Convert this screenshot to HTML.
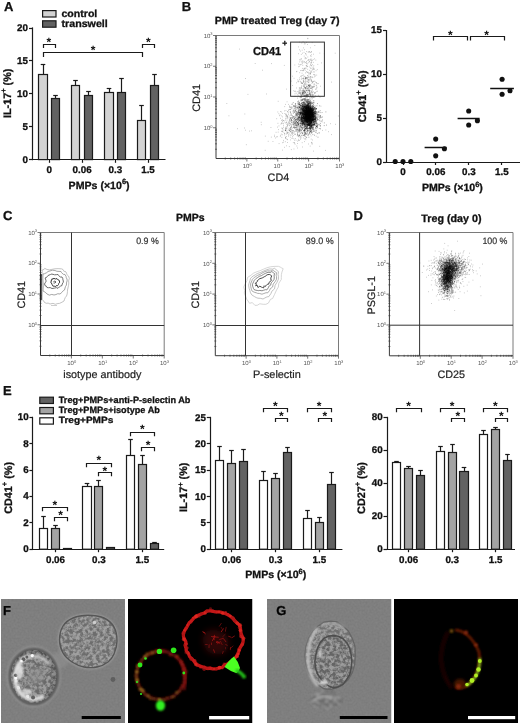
<!DOCTYPE html>
<html><head><meta charset="utf-8"><style>
html,body{margin:0;padding:0;background:#fff;}
body{width:520px;height:724px;overflow:hidden;}
svg{display:block;will-change:transform;}
text{font-family:"Liberation Sans",sans-serif;text-rendering:geometricPrecision;}
text[font-weight="bold"]{stroke:#111;stroke-width:0.3px;}
text[fill="#222"]{stroke:#222;stroke-width:0.2px;}
text[fill="#333"]{stroke:#333;stroke-width:0.2px;}
</style></head><body>
<svg width="520" height="724" viewBox="0 0 520 724">
<defs>
<filter id="nz" x="0" y="0" width="100%" height="100%" color-interpolation-filters="sRGB">
<feTurbulence type="fractalNoise" baseFrequency="0.3" numOctaves="3" seed="7"/>
<feColorMatrix type="matrix" values="3.2 0 0 0 -1.1  3.2 0 0 0 -1.1  3.2 0 0 0 -1.1  0 0 0 0 1"/>
<feGaussianBlur stdDeviation="0.65"/>
</filter>
<filter id="nz2" x="0" y="0" width="100%" height="100%" color-interpolation-filters="sRGB">
<feTurbulence type="fractalNoise" baseFrequency="0.5" numOctaves="1" seed="21"/>
<feColorMatrix type="matrix" values="1 0 0 0 0  1 0 0 0 0  1 0 0 0 0  0 0 0 0 1"/>
</filter>
<filter id="nzr" x="0" y="0" width="100%" height="100%" color-interpolation-filters="sRGB">
<feTurbulence type="fractalNoise" baseFrequency="0.35" numOctaves="2" seed="4"/>
<feColorMatrix type="matrix" values="0 0 0 0 0.85  0 0 0 0 0.05  0 0 0 0 0.05  3 0 0 0 -1.3"/>
</filter>
<filter id="bl1" x="-20%" y="-20%" width="140%" height="140%"><feGaussianBlur stdDeviation="0.9"/></filter>
<filter id="bl2" x="-30%" y="-30%" width="160%" height="160%"><feGaussianBlur stdDeviation="1.6"/></filter>
<filter id="bl3" x="-50%" y="-50%" width="200%" height="200%"><feGaussianBlur stdDeviation="3"/></filter>
<filter id="bl05" x="-20%" y="-20%" width="140%" height="140%"><feGaussianBlur stdDeviation="0.5"/></filter>
<filter id="sb" x="-5%" y="-5%" width="110%" height="110%"><feGaussianBlur stdDeviation="0.35"/></filter>
<clipPath id="cF"><rect x="1" y="599" width="124" height="124"/></clipPath>
<clipPath id="cFr"><rect x="128" y="599" width="124.5" height="124"/></clipPath>
<clipPath id="cG"><rect x="267" y="599" width="124.5" height="124"/></clipPath>
<clipPath id="cGr"><rect x="394" y="599" width="124" height="124"/></clipPath>
<clipPath id="cellA"><path d="M88 615.2C93.17 615.2 99.67 616.03 104 618C108.33 619.97 111.83 623.17 114 627C116.17 630.83 117 636.5 117 641C117 645.5 115.5 650.5 114 654C112.5 657.5 110.83 659.83 108 662C105.17 664.17 101 666.17 97 667C93 667.83 88.17 667.83 84 667C79.83 666.17 75.5 664.33 72 662C68.5 659.67 65.08 656.67 63 653C60.92 649.33 59.5 644.5 59.5 640C59.5 635.5 60.75 629.67 63 626C65.25 622.33 68.83 619.8 73 618C77.17 616.2 82.83 615.2 88 615.2Z"/></clipPath><clipPath id="cellB"><ellipse cx="33.7" cy="676.5" rx="23" ry="26.5"/></clipPath><clipPath id="cellG"><ellipse cx="333.6" cy="661.5" rx="18.4" ry="26.3"/></clipPath><clipPath id="ringR"><ellipse cx="213.5" cy="640.5" rx="29" ry="29.5"/></clipPath><clipPath id="cellGo"><path d="M355.28 655.5L354.65 664.43L352.29 672.86L348.13 679.83L342.71 684.69L336.77 687.78L330.5 689.49L324.04 688.76L318.15 685.02L312.82 679.9L308.68 672.89L305.94 664.58L305.01 655.5L305.95 646.42L308.69 638.12L312.83 631.11L318.18 626.06L324.01 622.08L330.5 621.04L337.01 621.96L342.89 625.9L348.24 631.02L352.23 638.18L354.98 646.45Z"/></clipPath><clipPath id="blobG"><ellipse cx="326" cy="700" rx="16" ry="10"/></clipPath></defs>
<rect width="520" height="724" fill="#fff"/>
<text x="4" y="11" font-size="13" fill="#111" font-weight="bold">A</text>
<rect x="42.6" y="10.6" width="13.4" height="6.4" fill="#d3d3d3" stroke="#1a1a1a" stroke-width="1.2"/>
<rect x="42.6" y="20.8" width="13.4" height="6.4" fill="#626262" stroke="#1a1a1a" stroke-width="1.2"/>
<text x="61.5" y="16.8" font-size="10.3" fill="#111" font-weight="bold" textLength="35.8" lengthAdjust="spacingAndGlyphs">control</text>
<text x="61.5" y="26.7" font-size="10.3" fill="#111" font-weight="bold" textLength="46.3" lengthAdjust="spacingAndGlyphs">transwell</text>
<line x1="32.5" y1="27.4" x2="32.5" y2="160.2" stroke="#1a1a1a" stroke-width="1.2"/>
<line x1="32.1" y1="159.5" x2="165.5" y2="159.5" stroke="#1a1a1a" stroke-width="1.2"/>
<line x1="29" y1="159.5" x2="32.7" y2="159.5" stroke="#1a1a1a" stroke-width="1.2"/>
<text x="28" y="162.6" font-size="9.8" fill="#111" text-anchor="end" font-weight="bold">0</text>
<line x1="29" y1="126.5" x2="32.7" y2="126.5" stroke="#1a1a1a" stroke-width="1.2"/>
<text x="28" y="129.7" font-size="9.8" fill="#111" text-anchor="end" font-weight="bold">5</text>
<line x1="29" y1="93.5" x2="32.7" y2="93.5" stroke="#1a1a1a" stroke-width="1.2"/>
<text x="28" y="96.8" font-size="9.8" fill="#111" text-anchor="end" font-weight="bold">10</text>
<line x1="29" y1="60.5" x2="32.7" y2="60.5" stroke="#1a1a1a" stroke-width="1.2"/>
<text x="28" y="63.9" font-size="9.8" fill="#111" text-anchor="end" font-weight="bold">15</text>
<line x1="29" y1="28.5" x2="32.7" y2="28.5" stroke="#1a1a1a" stroke-width="1.2"/>
<text x="28" y="31" font-size="9.8" fill="#111" text-anchor="end" font-weight="bold">20</text>
<line x1="49.5" y1="159.6" x2="49.5" y2="162.8" stroke="#1a1a1a" stroke-width="1.2"/>
<text x="49.3" y="172.8" font-size="9.8" fill="#111" text-anchor="middle" font-weight="bold">0</text>
<line x1="82.5" y1="159.6" x2="82.5" y2="162.8" stroke="#1a1a1a" stroke-width="1.2"/>
<text x="82.1" y="172.8" font-size="9.8" fill="#111" text-anchor="middle" font-weight="bold">0.06</text>
<line x1="115.5" y1="159.6" x2="115.5" y2="162.8" stroke="#1a1a1a" stroke-width="1.2"/>
<text x="115.3" y="172.8" font-size="9.8" fill="#111" text-anchor="middle" font-weight="bold">0.3</text>
<line x1="148.5" y1="159.6" x2="148.5" y2="162.8" stroke="#1a1a1a" stroke-width="1.2"/>
<text x="148" y="172.8" font-size="9.8" fill="#111" text-anchor="middle" font-weight="bold">1.5</text>
<text x="99.1" y="189" font-size="10.6" font-weight="bold" fill="#111" text-anchor="middle">PMPs (×10<tspan font-size="7.5" dy="-4.6">6</tspan><tspan dy="4.6">)</tspan></text>
<text transform="translate(10.6 93.3) rotate(-90)" x="0" y="0" font-size="10.8" fill="#111" text-anchor="middle" font-weight="bold">IL-17<tspan font-size="7.5" dy="-4.6">+</tspan><tspan dy="4.6"> (%)</tspan></text>
<line x1="43.5" y1="74.5" x2="43.5" y2="64.5" stroke="#1a1a1a" stroke-width="1.2"/>
<line x1="40.7" y1="64.5" x2="45.3" y2="64.5" stroke="#1a1a1a" stroke-width="1.2"/>
<rect x="38.5" y="74.5" width="9" height="85.1" fill="#d3d3d3" stroke="#1a1a1a" stroke-width="1.2"/>
<line x1="75.5" y1="85.5" x2="75.5" y2="80.5" stroke="#1a1a1a" stroke-width="1.2"/>
<line x1="73.2" y1="80.5" x2="77.8" y2="80.5" stroke="#1a1a1a" stroke-width="1.2"/>
<rect x="71.5" y="85.5" width="8" height="74.1" fill="#d3d3d3" stroke="#1a1a1a" stroke-width="1.2"/>
<line x1="109.5" y1="92.5" x2="109.5" y2="88.5" stroke="#1a1a1a" stroke-width="1.2"/>
<line x1="106.7" y1="88.5" x2="111.3" y2="88.5" stroke="#1a1a1a" stroke-width="1.2"/>
<rect x="104.5" y="92.5" width="9" height="67.1" fill="#d3d3d3" stroke="#1a1a1a" stroke-width="1.2"/>
<line x1="141.5" y1="120.5" x2="141.5" y2="105.5" stroke="#1a1a1a" stroke-width="1.2"/>
<line x1="139.2" y1="105.5" x2="143.8" y2="105.5" stroke="#1a1a1a" stroke-width="1.2"/>
<rect x="137.5" y="120.5" width="8" height="39.1" fill="#d3d3d3" stroke="#1a1a1a" stroke-width="1.2"/>
<line x1="55.5" y1="98.5" x2="55.5" y2="95.5" stroke="#1a1a1a" stroke-width="1.2"/>
<line x1="53.2" y1="95.5" x2="57.8" y2="95.5" stroke="#1a1a1a" stroke-width="1.2"/>
<rect x="51.5" y="98.5" width="8" height="61.1" fill="#626262" stroke="#1a1a1a" stroke-width="1.2"/>
<line x1="88.5" y1="95.5" x2="88.5" y2="91.5" stroke="#1a1a1a" stroke-width="1.2"/>
<line x1="86.2" y1="91.5" x2="90.8" y2="91.5" stroke="#1a1a1a" stroke-width="1.2"/>
<rect x="84.5" y="95.5" width="8" height="64.1" fill="#626262" stroke="#1a1a1a" stroke-width="1.2"/>
<line x1="121.5" y1="92.5" x2="121.5" y2="78.5" stroke="#1a1a1a" stroke-width="1.2"/>
<line x1="119.2" y1="78.5" x2="123.8" y2="78.5" stroke="#1a1a1a" stroke-width="1.2"/>
<rect x="117.5" y="92.5" width="8" height="67.1" fill="#626262" stroke="#1a1a1a" stroke-width="1.2"/>
<line x1="154.5" y1="85.5" x2="154.5" y2="74.5" stroke="#1a1a1a" stroke-width="1.2"/>
<line x1="152.2" y1="74.5" x2="156.8" y2="74.5" stroke="#1a1a1a" stroke-width="1.2"/>
<rect x="150.5" y="85.5" width="8" height="74.1" fill="#626262" stroke="#1a1a1a" stroke-width="1.2"/>
<path d="M43.5 47.9V44.5H55.5V47.9" stroke="#1a1a1a" stroke-width="1.2" fill="none"/>
<path d="M43.5 56.9V52.5H142.5V56.9" stroke="#1a1a1a" stroke-width="1.2" fill="none"/>
<path d="M142.5 47.9V44.5H154.5V47.9" stroke="#1a1a1a" stroke-width="1.2" fill="none"/>
<text x="48.9" y="46.12" font-size="12" font-weight="bold" fill="#111" text-anchor="middle" style="stroke:none">*</text>
<text x="93" y="53.92" font-size="12" font-weight="bold" fill="#111" text-anchor="middle" style="stroke:none">*</text>
<text x="148.4" y="46.12" font-size="12" font-weight="bold" fill="#111" text-anchor="middle" style="stroke:none">*</text>
<text x="181.8" y="11.2" font-size="13" fill="#111" font-weight="bold">B</text>
<text x="214.8" y="23.8" font-size="10.5" fill="#111" font-weight="bold" textLength="124.8" lengthAdjust="spacingAndGlyphs">PMP treated Treg (day 7)</text>
<path d="M307.5 38.3h.7m-5.5 3.3h.7m8.4 1h.7m-5.3 1.9h.7m6.6 1h.7m-37 2h.7m31.2 .3h.7m-7.5 .1h.7m-4.9 1.9h.7m.4 1.3h.7m5.1 .5h.7m1.2 .2h.7m.6 .1h.7m1.2 .1h.7m-4 .2h.7m1.6 .3h.7m24 .7h.7m-37.5 .5h.7m6.8 .1h.7m-5.3 .6h.7m9.4 .4h.7m-5.8 .2h.7m-2.8 1.1h.7m6.2 .4h.7m-3.9 .5h.7m-3.5 1.8h.7m8.7 0h.7m-14.1 .1h.7m-.4 0h.7m8.4 .3h.7m.5 0h.7m-3.8 .3h.7m-9.6 .3h.7m.1 .1h.7m6.8 .4h.7m-.5 .1h.7m3.3 0h.7m-10 .4h.7m8.3 0h.7m-11.3 .5h.7m7.3 .1h.7m-3.4 .1h.7m-4.6 .3h.7m6.1 0h.7m-10.4 .1h.7m2.9 .1h.7m9.2 .4h.7m-8.5 .2h.7m-1.3 .1h.7m2.7 0h.7m-2.6 .1h.7m3.4 .1h.7m-56 .6h.7m15.7 .1h.7m30.3 .1h.7m7.2 .7h.7m6.7 0h.7m-23.7 .6h.7m-11.3 .4h.7m26.6 .1h.7m-.4 .5h.7m-13 .3h.7m-1.6 .4h.7m7.5 .1h.7m5.7 .3h.7m-3.6 .9h.7m1.1 0h.7m-7.3 .1h.7m-.2 .2h.7m7.3 .1h.7m-7 .9h.7m5.4 .2h.7m-10.5 .1h.7m9.3 0h.7m2.5 0h.7m-55.4 .6h.7m41.9 0h.7m3.5 .1h.7m-8.3 .1h.7m13.6 .3h.7m-13.7 .1h.7m2.9 .8h.7m-10.7 .1h.7m9.9 .4h.7m-.7 .4h.7m2.2 .4h.7m-.9 .3h.7m-.3 .1h.7m2.4 1.3h.7m2.6 .5h.7m-14.7 .3h.7m4.6 .6h.7m6.6 0h.7m-23.6 .2h.7m7.2 .1h.7m11.1 .5h.7m1.7 0h.7m-13.8 .1h.7m3.5 .1h.7m2.8 0h.7m-4.2 .5h.7m.5 0h.7m.5 .1h.7m3.1 .1h.7m-3.4 .1h.7m-6.6 .2h.7m-9.9 .3h.7m10.8 .2h.7m0 .1h.7m-1.7 .1h.7m4.3 .2h.7m-7 .1h.7m-3.4 .1h.7m8.3 0h.7m-3.1 .1h.7m-8.9 .4h.7m8 .2h.7m-.5 0h.7m-3.7 .2h.7m4.7 .8h.7m-8.1 .1h.7m7.2 0h.7m-13.4 .1h.7m8.4 .1h.7m-8.4 .2h.7m2.6 0h.7m9 0h.7m-15.8 .2h.7m15.1 0h.7m-7.4 .1h.7m-2.7 .2h.7m-7.7 .1h.7m2 0h.7m1.9 .1h.7m27.2 .1h.7m-30.2 .3h.7m9.7 0h.7m-7.1 .2h.7m-4.7 .3h.7m-1.2 .5h.7m9.9 0h.7m-10 .2h.7m1.4 .3h.7m9 .2h.7m-11.1 .2h.7m1.4 .3h.7m2.7 0h.7m-.2 .1h.7m-5.4 .1h.7m4.4 0h.7m-6.9 .3h.7m-1.6 .1h.7m4.3 .2h.7m-.3 .3h.7m.9 .2h.7m-6.6 .1h.7m4.2 .1h.7m-.4 0h.7m-7 .2h.7m5.4 .1h.7m-3.1 .1h.7m3.7 .1h.7m1.1 0h.7m-5.6 .2h.7m5.1 0h.7m-8 .4h.7m9.3 0h.7m-.6 0h.7m-18.4 .6h.7m5.2 0h.7m6.6 0h.7m-16.6 .2h.7m2.5 0h.7m4.3 .1h.7m-4.7 .1h.7m8.7 .1h.7m-3.1 .1h.7m-7.3 .1h.7m6.4 0h.7m2.2 .1h.7m-5.2 .1h.7m8.5 .5h.7m-.7 0h.7m-3.9 .5h.7m-4.8 .2h.7m-8.8 .1h.7m8.4 0h.7m-9.7 .1h.7m4.9 0h.7m2.4 0h.7m-11 .1h.7m3.4 0h.7m.4 .1h.7m.4 0h.7m-6.6 .1h.7m6.2 .1h.7m4.1 0h.7m-17.9 .1h.7m13.8 0h.7m-7.1 .1h.7m7.2 0h.7m-7.7 .2h.7m8.6 0h.7m-8.2 .2h.7m12.3 .1h.7m-1.6 .2h.7m-12.7 .2h.7m8.1 .2h.7m-16.1 .1h.7m13.1 0h.7m-9.8 .1h.7m.5 0h.7m-4.5 .1h.7m4.3 0h.7m-.4 0h.7m-7.4 .1h.7m4.1 .1h.7m1.2 0h.7m-5.5 .3h.7m5.9 0h.7m-5.5 .2h.7m-.4 0h.7m11.4 0h.7m-15.9 .2h.7m5.1 0h.7m8.9 .1h.7m-6.3 .1h.7m-7.2 .2h.7m1.3 0h.7m-9.6 .3h.7m6.4 0h.7m10.5 0h.7m-12.6 .1h.7m7 0h.7m-16 .1h.7m12.4 0h.7m3.6 0h.7m-46.6 .1h.7m44.3 0h.7m-10.1 .1h.7m1.3 0h.7m5.5 0h.7m-8.5 .1h.7m-5.3 .1h.7m8 0h.7m1.1 .1h.7m-2.7 .1h.7m.3 0h.7m-.3 .1h.7m1.4 0h.7m-.3 0h.7m1.6 0h.7m-7.3 .1h.7m2.6 0h.7m3.7 .1h.7m-5.6 .1h.7m-1.7 .2h.7m-2.2 .1h.7m.2 0h.7m.2 0h.7m1.9 0h.7m-13.2 .2h.7m6.2 0h.7m4.5 0h.7m-4.2 .1h.7m.3 0h.7m-3 .2h.7m6.2 0h.7m-9.2 .2h.7m4.1 0h.7m-8.1 .1h.7m5.9 0h.7m-4.3 .1h.7m1.3 0h.7m-.3 0h.7m-2.6 .1h.7m1.1 0h.7m.6 .1h.7m-3.8 .1h.7m-4.7 .1h.7m11.1 0h.7m-12.3 .1h.7m-1.4 .4h.7m5.8 0h.7m5 0h.7m-2.9 .2h.7m4 0h.7m-14.7 .1h.7m10.2 0h.7m-2.8 .3h.7m2 1.2h.7m-11.4 1.3h.7m4.3 .9h.7m-29.3 .3h.7m8.2 .5h.7m15 1.4h.7m-76.6 .3h.7m64 .8h.7m2.8 1.2h.7m8.4 .1h.7m4.2 0h.7m-20.4 .4h.7m4.6 .1h.7m-10.6 .5h.7m12.8 .1h.7m-3.5 .1h.7m-.2 .4h.7m13.7 .1h.7m-21.5 .1h.7m10.7 0h.7m-4.3 .3h.7m8.7 0h.7m-.8 .2h.7m-5.7 .3h.7m4.4 0h.7m-5.1 .4h.7m-4.8 .2h.7m11.9 .2h.7m-20.6 .1h.7m12 .1h.7m-9.3 .1h.7m-6.3 .2h.7m12 0h.7m-14 .2h.7m.7 0h.7m11.4 0h.7m1.2 0h.7m-11.8 .3h.7m1.5 .3h.7m11.4 .1h.7m-22.2 .2h.7m1.7 .1h.7m14.3 .1h.7m-19.4 .1h.7m19.2 .3h.7m-.4 0h.7m9.3 0h.7m-22.7 .1h.7m12.3 0h.7m5.7 0h.7m-17.7 .1h.7m2.3 0h.7m.6 .1h.7m11.4 0h.7m-24.6 .1h.7m6.5 0h.7m-2.1 .1h.7m6.9 0h.7m-1 .1h.7m-2.9 .2h.7m7.2 .1h.7m-9.2 .2h.7m9.2 0h.7m.2 .2h.7m.7 0h.7m11.3 0h.7m-21.8 .1h.7m-1 .2h.7m-2.4 .2h.7m2.4 0h.7m4.5 0h.7m-5.8 .1h.7m3.5 0h.7m-10.4 .1h.7m-2.1 .1h.7m4.4 0h.7m4.8 .1h.7m-10.7 .1h.7m6.8 .2h.7m2.4 0h.7m.1 0h.7m-10.3 .1h.7m3.6 .1h.7m10.7 0h.7m-28.2 .2h.7m16.6 .1h.7m7.8 0h.7m-3.5 .1h.7m.7 0h.7m-22.8 .1h.7m8.5 0h.7m2.8 .1h.7m-.1 0h.7m3.4 0h.7m-9.4 .2h.7m10.3 0h.7m-9.3 .1h.7m5.4 0h.7m.4 0h.7m-27.3 .1h.7m27.5 0h.7m-2.2 .1h.7m10.4 0h.7m-26.8 .1h.7m5.2 .1h.7m4.9 0h.7m-17.2 .1h.7m3.7 0h.7m.4 .2h.7m3.6 0h.7m7 0h.7m-17.8 .4h.7m-2 .1h.7m15.3 .1h.7m5.8 0h.7m-11.5 .1h.7m21.9 .1h.7m-14.5 .1h.7m-14 .2h.7m5.3 0h.7m-12.1 .1h.7m15.7 0h.7m6.5 0h.7m-5.2 .1h.7m5.8 0h.7m-20.6 .2h.7m8.9 0h.7m-.6 0h.7m-8.3 .1h.7m2.7 0h.7m5.5 0h.7m-7 .1h.7m.3 0h.7m6.6 0h.7m-11.8 .2h.7m5 .2h.7m.7 0h.7m-13.1 .1h.7m8.6 0h.7m.4 0h.7m6.9 0h.7m-18.5 .2h.7m10 0h.7m-10.9 .1h.7m15.9 0h.7m-22.6 .1h.7m.8 0h.7m2.6 0h.7m11 0h.7m.9 0h.7m-14.4 .1h.7m16.9 0h.7m-22.9 .2h.7m17 0h.7m.5 0h.7m-12.8 .1h.7m4.3 0h.7m3.2 0h.7m4.7 0h.7m-5.1 .1h.7m3.9 0h.7m-7.1 .1h.7m8.7 0h.7m-16.4 .1h.7m-.5 0h.7m3.4 .2h.7m2.9 0h.7m-6.5 .1h.7m.5 0h.7m-2.1 .1h.7m-5.9 .1h.7m-9.6 .1h.7m20.4 0h.7m.4 0h.7m8.1 0h.7m-16.5 .1h.7m6.5 .1h.7m-14 .1h.7m4.9 0h.7m4.7 0h.7m10.4 0h.7m-15.8 .1h.7m7.6 0h.7m2.1 0h.7m.6 0h.7m-17.5 .1h.7m1.6 0h.7m8.8 0h.7m5.1 0h.7m-26.6 .1h.7m15.3 0h.7m3.9 0h.7m0 0h.7m-3.8 .2h.7m4.1 0h.7m-17.9 .1h.7m11.4 0h.7m-.3 .1h.7m-3 .1h.7m-.6 0h.7m-.2 .1h.7m3.7 0h.7m-8.4 .1h.7m-.6 0h.7m.3 0h.7m1.7 0h.7m-.5 0h.7m-20.8 .1h.7m12.4 0h.7m.8 0h.7m3.1 0h.7m5.4 0h.7m-.3 0h.7m-17.1 .1h.7m14.9 0h.7m-11.6 .1h.7m11.6 0h.7m-5.4 .1h.7m5.2 0h.7m-2.6 .1h.7m.9 0h.7m0 .1h.7m-16.9 .1h.7m2.3 0h.7m-7.1 .1h.7m23.6 0h.7m-8.4 .2h.7m.3 0h.7m.5 0h.7m1.7 0h.7m-15.4 .1h.7m-.6 0h.7m3 0h.7m4.5 .1h.7m15.9 0h.7m-30.9 .1h.7m3.3 0h.7m5.8 0h.7m2.6 0h.7m-17.3 .1h.7m-.1 0h.7m19.1 0h.7m-18.3 .1h.7m.9 .1h.7m9.4 0h.7m2.4 0h.7m1.2 0h.7m5.7 0h.7m-12.4 .1h.7m-8 .1h.7m6.3 0h.7m-5.1 .1h.7m-5.6 .1h.7m3.1 0h.7m-.7 0h.7m4.3 0h.7m4.2 0h.7m-13 .1h.7m-10.4 .1h.7m2.1 0h.7m4 0h.7m2.2 0h.7m.7 0h.7m5.4 .1h.7m10.4 0h.7m-33.4 .1h.7m20.5 0h.7m2 0h.7m3.8 0h.7m-29.5 .1h.7m22.9 0h.7m.8 0h.7m-29.2 .1h.7m4.2 .1h.7m6.8 0h.7m4.2 0h.7m2.3 .1h.7m5.2 0h.7m-15.8 .1h.7m4.5 .2h.7m1 0h.7m0 0h.7m-9.5 .1h.7m5.5 .1h.7m2.3 0h.7m4.3 0h.7m6.1 .1h.7m2.2 0h.7m-25.5 .1h.7m-.6 0h.7m8 0h.7m2.3 0h.7m3 .1h.7m1.1 0h.7m-7.1 .1h.7m-3.5 .1h.7m-5.4 .1h.7m17.1 0h.7m5.9 0h.7m-54.2 .1h.7m29.7 0h.7m4 0h.7m1.2 0h.7m4.3 0h.7m-15.2 .2h.7m4.6 0h.7m13.7 0h.7m-10.4 .1h.7m1.4 0h.7m-11.7 .1h.7m16 0h.7m-13.3 .1h.7m15.1 0h.7m-13.5 .1h.7m5.3 0h.7m3.1 0h.7m.1 .1h.7m1.2 0h.7m-15.3 .1h.7m1.3 0h.7m8.3 0h.7m.3 0h.7m-9.5 .1h.7m-15.3 .1h.7m13.3 0h.7m.9 0h.7m3.5 0h.7m9.8 0h.7m-17.7 .1h.7m19.2 0h.7m-16.7 .1h.7m-.5 0h.7m12.1 0h.7m-23.2 .2h.7m13.3 0h.7m-6.2 .1h.7m3.9 0h.7m-13.3 .1h.7m10.9 0h.7m6.3 0h.7m-17.4 .1h.7m0 0h.7m9.5 0h.7m-5 .1h.7m6.1 0h.7m-9.9 .1h.7m21.8 0h.7m-4.1 .1h.7m-7 .1h.7m-20.6 .5h.7m11.1 0h.7m3.6 0h.7m-13.1 .1h.7m.1 0h.7m4.4 0h.7m12.4 0h.7m-43.1 .1h.7m22.2 0h.7m.8 0h.7m11.6 0h.7m-12.7 .1h.7m6.7 0h.7m-17.3 .2h.7m14 0h.7m-10.1 .1h.7m4.3 0h.7m-.6 0h.7m18.1 0h.7m-72 .1h.7m36.7 .1h.7m10 0h.7m7 .1h.7m5 0h.7m.1 0h.7m-17.4 .1h.7m14.2 0h.7m4.4 0h.7m-25.1 .2h.7m25.9 0h.7m-26.5 .1h.7m19.6 0h.7m2.9 0h.7m-73.5 .1h.7m82.2 0h.7m-10.1 .1h.7m-1.3 .1h.7m-21.2 .1h.7m-3.8 .1h.7m10.2 0h.7m12 0h.7m-20.8 .1h.7m6.8 .1h.7m.3 0h.7m6.9 0h.7m-28.4 .3h.7m16.5 0h.7m1.3 .2h.7m.9 .1h.7m.9 .1h.7m5.6 0h.7m17.8 0h.7m-17.3 .1h.7m-64.4 .1h.7m54.9 0h.7m-16.1 .2h.7m2.9 0h.7m2.3 0h.7m11.4 0h.7m3 0h.7m13.8 0h.7m-30.3 .1h.7m6.3 0h.7m-15.1 .1h.7m12 0h.7m2.3 0h.7m1.4 0h.7m6.8 0h.7m-24.7 .1h.7m29 0h.7m-65.8 .1h.7m38.8 0h.7m-2.4 .1h.7m3.3 0h.7m3.6 0h.7m-.4 0h.7m7.2 0h.7m-13.4 .1h.7m-44.4 .1h.7m46.1 0h.7m13.3 0h.7m-29.4 .2h.7m8 0h.7m4 0h.7m4.3 0h.7m2.6 0h.7m-21.3 .1h.7m16.3 .1h.7m9.3 0h.7m-19.6 .1h.7m19.2 0h.7m-4.2 .1h.7m-9.1 .1h.7m8.4 .1h.7m2 0h.7m-16.7 .1h.7m9.4 0h.7m10.7 0h.7m-38.6 .1h.7m27 0h.7m-23.4 .1h.7m8.8 0h.7m9.7 0h.7m-11 .1h.7m16.7 0h.7m-5.7 .2h.7m3.7 0h.7m-22.1 .1h.7m12.5 0h.7m-14.5 .1h.7m3.5 0h.7m19.6 .1h.7m-15.5 .1h.7m3.1 0h.7m.7 .1h.7m-14 .1h.7m12.8 0h.7m2.7 0h.7m-22.2 .2h.7m1.7 0h.7m3.7 0h.7m-7.3 .1h.7m20.6 .1h.7m-3.8 .3h.7m-6.3 .1h.7m-3.7 .2h.7m14.2 0h.7m-23.8 .1h.7m8.6 0h.7m-7.3 .1h.7m14.6 0h.7m5.4 0h.7m-15.9 .1h.7m35.8 .2h.7m-50 .1h.7m15.1 .1h.7m9.7 0h.7m-24.5 .1h.7m3.5 .2h.7m12.3 .1h.7m1.4 0h.7m-13.7 .1h.7m-10.9 .1h.7m16.4 0h.7m4.8 .1h.7m-5.6 .1h.7m.2 .1h.7m-2.9 .1h.7m-32.6 .3h.7m39.7 0h.7m-26.1 .2h.7m24.1 .1h.7m-19.4 .2h.7m-15.8 .5h.7m13.7 0h.7m19.8 .1h.7m-.1 .5h.7m-6.4 .2h.7m1.5 0h.7m-11.2 .2h.7m12.2 .5h.7m-12.5 .2h.7m-7.3 .9h.7m17.9 0h.7m6.1 .3h.7m-17.3 .2h.7m1.9 .3h.7m-1.6 .7h.7m-25.5 .3h.7m30.7 .1h.7m-19.8 .1h.7m-2.3 .5h.7m27.3 .2h.7m-24.7 .1h.7m4.9 .1h.7m18 0h.7m-30.1 .1h.7m18.9 0h.7m-8.2 .5h.7m17 .7h.7m-4.5 .1h.7m-63 .7h.7m72.8 1.6h.7m-17.9 .7h.7m-18.9 .3h.7m12.6 .7h.7m-4.4 1h.7m-12.2 1.1h.7" stroke="#000" stroke-width="0.7" stroke-opacity="0.4" fill="none" filter="url(#sb)"/>
<path d="M307.5 38.7h.7m-9 3.4h.7m6.2 .3h.7m-2.8 .4h.7m-3.2 .2h.7m2.7 .8h.7m-1.7 .2h.7m-6.5 2.9h.7m-59.5 2.2h.7m64.3 .6h.7m-3.2 .5h.7m8.4 1.4h.7m-2.6 .2h.7m-6 .6h.7m15.1 .7h.7m-18 .1h.7m2.4 .5h.7m17.9 .1h.7m-11.6 .4h.7m-3.6 1.4h.7m-6 2.1h.7m-.5 .3h.7m.6 .3h.7m5.8 1.2h.7m-4.1 .3h.7m5.4 .3h.7m-6.1 .1h.7m.3 .8h.7m-7.8 .5h.7m-3 1h.7m8.6 .2h.7m-.6 .2h.7m9.2 0h.7m-15.5 .8h.7m.3 .2h.7m-9.6 .2h.7m1.9 .2h.7m-1.9 .2h.7m11.5 0h.7m-12.8 .4h.7m2 .5h.7m6.7 0h.7m-4.8 .1h.7m-.1 .1h.7m6.4 .1h.7m-7.5 .5h.7m0 .3h.7m1.3 .5h.7m-6.2 1.2h.7m-2.5 .2h.7m10.4 0h.7m-9.9 .2h.7m6 0h.7m-7.9 .3h.7m7.9 .5h.7m-10.4 1h.7m.2 0h.7m7.6 0h.7m-12 .2h.7m9.2 .6h.7m-14.3 .2h.7m13.7 .3h.7m1.7 .2h.7m-.2 .1h.7m-6.4 .3h.7m2.6 0h.7m-12.8 .4h.7m5.2 .2h.7m3.8 .1h.7m-8.8 .2h.7m6.1 .4h.7m.9 .6h.7m3.7 .5h.7m-6.5 .1h.7m-6.4 .2h.7m10.4 0h.7m-7.6 .5h.7m-6.5 .2h.7m2.2 .6h.7m5.5 .2h.7m-1.1 .2h.7m-7.2 .2h.7m3.6 0h.7m1.6 .5h.7m-4.6 .1h.7m5.5 0h.7m-8.2 .1h.7m-6.7 .3h.7m7.6 .1h.7m-1.1 .1h.7m-1.4 .1h.7m-61.7 .3h.7m56.7 0h.7m-.5 0h.7m1.9 0h.7m-.7 .1h.7m-4.5 .3h.7m1.4 .1h.7m4.7 .4h.7m1.5 .2h.7m-14.6 .3h.7m9.5 0h.7m-2.7 .1h.7m-3.4 .2h.7m5.1 .5h.7m1.6 .1h.7m-3 .2h.7m-18.5 .1h.7m12 0h.7m10.1 0h.7m-9.4 .3h.7m5.2 0h.7m-7.7 .7h.7m6.7 0h.7m-.1 0h.7m1.9 0h.7m-8.1 .1h.7m-.6 .1h.7m-5.8 .2h.7m12.7 0h.7m-8.3 .2h.7m-13.3 .1h.7m4.1 .2h.7m14.6 .2h.7m-14.8 .3h.7m2.9 0h.7m11.5 .1h.7m-14 .1h.7m12.3 0h.7m-4.6 .4h.7m-6.7 .3h.7m.3 .4h.7m4.4 .3h.7m1.3 0h.7m-8.1 .2h.7m-.9 .1h.7m-.2 0h.7m-17.3 .1h.7m16.1 .1h.7m1.1 0h.7m5 0h.7m-15.5 .2h.7m4.5 .1h.7m1.9 0h.7m.4 .1h.7m-1.8 .1h.7m-6.5 .1h.7m2.1 0h.7m13.1 0h.7m-19.4 .1h.7m11.8 .2h.7m-8 .1h.7m4.7 .1h.7m-8.8 .2h.7m8.3 0h.7m-1.1 .1h.7m-4.5 .1h.7m-5.4 .1h.7m-.1 .1h.7m7.3 .1h.7m-12.6 .1h.7m10 0h.7m-10.9 .2h.7m6.9 0h.7m-4.2 .1h.7m-.6 0h.7m3.8 0h.7m-4.1 .1h.7m1.1 0h.7m-3.8 .1h.7m.9 0h.7m-2.1 .1h.7m5.5 0h.7m-9 .2h.7m.9 0h.7m1.4 .1h.7m2.1 .1h.7m.9 .2h.7m4.3 0h.7m-14.7 .2h.7m-3.7 .1h.7m5 0h.7m-19.8 .1h.7m16.7 .3h.7m3.5 .4h.7m-1.5 .1h.7m1 .2h.7m-5.9 .3h.7m2.1 0h.7m.7 0h.7m.9 0h.7m-6 .1h.7m-1.8 .3h.7m5.2 0h.7m-6.7 .1h.7m3 0h.7m0 .1h.7m-12.4 .2h.7m5.6 0h.7m6.5 0h.7m-6 .1h.7m5.2 0h.7m-16.2 .2h.7m8.9 0h.7m-.1 0h.7m-7.3 .1h.7m11 .1h.7m.9 .1h.7m-12 .1h.7m-4.5 .1h.7m6.3 0h.7m7.5 0h.7m-12.6 .1h.7m5.2 0h.7m.1 0h.7m-2.3 .1h.7m6.7 0h.7m-4.5 .1h.7m7 0h.7m-12.5 .2h.7m7.8 0h.7m-3.7 .1h.7m-8.1 .1h.7m-.1 0h.7m11.3 0h.7m-12.3 .2h.7m6.8 0h.7m-1.2 .1h.7m-8.9 .2h.7m-.1 0h.7m-.5 .1h.7m-4.8 .1h.7m5.3 .1h.7m-2 .1h.7m5.5 0h.7m-10.1 .1h.7m5.7 0h.7m2.4 .1h.7m-10 .1h.7m8.7 .2h.7m-6.3 .1h.7m-56.8 .2h.7m52.2 0h.7m6.2 0h.7m-5.7 .1h.7m.3 .2h.7m6.7 .1h.7m1.1 .1h.7m-11.7 .1h.7m3.4 0h.7m3.6 0h.7m-10.1 .1h.7m-.5 0h.7m-.2 0h.7m3.8 .1h.7m.3 .1h.7m10.8 0h.7m-14.3 .2h.7m9.5 .1h.7m-9.9 .1h.7m6.3 .1h.7m-10.7 .1h.7m-1.3 .1h.7m1.7 0h.7m5.7 0h.7m-8.5 .1h.7m3.2 0h.7m-6.8 .1h.7m8.5 0h.7m-16.2 .1h.7m9.7 0h.7m.1 .1h.7m1.9 0h.7m1.3 0h.7m7.9 0h.7m-11.2 .1h.7m-1.9 .1h.7m-1.6 .1h.7m-2.3 .1h.7m5.3 0h.7m-10.6 .1h.7m-2.1 .1h.7m.9 0h.7m9.6 .1h.7m1.3 0h.7m-2.4 .1h.7m.2 0h.7m6.4 0h.7m-23.1 .9h.7m8.8 1h.7m-3.4 .1h.7m-2.1 1.2h.7m.9 .1h.7m7.9 .1h.7m-13.8 .4h.7m-1.9 1.1h.7m1.7 1.1h.7m-1.6 .8h.7m-3.2 .2h.7m.1 0h.7m-14 .2h.7m2.2 0h.7m14.2 .2h.7m-5.8 .4h.7m1.2 .1h.7m-2.7 .1h.7m1.4 .3h.7m5.8 0h.7m2.3 .7h.7m10.6 0h.7m-31.8 .2h.7m16.1 0h.7m-3.5 .2h.7m.1 .1h.7m-.2 .2h.7m2.7 .2h.7m-6.8 .1h.7m-11.4 .2h.7m6.6 0h.7m-2.6 .1h.7m-.3 .3h.7m5.4 .1h.7m-11.5 .2h.7m3.3 0h.7m.9 0h.7m-3.6 .3h.7m1.8 0h.7m12.8 0h.7m-20.7 .1h.7m1.8 .4h.7m2.7 0h.7m3.4 0h.7m10.8 0h.7m-9.1 .1h.7m-14.7 .4h.7m13.5 .1h.7m3 0h.7m-10.4 .1h.7m-.4 .5h.7m-4.6 .1h.7m-2.4 .1h.7m5.7 .2h.7m12.6 .1h.7m-11.2 .2h.7m-3 .3h.7m-2.6 .2h.7m-.3 0h.7m19.1 0h.7m-39.1 .2h.7m15.3 0h.7m-9.5 .3h.7m1.8 0h.7m0 .1h.7m-13.6 .1h.7m3.1 0h.7m18.7 0h.7m-.5 0h.7m2.9 .1h.7m-15.2 .1h.7m6.1 .1h.7m-3 .1h.7m7.2 0h.7m-4.9 .3h.7m-8.7 .1h.7m10.5 0h.7m-14 .1h.7m3.9 0h.7m7.7 .1h.7m2 0h.7m-4.2 .1h.7m-5.3 .1h.7m3 .1h.7m6.1 0h.7m-24.7 .1h.7m10.4 0h.7m-9.5 .1h.7m17.7 .1h.7m1.4 0h.7m-27.2 .1h.7m11.4 0h.7m5.6 .2h.7m-53.1 .1h.7m45.9 .1h.7m15 0h.7m-22.3 .2h.7m21.4 0h.7m-3.6 .1h.7m.9 0h.7m-11.6 .1h.7m.5 0h.7m8.1 0h.7m3.1 0h.7m-6.3 .1h.7m-5.6 .1h.7m3.5 0h.7m6.7 .1h.7m-24.5 .1h.7m18.2 0h.7m-.5 0h.7m-5.9 .1h.7m11.5 0h.7m-22.7 .1h.7m18.4 0h.7m5.2 0h.7m-20.6 .2h.7m4.6 0h.7m-2.3 .1h.7m10.7 0h.7m3.5 0h.7m-20.6 .1h.7m1.1 0h.7m7.7 0h.7m4.5 0h.7m.9 0h.7m-11.6 .1h.7m3.2 0h.7m2.3 0h.7m2.5 0h.7m-32.5 .1h.7m26.9 0h.7m12.7 0h.7m-92.3 .1h.7m66.6 0h.7m-15.2 .1h.7m4.6 0h.7m15.9 0h.7m-15.2 .1h.7m19.2 0h.7m3.1 0h.7m24.7 0h.7m-39.5 .1h.7m-7.9 .1h.7m8.2 0h.7m7.5 .2h.7m.4 0h.7m-14.3 .1h.7m-4.4 .1h.7m.3 0h.7m.1 0h.7m8.3 0h.7m.2 0h.7m0 0h.7m-20 .1h.7m16.2 0h.7m17 0h.7m-20.5 .1h.7m5.8 0h.7m8.3 0h.7m-34.6 .1h.7m10 0h.7m9.2 0h.7m1.1 0h.7m-18.2 .1h.7m16.3 0h.7m6.5 0h.7m-8.3 .2h.7m5 .1h.7m-17.6 .1h.7m7.9 .1h.7m.7 0h.7m-2.7 .1h.7m1.2 0h.7m-11.7 .1h.7m6.7 0h.7m3.8 0h.7m7.5 0h.7m2.2 0h.7m-22.8 .1h.7m6.6 0h.7m-12.7 .1h.7m3.5 0h.7m11.1 0h.7m5.2 0h.7m10.1 0h.7m-31.9 .1h.7m3.9 0h.7m7 0h.7m-8.5 .1h.7m2.2 0h.7m4.5 0h.7m-4.6 .1h.7m-18.3 .1h.7m13.2 0h.7m5.1 0h.7m3.3 .1h.7m.1 0h.7m-15.4 .2h.7m15.8 0h.7m3.3 0h.7m-34.9 .1h.7m23.3 0h.7m2.4 0h.7m7.6 0h.7m-18.6 .1h.7m.5 0h.7m11.1 0h.7m4.7 0h.7m-.4 0h.7m-12.8 .1h.7m-2.2 .1h.7m1.2 0h.7m-8.4 .1h.7m10.6 .1h.7m-8.3 .1h.7m1.9 .1h.7m-11.2 .1h.7m14 0h.7m1.6 0h.7m8.9 0h.7m-13.2 .1h.7m-.2 0h.7m5.6 0h.7m-17 .1h.7m.9 0h.7m-.6 0h.7m11.3 0h.7m2.3 .1h.7m2.2 0h.7m-18.6 .1h.7m4.6 0h.7m-10.2 .1h.7m10.5 0h.7m15.6 0h.7m-32.6 .1h.7m1.5 .1h.7m17.7 0h.7m3.9 0h.7m-13.5 .1h.7m-18.6 .1h.7m7.4 0h.7m-6.9 .1h.7m-.2 0h.7m6.3 0h.7m1.1 0h.7m1.2 0h.7m3.7 0h.7m-8 .1h.7m4.7 0h.7m4 0h.7m1.4 0h.7m-2.1 .1h.7m.7 0h.7m3.6 0h.7m-17.8 .3h.7m13 0h.7m-10.8 .1h.7m5.5 0h.7m-7.5 .1h.7m7.5 0h.7m-6.4 .1h.7m7.7 0h.7m-12.6 .1h.7m1 .1h.7m6.3 0h.7m4.2 0h.7m-5.2 .1h.7m-6.7 .1h.7m5.8 0h.7m16.7 0h.7m-38.2 .1h.7m17.2 0h.7m1 0h.7m5.3 0h.7m-5.9 .1h.7m.4 0h.7m-20.7 .1h.7m3.4 0h.7m5.1 .1h.7m1.2 0h.7m-10.3 .1h.7m14.8 0h.7m9 0h.7m-.2 0h.7m-51.6 .1h.7m24.5 0h.7m8.7 0h.7m4.6 0h.7m7.4 0h.7m-1.6 .1h.7m-11.4 .2h.7m4.1 0h.7m-8.8 .1h.7m2.8 0h.7m-.6 0h.7m15.3 0h.7m-19.6 .2h.7m-.7 0h.7m4.3 .1h.7m-7.5 .1h.7m7.8 .1h.7m.6 0h.7m-8.7 .1h.7m9.8 0h.7m11.1 0h.7m-16 .1h.7m-8.1 .1h.7m5 0h.7m2 0h.7m1.5 0h.7m4.1 0h.7m-21.2 .1h.7m7.8 .1h.7m3.4 0h.7m5 0h.7m3.2 0h.7m18 0h.7m-47.6 .1h.7m11.6 .1h.7m5.1 0h.7m-9.3 .1h.7m-12.7 .1h.7m15 0h.7m6.8 0h.7m3.6 0h.7m2.6 0h.7m-19.2 .1h.7m-.7 0h.7m11.2 0h.7m-.7 0h.7m-7.7 .1h.7m2.7 0h.7m.4 0h.7m3.6 0h.7m27.8 0h.7m-35.3 .1h.7m-3 .1h.7m14.3 0h.7m5.2 0h.7m-22.3 .1h.7m7.7 0h.7m-.3 0h.7m-.3 0h.7m-14.9 .1h.7m20.4 0h.7m-15.3 .1h.7m2.3 0h.7m8.6 0h.7m-19.1 .2h.7m11.6 0h.7m1.4 0h.7m-3.7 .1h.7m7.4 0h.7m-25.8 .1h.7m7.4 0h.7m-.5 0h.7m3.6 0h.7m14.3 .1h.7m-13.9 .1h.7m-6.7 .1h.7m20.1 .1h.7m-28.1 .1h.7m15.8 .1h.7m6.2 0h.7m-34.6 .1h.7m15.7 0h.7m12.2 0h.7m4.2 0h.7m-26.6 .1h.7m-.3 0h.7m8.2 0h.7m-5.9 .1h.7m4.2 .1h.7m14.8 0h.7m-7 .1h.7m.5 0h.7m5.2 .1h.7m-14.4 .2h.7m-13.3 .1h.7m22.3 .1h.7m-9.2 .1h.7m8.6 .1h.7m-33.3 .1h.7m16.2 0h.7m4.6 .1h.7m-16.9 .1h.7m1.5 .1h.7m7.5 0h.7m2 0h.7m4.7 0h.7m-9.1 .1h.7m-3.9 .1h.7m20.9 0h.7m-21.3 .1h.7m5.6 0h.7m-4.1 .1h.7m11.8 0h.7m-10.8 .1h.7m6.2 0h.7m-16.3 .1h.7m2.1 .2h.7m4.3 0h.7m8.2 0h.7m-22.6 .1h.7m11.1 .2h.7m11.6 .1h.7m-8.4 .1h.7m-.4 0h.7m16.8 0h.7m-32.4 .1h.7m15.1 0h.7m-19.3 .1h.7m37.4 0h.7m-15.6 .1h.7m.9 0h.7m-17.5 .1h.7m11.3 0h.7m-3.9 .1h.7m-10.8 .1h.7m7.7 0h.7m-6.6 .2h.7m-1.7 .2h.7m13.2 0h.7m-8.5 .1h.7m-11.8 .1h.7m-3.2 .1h.7m14.4 0h.7m8.4 0h.7m3.8 0h.7m-27.3 .1h.7m-.7 0h.7m2.6 0h.7m6.9 0h.7m4.1 0h.7m-2.3 .2h.7m3.6 0h.7m-12.5 .1h.7m11.3 0h.7m-15.2 .1h.7m-4.8 .1h.7m21.8 0h.7m-.1 .2h.7m-10.8 .1h.7m-3.2 .1h.7m3.8 0h.7m5.1 0h.7m-5 .1h.7m6.5 0h.7m4.3 0h.7m-32.5 .1h.7m13.3 0h.7m16.7 .1h.7m-7.9 .4h.7m21.4 0h.7m-38.8 .1h.7m.8 0h.7m7.2 0h.7m-13.9 .2h.7m17.5 .1h.7m-17.7 .1h.7m8.9 0h.7m.1 0h.7m-22.8 .1h.7m30.6 0h.7m3.9 .1h.7m-7.5 .1h.7m5.9 .1h.7m-12.5 .2h.7m9.1 0h.7m7.9 .1h.7m-25.5 .2h.7m8 0h.7m6.4 0h.7m-22.8 .3h.7m12.7 .1h.7m1.1 .2h.7m-10.8 .1h.7m12.2 .2h.7m-24.7 .1h.7m10.6 0h.7m4.3 0h.7m1.6 .2h.7m-2.9 .4h.7m-7.5 .2h.7m13 0h.7m-5.9 .1h.7m-25.4 .2h.7m24 .2h.7m3.3 0h.7m-4.2 .1h.7m-7.3 .1h.7m8.1 .1h.7m-1 .1h.7m8.6 .1h.7m-23.2 .3h.7m9.3 0h.7m16.9 0h.7m-24.2 .2h.7m7.3 .1h.7m-27 .1h.7m2.4 .1h.7m20.1 0h.7m-22.4 .2h.7m22.5 0h.7m-10.2 .3h.7m15.3 .1h.7m-25.1 .1h.7m2.9 .1h.7m14.6 .4h.7m-25.9 .1h.7m9.2 .3h.7m5.7 0h.7m-6.5 .1h.7m8.8 .2h.7m8.1 .3h.7m6.1 .2h.7m-11.5 .1h.7m-14 .1h.7m10.9 0h.7m-8.9 .6h.7m3.4 .3h.7m-11.6 .2h.7m15.3 0h.7m-32.2 .9h.7m25.6 1.3h.7m2.5 .9h.7m-19.3 .1h.7m32 .2h.7m-17.4 .4h.7m-9.1 1.6h.7m9.5 .2h.7m12.6 .1h.7m-21.6 .5h.7m1.3 3h.7m-26.8 .7h.7m59.8 .1h.7m-12.9 .7h.7" stroke="#000" stroke-width="0.7" stroke-opacity="0.4" fill="none" filter="url(#sb)"/>
<path d="M299.6 93.4h.8m3.4 2.3h.8m-4 1.3h.8m12.1 .4h.8m-9.1 .6h.8m-2.4 1h.8m4.9 .1h.8m-5.7 .1h.8m-4.6 .1h.8m4.4 0h.8m-1.5 .1h.8m1.3 .2h.8m-6.5 .1h.8m-.2 .2h.8m3.1 .3h.8m-1.6 .3h.8m1.3 .1h.8m-10.1 .4h.8m10 .1h.8m.5 0h.8m-4.3 .4h.8m1.9 .3h.8m.9 .2h.8m-4.2 .2h.8m-.1 .1h.8m0 0h.8m-3.4 .2h.8m5.5 0h.8m-11.8 .2h.8m.3 0h.8m0 0h.8m6.1 0h.8m-4.6 .1h.8m6.1 0h.8m-16 .2h.8m3.8 0h.8m7.7 0h.8m-15.1 .1h.8m1.1 0h.8m3.4 .1h.8m12.9 .4h.8m-14.2 .1h.8m5.9 0h.8m-.2 0h.8m.7 0h.8m-5 .3h.8m1.6 .1h.8m-3.7 .4h.8m-9.3 .1h.8m6.4 0h.8m-1.8 .1h.8m1.8 0h.8m-6.3 .1h.8m2.4 .1h.8m.1 0h.8m-12.5 .1h.8m7.8 0h.8m-.9 .1h.8m1.4 0h.8m3.3 0h.8m-10.3 .1h.8m6 0h.8m-6.9 .1h.8m3.1 0h.8m.2 0h.8m-5.8 .1h.8m4 0h.8m3.2 0h.8m-10.5 .1h.8m7.2 0h.8m-15.6 .1h.8m7.9 0h.8m4.1 0h.8m1.5 0h.8m-6.5 .1h.8m3.5 0h.8m5 0h.8m-5.1 .1h.8m-15.5 .1h.8m1.1 0h.8m5.8 0h.8m-.1 .1h.8m.1 0h.8m2.5 0h.8m2.2 .1h.8m-9.1 .1h.8m2.3 0h.8m1.8 0h.8m2.9 0h.8m-7.5 .1h.8m.7 0h.8m-14.3 .1h.8m11.6 0h.8m0 0h.8m-.5 0h.8m.5 0h.8m-6.7 .1h.8m-.5 0h.8m.8 0h.8m2.9 0h.8m.1 0h.8m-14.3 .1h.8m1.7 0h.8m-4.6 .1h.8m9.7 0h.8m.2 0h.8m2 0h.8m2.4 0h.8m-11.2 .1h.8m6.5 0h.8m2 0h.8m-12.6 .1h.8m8.9 0h.8m.8 0h.8m1.8 0h.8m-12 .1h.8m4.1 .1h.8m.1 0h.8m-1.2 .1h.8m0 0h.8m4.2 0h.8m-16.2 .1h.8m7.6 0h.8m-.7 0h.8m1.5 0h.8m-10 .1h.8m4.6 0h.8m1.1 0h.8m.3 0h.8m1.1 0h.8m4.1 0h.8m-10 .1h.8m1.7 0h.8m-.6 0h.8m1.3 0h.8m-1.2 .1h.8m-.7 0h.8m1.1 0h.8m-8.2 .1h.8m2.4 0h.8m3.6 0h.8m-6.1 .1h.8m1 0h.8m1 .1h.8m-.2 0h.8m-10.3 .1h.8m.3 0h.8m2.7 0h.8m2.5 .1h.8m-15.8 .1h.8m11.1 0h.8m.7 .1h.8m2.2 0h.8m-9.8 .1h.8m5.7 0h.8m.4 0h.8m.3 0h.8m-5.1 .1h.8m-.5 0h.8m-.2 0h.8m2.1 0h.8m-6 .1h.8m4.2 0h.8m3.5 0h.8m-6.8 .1h.8m-.7 0h.8m4.9 0h.8m1.3 0h.8m-13 .1h.8m1.3 0h.8m1.9 0h.8m1 0h.8m4.4 0h.8m-1.5 .1h.8m-13.7 .1h.8m.1 0h.8m.9 0h.8m3.9 0h.8m-.5 0h.8m-.1 0h.8m4.5 0h.8m-11.8 .1h.8m6.6 0h.8m-10 .1h.8m2.5 0h.8m-.1 0h.8m4.7 0h.8m-11.2 .1h.8m6.1 0h.8m-.8 0h.8m1 .1h.8m2.5 0h.8m-12.2 .1h.8m2.8 0h.8m2.9 0h.8m-.1 0h.8m-.2 0h.8m-7.8 .1h.8m1.4 0h.8m-.2 0h.8m-.1 0h.8m-.4 0h.8m.5 0h.8m.7 0h.8m-9.6 .1h.8m3.9 0h.8m1.6 0h.8m-2.9 .1h.8m2 0h.8m-.6 0h.8m-5.6 .1h.8m2 0h.8m-4 .1h.8m2.5 0h.8m-.5 0h.8m-9.7 .1h.8m5.1 0h.8m.1 0h.8m-.5 0h.8m-.2 0h.8m2.8 0h.8m-.7 0h.8m-9.1 .1h.8m6.5 0h.8m-.9 .1h.8m1.3 0h.8m-9.1 .1h.8m.7 0h.8m3.9 0h.8m1.3 0h.8m-19 .1h.8m10.2 0h.8m-.1 0h.8m.2 0h.8m1.2 0h.8m2.3 0h.8m-.4 0h.8m-.3 0h.8m-14.8 .1h.8m5.1 0h.8m.7 0h.8m.5 0h.8m-.6 0h.8m.6 0h.8m-.3 0h.8m-15 .1h.8m6 0h.8m.8 0h.8m.9 0h.8m.3 0h.8m1.6 0h.8m-.4 0h.8m-.6 0h.8m-3.4 .1h.8m1.1 0h.8m-4.1 .1h.8m3 0h.8m.8 0h.8m-6.9 .1h.8m3.7 0h.8m1 0h.8m.6 0h.8m-5.6 .1h.8m0 0h.8m-2.8 .1h.8m1 0h.8m-.2 0h.8m0 0h.8m.2 0h.8m-8 .1h.8m4.7 0h.8m-.1 0h.8m.9 0h.8m.7 0h.8m-6.8 .1h.8m1.9 0h.8m-.1 0h.8m4.1 0h.8m-12.9 .1h.8m.8 0h.8m.4 0h.8m.7 0h.8m1 0h.8m-.6 0h.8m1.7 0h.8m-8.1 .1h.8m1.5 0h.8m-.8 0h.8m.7 0h.8m1 0h.8m-.7 0h.8m-8.8 .1h.8m.4 0h.8m2.8 0h.8m.5 0h.8m1.3 0h.8m-5.9 .1h.8m1.3 0h.8m1.9 0h.8m.4 0h.8m1.3 0h.8m-9 .1h.8m2.1 0h.8m-.2 0h.8m.3 0h.8m1.2 0h.8m.9 0h.8m-10.4 .1h.8m1.7 0h.8m.3 0h.8m-.6 0h.8m.9 0h.8m-.5 0h.8m-.2 0h.8m-.4 0h.8m-.7 0h.8m.4 0h.8m3.3 0h.8m-16.2 .1h.8m0 0h.8m1.8 0h.8m.4 0h.8m-.6 0h.8m-.2 0h.8m-.5 0h.8m.2 0h.8m0 0h.8m-.6 0h.8m-.1 0h.8m-.5 0h.8m-.3 0h.8m2.6 0h.8m.8 0h.8m-10.3 .1h.8m-.1 0h.8m-.8 0h.8m-.7 0h.8m2.2 0h.8m-.6 0h.8m-.7 0h.8m2.1 0h.8m-.5 0h.8m-13.3 .1h.8m2.9 0h.8m-.1 0h.8m0 0h.8m-.3 0h.8m1.2 0h.8m.8 0h.8m-.3 0h.8m1.5 0h.8m-.5 0h.8m-8.9 .1h.8m-.6 0h.8m1.2 0h.8m.1 0h.8m.7 0h.8m-.2 0h.8m.4 0h.8m4.8 0h.8m-16.4 .1h.8m.9 0h.8m1.6 0h.8m1.8 0h.8m.8 0h.8m-.7 0h.8m.3 0h.8m-5.5 .1h.8m.6 0h.8m1.3 0h.8m-.5 0h.8m0 0h.8m-.5 0h.8m.3 0h.8m1.9 0h.8m5.5 0h.8m-22.9 .1h.8m8.9 0h.8m-.4 0h.8m-.8 0h.8m-.6 0h.8m-.6 0h.8m2.5 0h.8m-9.6 .1h.8m2 0h.8m-.4 0h.8m-.6 0h.8m.4 0h.8m-.1 0h.8m-.2 0h.8m-.7 0h.8m-2.5 .1h.8m-.3 0h.8m3.4 0h.8m-12.7 .1h.8m3.9 0h.8m-.2 0h.8m4.1 0h.8m2.1 0h.8m.4 0h.8m-10.7 .1h.8m1.1 0h.8m2.8 0h.8m-11.7 .1h.8m3.8 0h.8m-.6 0h.8m2.8 0h.8m1.4 0h.8m1.9 0h.8m-14 .1h.8m1.1 0h.8m2.6 0h.8m-.4 0h.8m.1 0h.8m1.7 0h.8m2.7 0h.8m2.1 0h.8m-10.4 .1h.8m-.6 0h.8m-.3 0h.8m-.3 0h.8m2.9 0h.8m-.8 0h.8m.3 0h.8m-.3 0h.8m-.5 0h.8m-5.7 .1h.8m7.2 0h.8m-15.7 .1h.8m2.5 0h.8m2.7 0h.8m-.4 0h.8m.8 0h.8m.2 0h.8m-.1 0h.8m-9.9 .1h.8m-.5 0h.8m-.3 0h.8m4.2 0h.8m2.2 0h.8m1.2 0h.8m-7.5 .1h.8m.8 0h.8m-.7 0h.8m-.5 0h.8m.3 0h.8m-.6 0h.8m-.3 0h.8m-.4 0h.8m-.5 0h.8m.2 0h.8m-9.1 .1h.8m-.3 0h.8m.4 0h.8m.2 0h.8m.4 0h.8m.1 0h.8m.4 0h.8m1.1 0h.8m2.6 0h.8m-9.1 .1h.8m-.6 0h.8m0 0h.8m6.8 0h.8m-19.5 .1h.8m1.2 0h.8m4.2 0h.8m2.5 0h.8m2.4 0h.8m.4 0h.8m3.9 0h.8m-19.8 .1h.8m2.5 0h.8m3.5 0h.8m1.4 0h.8m-.8 0h.8m2.1 0h.8m-4.6 .1h.8m-.3 0h.8m3.6 0h.8m-9.8 .1h.8m1.5 0h.8m-.2 0h.8m2.9 0h.8m.1 0h.8m3.8 0h.8m-9.6 .1h.8m4.7 0h.8m-.8 0h.8m.2 0h.8m0 0h.8m-8.5 .1h.8m.6 0h.8m.7 0h.8m1.6 0h.8m1.9 0h.8m.2 0h.8m-11.8 .1h.8m-.7 0h.8m2.7 0h.8m.6 0h.8m.1 0h.8m1.9 0h.8m.6 0h.8m-10.3 .1h.8m1.2 0h.8m.9 0h.8m-.1 0h.8m-.4 0h.8m-.2 0h.8m-.8 0h.8m2.2 0h.8m1.1 0h.8m.3 0h.8m3.5 0h.8m-13.4 .1h.8m3.7 0h.8m0 0h.8m-.1 0h.8m-.8 0h.8m-.2 0h.8m-.4 0h.8m-.3 0h.8m-9.3 .1h.8m2.2 0h.8m-.2 0h.8m0 0h.8m-.6 0h.8m1.1 0h.8m-8.1 .1h.8m3.2 0h.8m-.3 0h.8m1.1 0h.8m2.8 0h.8m1.2 0h.8m-12.2 .1h.8m2.1 0h.8m.8 0h.8m1.8 0h.8m-11.1 .1h.8m3.8 0h.8m2 0h.8m-3.4 .1h.8m-.5 0h.8m.5 0h.8m.3 0h.8m2.5 0h.8m-10.4 .1h.8m1.1 0h.8m.2 0h.8m2.9 0h.8m.7 0h.8m-.8 0h.8m-.7 0h.8m-.5 0h.8m-8.2 .1h.8m1.5 0h.8m-6.1 .1h.8m11.8 0h.8m-.3 0h.8m-6.2 .1h.8m-.7 0h.8m2.1 0h.8m.6 0h.8m-4.8 .1h.8m-.7 0h.8m0 0h.8m2.6 0h.8m-12.5 .1h.8m1.5 0h.8m1.7 0h.8m.9 0h.8m-.6 0h.8m-.7 0h.8m-.2 0h.8m-.8 0h.8m-.5 0h.8m.1 0h.8m1.7 0h.8m-9.5 .1h.8m.8 0h.8m0 0h.8m1 0h.8m.4 0h.8m.4 0h.8m1 0h.8m-.2 0h.8m.7 0h.8m-.3 0h.8m-7 .1h.8m2.3 0h.8m-6.1 .1h.8m.8 0h.8m-.1 0h.8m3.5 0h.8m.8 0h.8m-15.7 .1h.8m2.8 0h.8m.5 0h.8m2.6 0h.8m-.5 0h.8m1.2 0h.8m-.7 0h.8m-5.4 .1h.8m-.5 0h.8m-.2 0h.8m4.5 0h.8m.2 0h.8m-1.7 .1h.8m.9 0h.8m-.5 0h.8m-11.3 .1h.8m-.7 0h.8m2.2 0h.8m1.3 0h.8m-.7 0h.8m2.7 0h.8m-10.1 .1h.8m2.5 0h.8m1 0h.8m.3 0h.8m-.5 0h.8m1 0h.8m-6.6 .1h.8m3.9 0h.8m2.1 0h.8m1.7 0h.8m-11.3 .1h.8m-.7 0h.8m-1.8 .1h.8m-.8 0h.8m.8 0h.8m.8 0h.8m.7 0h.8m4.9 0h.8m1.6 0h.8m-17.9 .1h.8m.5 0h.8m.6 0h.8m.6 0h.8m-.4 0h.8m-7.3 .1h.8m.8 0h.8m1.7 0h.8m0 0h.8m3.5 0h.8m-.2 0h.8m.3 0h.8m.8 0h.8m1 0h.8m-6.3 .1h.8m2 0h.8m-.7 0h.8m2.5 0h.8m-14.7 .1h.8m5 0h.8m2.1 0h.8m.1 0h.8m-.6 0h.8m-10.5 .1h.8m5 0h.8m.9 0h.8m.5 0h.8m-.7 0h.8m4.1 0h.8m.7 0h.8m-.3 0h.8m-11.2 .1h.8m1.6 0h.8m.2 0h.8m-.7 0h.8m-.7 0h.8m.3 0h.8m-.6 0h.8m2.6 0h.8m.1 0h.8m-12.5 .1h.8m-.3 0h.8m.4 0h.8m3.8 0h.8m0 0h.8m-.1 0h.8m-8.2 .1h.8m1.1 0h.8m1 0h.8m-.1 0h.8m-2.6 .1h.8m-.3 0h.8m2.2 0h.8m-.4 0h.8m1.8 0h.8m-6 .1h.8m.6 0h.8m-.4 0h.8m1.5 0h.8m7.8 0h.8m-14.6 .1h.8m1.8 0h.8m-.2 0h.8m1.2 0h.8m1.5 0h.8m-.2 0h.8m-4.5 .1h.8m-.4 0h.8m-.2 0h.8m-9 .1h.8m.1 0h.8m-.7 0h.8m1.2 0h.8m1.5 0h.8m1.2 0h.8m.2 0h.8m-.3 0h.8m.4 0h.8m-10.8 .1h.8m0 0h.8m-.1 0h.8m3.2 0h.8m-4.2 .1h.8m1.7 0h.8m.4 0h.8m-.6 0h.8m-.7 0h.8m-.8 0h.8m-.2 0h.8m2.5 0h.8m-.8 0h.8m-16.2 .1h.8m3.4 0h.8m5 0h.8m.9 0h.8m-.2 0h.8m-.4 0h.8m.2 0h.8m.9 0h.8m-3.9 .1h.8m-.6 0h.8m1.8 0h.8m2.3 0h.8m-17.7 .1h.8m6.9 0h.8m.8 0h.8m2 0h.8m-.4 0h.8m5.5 0h.8m-15.9 .1h.8m5 0h.8m-.5 0h.8m-4.6 .1h.8m1.9 0h.8m-.5 0h.8m-.4 0h.8m-.8 0h.8m.3 0h.8m.3 0h.8m1.1 0h.8m.4 0h.8m-12.7 .1h.8m-.6 0h.8m2.3 0h.8m-.2 0h.8m1.7 0h.8m.1 0h.8m-2.2 .1h.8m2 0h.8m1.6 0h.8m2.1 0h.8m-10.7 .1h.8m.1 0h.8m-.6 0h.8m.8 0h.8m.9 0h.8m-.2 0h.8m-4.7 .1h.8m-.1 0h.8m1.1 0h.8m-4.5 .1h.8m1.5 0h.8m-.7 0h.8m.8 0h.8m1 0h.8m.7 0h.8m-.3 0h.8m.7 0h.8m-6.8 .1h.8m-.8 0h.8m3.5 0h.8m.2 0h.8m-4.1 .1h.8m-.2 0h.8m-.4 0h.8m.8 0h.8m.7 0h.8m-.5 0h.8m-12.2 .1h.8m2.2 0h.8m1.5 0h.8m-4.8 .1h.8m1.9 0h.8m-.2 0h.8m-.6 0h.8m1.4 0h.8m.8 0h.8m2 0h.8m-9.5 .1h.8m-.3 0h.8m1.7 0h.8m1.4 0h.8m.2 0h.8m-8.6 .1h.8m4.1 0h.8m.3 0h.8m1.2 0h.8m.8 0h.8m-13.8 .1h.8m3.6 0h.8m5.1 0h.8m.5 0h.8m5.8 0h.8m-20.9 .1h.8m6.1 0h.8m.5 0h.8m-2.4 .1h.8m-.8 0h.8m0 0h.8m1.3 0h.8m1.4 0h.8m-.4 0h.8m-.7 0h.8m0 0h.8m.2 0h.8m-11.7 .1h.8m.6 0h.8m2.5 0h.8m8.4 0h.8m-11.8 .1h.8m2.8 0h.8m-.4 0h.8m-4.1 .1h.8m-.5 0h.8m1.6 0h.8m-.4 0h.8m-.6 0h.8m.8 0h.8m.3 0h.8m-8.9 .1h.8m5.7 0h.8m-3.6 .1h.8m.5 0h.8m.5 0h.8m3.9 0h.8m-.4 0h.8m-13.2 .1h.8m1 0h.8m-.6 0h.8m1.1 0h.8m.3 0h.8m2.3 0h.8m-.7 0h.8m-.7 0h.8m-9.9 .1h.8m1 0h.8m1 0h.8m3.2 0h.8m-4.4 .1h.8m1.1 0h.8m1.2 0h.8m.2 0h.8m-4.5 .1h.8m-2 .1h.8m2.5 0h.8m0 0h.8m-9.2 .1h.8m6 0h.8m-2.9 .1h.8m.8 0h.8m2.5 0h.8m-8.7 .1h.8m4.7 0h.8m.9 0h.8m-.6 0h.8m.7 0h.8m-.3 0h.8m1.3 0h.8m-8.6 .1h.8m.8 0h.8m1.2 0h.8m1.8 0h.8m1.8 0h.8m-11.6 .1h.8m2.7 0h.8m4 0h.8m-8.5 .1h.8m.3 0h.8m-.7 0h.8m2.7 0h.8m1.3 0h.8m-6.2 .1h.8m-.6 .1h.8m1.4 0h.8m.1 0h.8m-4.9 .1h.8m-.4 0h.8m2.2 0h.8m-.5 0h.8m0 0h.8m-5.2 .1h.8m1.3 0h.8m-6.2 .1h.8m4.9 .1h.8m-4.8 .1h.8m2.1 0h.8m.3 0h.8m-9.9 .1h.8m5 0h.8m1.1 0h.8m2.7 0h.8m1.4 0h.8m9.8 0h.8m-20.5 .1h.8m5.8 .1h.8m.1 0h.8m.5 0h.8m-7.8 .1h.8m3.2 0h.8m3.9 0h.8m-13.9 .1h.8m-2.5 .1h.8m.9 0h.8m1 .1h.8m1.2 0h.8m-4 .1h.8m0 0h.8m4.8 0h.8m-2.6 .2h.8m.4 0h.8m1.1 0h.8m0 0h.8m-10.1 .2h.8m1.5 0h.8m4.8 0h.8m.9 0h.8m-.4 0h.8m-4.2 .1h.8m.6 0h.8m-3.4 .1h.8m1 0h.8m-.3 0h.8m7.6 0h.8m-15.5 .1h.8m1.9 0h.8m1 0h.8m7.4 0h.8m-7.4 .1h.8m-.3 0h.8m-6.4 .1h.8m8.2 0h.8m-4.2 .1h.8m1.3 0h.8m-5 .1h.8m5.6 0h.8m-12.4 .1h.8m4.8 0h.8m1.5 0h.8m-6.2 .1h.8m2.2 .1h.8m-4.4 .1h.8m3.4 0h.8m2.4 .1h.8m4.6 0h.8m-8.6 .1h.8m1.3 0h.8m-.4 .1h.8m-4.4 .1h.8m-.8 0h.8m-.3 0h.8m.4 0h.8m.4 0h.8m.1 0h.8m-3.7 .1h.8m2.1 0h.8m11.3 0h.8m-13.3 .1h.8m-2.6 .1h.8m.1 0h.8m.5 0h.8m-3.5 .1h.8m0 .1h.8m-6.8 .1h.8m.1 .1h.8m5.7 0h.8m-1.1 .1h.8m-11.2 .1h.8m3.7 .2h.8m1.1 0h.8m2.2 0h.8m-.5 .2h.8m-2 .1h.8m-7.5 .2h.8m7 0h.8m.4 0h.8m-1.5 .1h.8m-1.6 .6h.8m-.2 .1h.8m1.1 0h.8m-1.5 .1h.8m-4 .1h.8m-.4 .2h.8m9.3 .2h.8m-14.5 .1h.8m4.3 0h.8m.7 0h.8m2.9 .1h.8m-6.4 .3h.8m-8.4 .1h.8m2.3 0h.8m.3 0h.8m6.2 .2h.8m-9.7 .3h.8m5.7 .6h.8m-7.9 .2h.8m9.6 .7h.8m-3.5 .1h.8m-1.3 .1h.8m7.1 1.6h.8m-15 .2h.8m3.6 0h.8m-5.1 .6h.8m.2 .5h.8m-1.4 .1h.8m6.3 .3h.8m-5.7 .8h.8m.1 1.8h.8m8.3 0h.8" stroke="#000" stroke-width="0.8" stroke-opacity="0.5" fill="none" filter="url(#sb)"/>
<path d="M306.7 97.2h.8m-4.6 1.7h.8m6.9 .1h.8m-9.4 .2h.8m-.1 .2h.8m4.9 .2h.8m-1.3 .6h.8m-8.1 .5h.8m8.6 .3h.8m-4.4 .2h.8m-2.4 .1h.8m1.8 0h.8m-10.7 .2h.8m8.3 .1h.8m-4.4 .5h.8m8.8 .2h.8m-20.6 .3h.8m8.3 .1h.8m-3.6 .1h.8m10.4 0h.8m-9.4 .2h.8m1.3 0h.8m4.4 .1h.8m-11.7 .1h.8m2.3 .3h.8m6.1 0h.8m-.4 .1h.8m-14 .1h.8m12.5 0h.8m-1.6 .1h.8m-3.8 .1h.8m-13.5 .2h.8m16.9 0h.8m-1.9 .1h.8m-11.3 .1h.8m.2 0h.8m4.2 0h.8m-2.4 .3h.8m.6 0h.8m2.6 0h.8m1.9 0h.8m-11.8 .1h.8m2.1 .1h.8m6.7 .1h.8m-8.2 .1h.8m4.7 0h.8m-1 .1h.8m-1 .1h.8m4.6 0h.8m-6.8 .1h.8m4.5 .2h.8m-4.3 .1h.8m1.3 0h.8m8 .2h.8m-13 .1h.8m-1 .1h.8m2.6 0h.8m-9.6 .1h.8m.2 0h.8m11.4 0h.8m-7.3 .2h.8m-6.4 .1h.8m5.8 0h.8m-.4 0h.8m-5.2 .1h.8m6.9 0h.8m-8 .1h.8m-.8 .1h.8m6.1 0h.8m-.7 0h.8m-9.3 .1h.8m1.6 .1h.8m.7 0h.8m-10 .1h.8m5.1 0h.8m.3 0h.8m3.4 0h.8m-5 .1h.8m-.6 0h.8m.4 .1h.8m0 0h.8m1.3 0h.8m.9 0h.8m-22.5 .1h.8m12.6 0h.8m-.1 0h.8m4.5 0h.8m-3.7 .1h.8m.4 0h.8m-7.1 .1h.8m1.2 0h.8m1.5 0h.8m-.2 0h.8m.3 0h.8m-9.2 .1h.8m1.9 0h.8m4.5 0h.8m-.7 0h.8m0 0h.8m5.5 0h.8m-.7 0h.8m-12.6 .1h.8m.6 0h.8m.2 0h.8m1.4 0h.8m.3 0h.8m-6.6 .1h.8m0 0h.8m.5 0h.8m-2.5 .1h.8m-.8 0h.8m4 0h.8m-.7 0h.8m-.4 0h.8m-.5 0h.8m-.7 0h.8m-.6 0h.8m-8.6 .1h.8m3 0h.8m-.6 0h.8m5.1 0h.8m2.5 0h.8m-10.1 .1h.8m2.1 0h.8m.9 0h.8m-7.7 .1h.8m2.8 0h.8m-3 .1h.8m-.5 0h.8m2 0h.8m3.9 0h.8m.5 0h.8m-2.6 .1h.8m-9.1 .1h.8m1.3 0h.8m.6 0h.8m.7 0h.8m.8 0h.8m1.4 0h.8m-.1 0h.8m-13 .1h.8m3.8 0h.8m1.4 0h.8m.9 0h.8m0 0h.8m-.7 0h.8m1.6 0h.8m2.7 0h.8m-9.9 .1h.8m-.8 0h.8m.2 0h.8m-.5 0h.8m1.1 0h.8m-.1 0h.8m1.6 0h.8m2 0h.8m-13.9 .1h.8m2.7 0h.8m.7 0h.8m.2 0h.8m1 0h.8m-.7 0h.8m-.7 0h.8m1.2 0h.8m2.6 0h.8m-11.5 .1h.8m-.6 0h.8m-.5 0h.8m-.8 0h.8m6.8 0h.8m-7.8 .1h.8m.4 0h.8m-.6 0h.8m-.5 0h.8m.2 0h.8m4.9 0h.8m-17.1 .1h.8m7 0h.8m3 0h.8m2.4 0h.8m-11.1 .1h.8m2.2 0h.8m-5.5 .1h.8m3 0h.8m-.6 0h.8m.8 0h.8m-.6 0h.8m.9 0h.8m2.5 0h.8m-9 .1h.8m8.3 0h.8m-13.9 .1h.8m2.1 0h.8m2.8 0h.8m.2 0h.8m2.8 0h.8m-11.9 .1h.8m7.8 0h.8m3.1 0h.8m.4 0h.8m-13.2 .1h.8m-.5 0h.8m1.9 0h.8m7.1 0h.8m-7.2 .1h.8m-.7 0h.8m-.3 0h.8m3 .1h.8m-10.7 .1h.8m1.7 0h.8m0 0h.8m3.7 0h.8m1.1 0h.8m-10.3 .1h.8m3.8 0h.8m.6 0h.8m1.7 0h.8m-.2 0h.8m-.7 0h.8m-5.1 .1h.8m.2 0h.8m-.2 0h.8m.4 0h.8m-.3 0h.8m-.1 0h.8m-.7 0h.8m1.9 0h.8m-5 .1h.8m-.4 0h.8m-.6 0h.8m.7 0h.8m.3 0h.8m-4.6 .1h.8m1 0h.8m-.6 0h.8m-.1 0h.8m-.5 0h.8m.5 0h.8m-8.4 .1h.8m.8 0h.8m0 0h.8m1.8 0h.8m-.7 0h.8m2.3 0h.8m.5 0h.8m-10.2 .1h.8m2.3 0h.8m-.7 0h.8m-.1 0h.8m-.4 0h.8m-.4 0h.8m-.7 0h.8m.7 0h.8m-13.3 .1h.8m4.6 0h.8m-.3 0h.8m-.2 0h.8m-.2 0h.8m.2 0h.8m-.3 0h.8m2.1 0h.8m.2 0h.8m-7.4 .1h.8m5.9 0h.8m.2 0h.8m-11.8 .1h.8m3.9 0h.8m.5 0h.8m-.8 0h.8m.8 0h.8m1.3 0h.8m-.3 0h.8m-5.8 .1h.8m.6 0h.8m-.2 0h.8m-.5 0h.8m0 0h.8m.9 0h.8m.1 0h.8m2.7 0h.8m-12.7 .1h.8m0 0h.8m3.1 0h.8m1.1 0h.8m-6.5 .1h.8m-.2 0h.8m1.2 0h.8m.5 0h.8m-.1 0h.8m4.3 0h.8m-12.5 .1h.8m3.3 0h.8m-.2 0h.8m-4.4 .1h.8m2.3 0h.8m-.2 0h.8m.4 0h.8m.3 0h.8m.1 0h.8m1.1 0h.8m-5.2 .1h.8m-.7 0h.8m-.4 0h.8m.6 0h.8m-.6 0h.8m.2 0h.8m-.6 0h.8m4.3 0h.8m-11.3 .1h.8m2.6 0h.8m1.5 0h.8m-.1 0h.8m-9.2 .1h.8m2.4 0h.8m-.7 0h.8m-.2 0h.8m1.5 0h.8m-.1 0h.8m-.5 0h.8m.1 0h.8m-.7 0h.8m-5.9 .1h.8m.9 0h.8m0 0h.8m-.3 0h.8m-.5 0h.8m1.2 0h.8m-12.4 .1h.8m2.8 0h.8m-.6 0h.8m3 0h.8m.2 0h.8m-.4 0h.8m1.1 0h.8m-.4 0h.8m.8 0h.8m-9.2 .1h.8m1.5 0h.8m-.8 0h.8m-.2 0h.8m-.6 0h.8m1.4 0h.8m-8.6 .1h.8m.3 0h.8m1.9 0h.8m.5 0h.8m.7 0h.8m-.7 0h.8m.1 0h.8m.8 0h.8m1.1 0h.8m-.2 0h.8m-18.5 .1h.8m5.3 0h.8m1.4 0h.8m-.1 0h.8m-.5 0h.8m.3 0h.8m-.1 0h.8m2.2 0h.8m.4 0h.8m-.3 0h.8m-7.3 .1h.8m-.2 0h.8m.7 0h.8m.1 0h.8m.7 0h.8m6.9 0h.8m-19.2 .1h.8m1.9 0h.8m.3 0h.8m14.8 0h.8m-20 .1h.8m.1 0h.8m2.4 0h.8m1 0h.8m-.6 0h.8m-.6 0h.8m-.2 0h.8m-.7 0h.8m.3 0h.8m.1 0h.8m.5 0h.8m-.6 0h.8m-4.4 .1h.8m.6 0h.8m0 0h.8m.6 0h.8m-11.9 .1h.8m1 0h.8m3.7 0h.8m1 0h.8m1 0h.8m-.2 0h.8m.8 0h.8m-.6 0h.8m-.4 0h.8m2.2 0h.8m-8.4 .1h.8m4.7 0h.8m.3 0h.8m-10.2 .1h.8m2.8 0h.8m.8 0h.8m.4 0h.8m.4 0h.8m.1 0h.8m.2 0h.8m.8 0h.8m-12.8 .1h.8m1.2 0h.8m1.5 0h.8m3.6 0h.8m-8.3 .1h.8m2.7 0h.8m.6 0h.8m-.6 0h.8m-12.7 .1h.8m7.1 0h.8m2 0h.8m1.3 0h.8m4.8 0h.8m-14.4 .1h.8m0 0h.8m3.2 0h.8m-.2 0h.8m4.8 0h.8m-.3 0h.8m-10 .1h.8m1.9 0h.8m.4 0h.8m.5 0h.8m-.2 0h.8m-.3 0h.8m.5 0h.8m.5 0h.8m-13.9 .1h.8m1.3 0h.8m4.6 0h.8m.2 0h.8m.1 0h.8m-10.6 .1h.8m4.9 0h.8m.8 0h.8m1.7 0h.8m0 0h.8m.6 0h.8m-11.3 .1h.8m3.2 0h.8m.7 0h.8m-.6 0h.8m-.2 0h.8m-.5 0h.8m-.4 0h.8m-9.1 .1h.8m2.7 0h.8m.3 0h.8m.6 0h.8m1.4 0h.8m1.3 0h.8m.3 0h.8m1.5 0h.8m-16.3 .1h.8m.4 0h.8m4.6 0h.8m.1 0h.8m2 0h.8m-.6 0h.8m.2 0h.8m1.4 0h.8m-.8 0h.8m2 0h.8m-15.8 .1h.8m1.5 0h.8m1.4 0h.8m-.1 0h.8m1.4 0h.8m-.4 0h.8m.8 0h.8m4.3 0h.8m-12.1 .1h.8m.8 0h.8m0 0h.8m0 0h.8m.5 0h.8m-.4 0h.8m-.5 0h.8m-.5 0h.8m.2 0h.8m.3 0h.8m.2 0h.8m-8.1 .1h.8m-.7 0h.8m.1 0h.8m.5 0h.8m-.5 0h.8m.2 0h.8m.8 0h.8m-10.2 .1h.8m1 0h.8m1.4 0h.8m.9 0h.8m.4 0h.8m-.3 0h.8m-.7 0h.8m1 0h.8m-.6 0h.8m-4.6 .1h.8m2.1 0h.8m-.4 0h.8m.4 0h.8m-.3 0h.8m-.2 0h.8m-.7 0h.8m-.2 0h.8m-3.4 .1h.8m2.2 0h.8m-.6 0h.8m-7.7 .1h.8m-.5 0h.8m2.6 0h.8m.3 0h.8m1.6 0h.8m-9 .1h.8m.2 0h.8m1.1 0h.8m-.6 0h.8m.1 0h.8m2.1 0h.8m-.1 0h.8m.8 0h.8m-10.5 .1h.8m1.5 0h.8m.7 0h.8m0 0h.8m.5 0h.8m-.6 0h.8m-12.7 .1h.8m3.9 0h.8m1.8 0h.8m.8 0h.8m-.6 0h.8m-.4 0h.8m-.7 0h.8m3 0h.8m-.5 0h.8m-9.3 .1h.8m.7 0h.8m-.2 0h.8m-.5 0h.8m-.7 0h.8m1.3 0h.8m-.4 0h.8m3.3 0h.8m-15.1 .1h.8m6.6 0h.8m.4 0h.8m-.4 0h.8m-.6 0h.8m-.6 0h.8m-.6 0h.8m.2 0h.8m.6 0h.8m0 0h.8m-9.7 .1h.8m3.2 0h.8m.9 0h.8m-.6 0h.8m1.7 0h.8m-.8 0h.8m0 0h.8m0 0h.8m-7.2 .1h.8m1.2 0h.8m-.4 0h.8m-.8 0h.8m3.3 0h.8m-11.6 .1h.8m3 0h.8m1.1 0h.8m.2 0h.8m-.4 0h.8m-.6 0h.8m-.2 0h.8m4.2 0h.8m-12.2 .1h.8m.9 0h.8m-.4 0h.8m.1 0h.8m-.4 0h.8m-.1 0h.8m-.8 0h.8m-7 .1h.8m2.6 0h.8m5.8 0h.8m-7.8 .1h.8m2.2 0h.8m-.8 0h.8m1 0h.8m-.8 0h.8m1.3 0h.8m2.2 0h.8m-8.1 .1h.8m2.8 0h.8m2.2 0h.8m-7.2 .1h.8m-.1 0h.8m-.7 0h.8m1.2 0h.8m1 0h.8m-10.1 .1h.8m3.4 0h.8m-.4 0h.8m-.7 0h.8m1.3 0h.8m.7 0h.8m-.5 0h.8m-9.1 .1h.8m2.9 0h.8m-.5 0h.8m2.3 0h.8m4 0h.8m-10.4 .1h.8m.9 0h.8m2.9 0h.8m-.6 0h.8m-.1 0h.8m-5.2 .1h.8m-.8 0h.8m-.6 0h.8m-.1 0h.8m-.3 0h.8m-.2 0h.8m.1 0h.8m-.8 0h.8m1.3 0h.8m1.1 0h.8m-11 .1h.8m1.5 0h.8m-.7 0h.8m-.6 0h.8m3.1 0h.8m.3 0h.8m-6.4 .1h.8m.1 0h.8m.1 0h.8m.6 0h.8m-.8 0h.8m1 0h.8m-.2 0h.8m-8.6 .1h.8m.9 0h.8m3.3 0h.8m-.2 0h.8m-.6 0h.8m.5 0h.8m-6.8 .1h.8m-.3 0h.8m4.8 0h.8m.5 0h.8m-8.4 .1h.8m.2 0h.8m3.3 0h.8m-.6 0h.8m-.6 0h.8m1.1 0h.8m-6.8 .1h.8m.8 0h.8m2 0h.8m0 0h.8m-14.8 .1h.8m5.3 0h.8m1.5 0h.8m-.1 0h.8m3.9 0h.8m-.2 0h.8m2.7 0h.8m5.8 0h.8m-21.8 .1h.8m5.2 0h.8m3.6 0h.8m-.3 0h.8m-7.4 .1h.8m-.2 0h.8m-.1 0h.8m.9 0h.8m-.8 0h.8m2.2 0h.8m-17.6 .1h.8m9.6 0h.8m1 0h.8m.3 0h.8m1.6 0h.8m1.1 0h.8m-.4 0h.8m-8.4 .1h.8m1.4 0h.8m-.6 0h.8m.3 0h.8m-8.4 .1h.8m.9 0h.8m.2 0h.8m-.6 0h.8m1.1 0h.8m4 0h.8m-.3 0h.8m-9.9 .1h.8m-.6 0h.8m3.5 0h.8m-.1 0h.8m.6 0h.8m1.7 0h.8m3.9 0h.8m4.1 0h.8m-19.7 .1h.8m1.8 0h.8m3.3 0h.8m.9 0h.8m-.6 0h.8m-4 .1h.8m3.3 0h.8m3.4 0h.8m-11.6 .1h.8m4.4 0h.8m-.2 0h.8m.1 0h.8m-11.8 .1h.8m4 0h.8m2.3 0h.8m2.5 0h.8m2.9 0h.8m.4 0h.8m-11.9 .1h.8m1.2 0h.8m1.3 0h.8m-.1 0h.8m3.4 0h.8m-16.7 .1h.8m5.7 0h.8m-.9 .1h.8m.7 0h.8m.2 0h.8m.1 0h.8m2.4 0h.8m2.8 0h.8m-14.3 .1h.8m1.4 0h.8m-.8 0h.8m.1 0h.8m3 0h.8m.8 0h.8m4.9 0h.8m-13.2 .1h.8m-.5 0h.8m2.4 0h.8m2.4 0h.8m-.7 0h.8m1.4 0h.8m2.3 0h.8m-17.5 .1h.8m3.8 0h.8m-.4 0h.8m1.6 0h.8m1.4 0h.8m-.2 0h.8m-.3 0h.8m-4.7 .1h.8m-.5 0h.8m1.9 0h.8m0 0h.8m2.7 0h.8m-13.1 .1h.8m2.5 0h.8m1.4 0h.8m.6 0h.8m4.6 0h.8m-12.6 .1h.8m-.7 0h.8m2.1 0h.8m3.7 0h.8m-2.7 .1h.8m-.4 0h.8m.3 0h.8m.1 0h.8m-.4 0h.8m.6 0h.8m2.7 0h.8m-14.1 .1h.8m2.4 0h.8m.3 0h.8m-.3 0h.8m-.3 0h.8m-.8 0h.8m.3 0h.8m-.7 0h.8m.6 0h.8m2.7 0h.8m.2 0h.8m-18.4 .1h.8m10.3 0h.8m1.8 0h.8m-.4 0h.8m1.2 0h.8m.3 0h.8m2.9 0h.8m-.8 0h.8m-15.8 .1h.8m5.9 0h.8m5.2 0h.8m-1.2 .1h.8m-24.2 .1h.8m14.1 0h.8m-.5 0h.8m.1 0h.8m1.6 0h.8m1.6 0h.8m-.3 0h.8m-12.6 .1h.8m7.7 0h.8m-9 .1h.8m4 0h.8m-.2 0h.8m2.6 0h.8m.3 0h.8m-.8 0h.8m0 0h.8m-10.8 .1h.8m2.7 0h.8m3.4 0h.8m1.1 0h.8m1.8 0h.8m-10.7 .1h.8m.6 0h.8m1.6 0h.8m.3 0h.8m3 0h.8m-17.8 .1h.8m7.4 0h.8m3.3 0h.8m-.1 0h.8m.5 0h.8m1.5 0h.8m9.5 0h.8m-23.3 .1h.8m4.8 0h.8m2.7 0h.8m.7 0h.8m.6 0h.8m0 0h.8m-8 .1h.8m3.3 0h.8m.7 0h.8m-7.2 .1h.8m1.8 0h.8m1 0h.8m1.5 0h.8m-.1 0h.8m-7.9 .1h.8m3.1 0h.8m-.8 0h.8m2.6 0h.8m-9.2 .1h.8m4.3 0h.8m-.1 0h.8m-.3 0h.8m2.6 0h.8m-10.2 .1h.8m.2 0h.8m.8 0h.8m5.5 0h.8m-13.5 .1h.8m5.2 0h.8m.4 0h.8m1.8 0h.8m-.8 0h.8m-2.1 .1h.8m-.5 0h.8m-2.6 .1h.8m0 0h.8m1.3 0h.8m1.1 0h.8m-11.5 .1h.8m-.3 0h.8m7.9 0h.8m-10 .1h.8m3.4 0h.8m3.1 0h.8m-7.7 .1h.8m2.3 0h.8m1.7 0h.8m.4 0h.8m-7.5 .1h.8m2.3 0h.8m5 0h.8m1.4 0h.8m-10.7 .1h.8m3.7 0h.8m-7.9 .1h.8m1.2 0h.8m3.9 0h.8m-.3 0h.8m-.8 0h.8m-4.2 .1h.8m1.2 0h.8m2.9 0h.8m4.1 0h.8m-13.1 .1h.8m.1 0h.8m-.7 0h.8m5.1 0h.8m.3 0h.8m0 0h.8m-9.2 .1h.8m4.5 0h.8m3.7 0h.8m-.5 0h.8m-9 .1h.8m4 0h.8m-.2 0h.8m-7.1 .1h.8m1 0h.8m1.5 0h.8m-.8 0h.8m1.8 0h.8m-5.2 .1h.8m-10.5 .2h.8m3.2 0h.8m2.2 0h.8m5.5 0h.8m-2.8 .1h.8m-18.1 .3h.8m14.8 0h.8m-5.5 .1h.8m5.1 0h.8m-.6 0h.8m1.3 0h.8m4.2 0h.8m0 .1h.8m-2.7 .1h.8m-.7 0h.8m.2 0h.8m-6.7 .1h.8m-.2 0h.8m2.7 0h.8m-7.6 .1h.8m2.2 .1h.8m5.9 0h.8m-7.4 .1h.8m-13.1 .1h.8m1.5 0h.8m7.4 0h.8m-.6 .2h.8m-.7 0h.8m-.2 0h.8m-6.2 .1h.8m-.5 .1h.8m9.2 0h.8m-4.2 .1h.8m2.5 0h.8m-10 .1h.8m1.3 0h.8m1.5 0h.8m2.1 0h.8m-9.2 .1h.8m6 0h.8m-2.1 .1h.8m4.1 0h.8m-6.7 .1h.8m4.7 0h.8m-9.7 .1h.8m4 0h.8m-1.9 .1h.8m4.5 0h.8m-16.4 .1h.8m8.8 0h.8m-1.9 .1h.8m1.1 .1h.8m-2.6 .1h.8m5.2 0h.8m-8.5 .1h.8m2 0h.8m3.8 0h.8m.6 0h.8m11.5 0h.8m-20.2 .1h.8m.9 0h.8m-8.8 .1h.8m.9 0h.8m6.6 0h.8m-.1 0h.8m8.8 0h.8m-3.5 .1h.8m-8.9 .2h.8m-12.2 .3h.8m11.6 .1h.8m5.2 .2h.8m-5.9 .1h.8m-5.8 .2h.8m9.3 .1h.8m-.4 0h.8m-1 .1h.8m-5.9 .1h.8m-10.7 .2h.8m4.5 .1h.8m5.9 .1h.8m-8.4 .1h.8m-5.2 .1h.8m10.4 .3h.8m2.2 0h.8m-17.5 .1h.8m11.1 .1h.8m-1.5 .3h.8m-8.8 .1h.8m10.4 0h.8m-6.6 .1h.8m-.8 .2h.8m-6.2 .3h.8m7.3 .1h.8m-1.1 .3h.8m2.6 .1h.8m-1.7 .1h.8m-12.5 .1h.8m-5.4 .1h.8m19 .6h.8m-17.1 .2h.8m4 .9h.8m5.1 .1h.8m4.7 .9h.8m-5.3 .6h.8m5.1 .6h.8m-10.8 .2h.8m.2 .3h.8m-4.6 .2h.8" stroke="#000" stroke-width="0.8" stroke-opacity="0.5" fill="none" filter="url(#sb)"/>
<path d="M303.5 92.5h.8m.2 6.1h.8m-1.7 .6h.8m.1 0h.8m2.9 .6h.8m-2 .3h.8m-2.3 .1h.8m-4.7 .3h.8m-.8 .4h.8m1.6 0h.8m8.7 0h.8m-4.8 .1h.8m-1.6 .2h.8m-2.7 .2h.8m.7 0h.8m-3.5 .1h.8m1.6 .4h.8m-5.7 .1h.8m.1 .2h.8m3 0h.8m.5 .1h.8m.5 .1h.8m-5.8 .2h.8m-2.4 .1h.8m1.7 0h.8m0 0h.8m2.1 0h.8m-3.5 .3h.8m1.3 0h.8m-8.6 .1h.8m5.2 0h.8m.2 0h.8m-2.6 .2h.8m-3.2 .1h.8m-.5 0h.8m4.3 0h.8m-1.7 .1h.8m-1.8 .1h.8m3.2 0h.8m-7.3 .1h.8m.4 .1h.8m-12.5 .1h.8m11.8 0h.8m-7.8 .1h.8m1.6 0h.8m6.1 0h.8m-2.8 .1h.8m-9.4 .1h.8m8.6 .1h.8m3.6 0h.8m-8.6 .1h.8m-2.2 .2h.8m-2.5 .1h.8m2.5 0h.8m1.5 0h.8m-1.1 .1h.8m-2.8 .1h.8m2.3 0h.8m-7.8 .1h.8m5.2 0h.8m-8.7 .1h.8m3.3 .3h.8m1.5 .1h.8m-3.1 .2h.8m.9 0h.8m.8 0h.8m-.8 0h.8m.4 0h.8m-3.4 .1h.8m-.3 0h.8m9.6 0h.8m-16.8 .1h.8m5.7 0h.8m-.1 0h.8m-6.4 .1h.8m7.1 0h.8m-1 .1h.8m-.6 0h.8m-11 .1h.8m3.8 0h.8m-.6 0h.8m6.6 0h.8m-10.5 .1h.8m3.7 0h.8m-7.9 .1h.8m3.5 0h.8m0 0h.8m0 0h.8m-3.5 .1h.8m-2 .1h.8m1.8 0h.8m1.7 0h.8m-4.7 .1h.8m3.2 0h.8m.9 0h.8m-6.7 .1h.8m-.2 0h.8m1.5 0h.8m-.8 0h.8m-.1 0h.8m-2.5 .1h.8m3.8 0h.8m-18.5 .1h.8m7.1 0h.8m.6 0h.8m5 0h.8m-3.5 .1h.8m2 0h.8m.4 0h.8m-.2 0h.8m.9 0h.8m-1.9 .1h.8m-.4 0h.8m-13.7 .1h.8m6.4 0h.8m2 0h.8m-7.6 .1h.8m5.3 0h.8m.1 0h.8m3.2 .1h.8m.4 0h.8m-7.1 .1h.8m2 0h.8m-.6 0h.8m-14.1 .1h.8m7.9 0h.8m1 0h.8m-.2 0h.8m6.3 0h.8m-9.5 .1h.8m-.2 0h.8m-1.4 .1h.8m-6.5 .1h.8m5.9 0h.8m-7 .1h.8m0 0h.8m1.7 0h.8m2.8 0h.8m-3 .1h.8m2.2 0h.8m1.2 .1h.8m-.3 0h.8m-.2 0h.8m-.3 0h.8m-11.3 .1h.8m-.7 0h.8m3.6 0h.8m2.1 0h.8m3.8 0h.8m-11.5 .1h.8m1 0h.8m.5 0h.8m.3 0h.8m-5.6 .1h.8m.8 0h.8m-.3 0h.8m2.9 0h.8m-5.6 .1h.8m4.7 0h.8m.2 0h.8m-4.5 .1h.8m2.8 0h.8m-6.7 .1h.8m2.5 0h.8m1.9 0h.8m-.4 0h.8m1.6 0h.8m-8.3 .1h.8m1.4 0h.8m.3 0h.8m.9 0h.8m1.2 0h.8m-.6 0h.8m-.7 0h.8m-4.9 .1h.8m2.7 0h.8m-8.9 .1h.8m.1 0h.8m2.4 0h.8m.7 0h.8m1.7 0h.8m-.7 0h.8m-15.8 .1h.8m11.4 0h.8m1.2 0h.8m2.3 0h.8m1.4 .1h.8m-9.7 .1h.8m4.5 0h.8m.6 0h.8m-5.4 .1h.8m-.1 0h.8m-.6 0h.8m-5.6 .1h.8m2.5 0h.8m1.3 0h.8m-9.7 .1h.8m.2 0h.8m.5 0h.8m.2 0h.8m4.4 0h.8m0 0h.8m-.5 0h.8m0 0h.8m-8.4 .1h.8m1.7 0h.8m1.4 0h.8m1.2 0h.8m.5 0h.8m1.4 0h.8m-16.1 .1h.8m4.1 0h.8m.6 0h.8m-.2 0h.8m-.8 0h.8m3.1 0h.8m-.5 0h.8m.9 0h.8m-.1 0h.8m-11.5 .1h.8m-.1 0h.8m8.2 0h.8m1.2 0h.8m-11.7 .1h.8m-.2 0h.8m3.4 0h.8m.3 0h.8m.3 0h.8m.3 0h.8m-9.5 .1h.8m.5 0h.8m3.2 0h.8m.4 0h.8m0 0h.8m-.6 0h.8m2.9 0h.8m-11 .1h.8m3.2 0h.8m.1 0h.8m-.6 0h.8m-.1 0h.8m1.6 0h.8m0 0h.8m-11.1 .1h.8m.4 0h.8m.4 0h.8m.1 0h.8m0 0h.8m1.9 0h.8m2.2 0h.8m1.1 0h.8m-8.2 .1h.8m3.5 0h.8m4.1 0h.8m-13.4 .1h.8m-.1 0h.8m-.7 0h.8m1.5 0h.8m4.1 0h.8m.2 0h.8m-.2 0h.8m.5 0h.8m5.7 0h.8m-16 .1h.8m2.8 0h.8m.1 0h.8m1.9 0h.8m-7 .1h.8m-.4 0h.8m.7 0h.8m-.4 0h.8m2.2 0h.8m-5.8 .1h.8m.8 0h.8m.7 0h.8m.4 0h.8m-7 .1h.8m-.2 0h.8m.9 0h.8m-.6 0h.8m.6 0h.8m-12.1 .1h.8m7.8 0h.8m1.5 0h.8m1 0h.8m1.3 0h.8m.1 0h.8m-10.8 .1h.8m.7 0h.8m1.8 0h.8m1.6 0h.8m-1.4 .1h.8m-.4 0h.8m2.5 0h.8m-.5 0h.8m1.2 0h.8m.1 0h.8m-11 .1h.8m1.4 0h.8m.4 0h.8m-2.6 .1h.8m.7 0h.8m2.1 0h.8m-6.4 .1h.8m1.1 0h.8m-.2 0h.8m6 0h.8m3.1 0h.8m-17.7 .1h.8m.7 0h.8m0 0h.8m.2 0h.8m1.1 0h.8m.5 0h.8m-.3 0h.8m-.8 0h.8m-.5 0h.8m4 0h.8m-.1 0h.8m-14.2 .1h.8m4.2 0h.8m18.7 0h.8m-31.9 .1h.8m7.9 0h.8m.5 0h.8m1.7 0h.8m.2 0h.8m-.6 0h.8m-.5 0h.8m-.7 0h.8m.5 0h.8m6.9 0h.8m-20.4 .1h.8m3.5 0h.8m.6 0h.8m3.2 0h.8m0 0h.8m-.2 0h.8m-16.1 .1h.8m10.6 0h.8m-.4 0h.8m1.1 0h.8m3 0h.8m-.3 0h.8m2.1 0h.8m-8 .1h.8m-7 .1h.8m3.8 0h.8m.8 0h.8m.7 0h.8m-.4 0h.8m.3 0h.8m-.1 0h.8m-8.1 .1h.8m.2 0h.8m.1 0h.8m.9 0h.8m-.1 0h.8m.8 0h.8m-.1 0h.8m-.2 0h.8m-.6 0h.8m.6 0h.8m-.3 0h.8m-15 .1h.8m6.7 0h.8m2.3 0h.8m.4 0h.8m1.6 0h.8m-9.6 .1h.8m-.2 0h.8m.4 0h.8m-.1 0h.8m-.6 0h.8m-.3 0h.8m7.1 0h.8m-19.1 .1h.8m8.5 0h.8m2.4 0h.8m1.8 0h.8m0 0h.8m-7.1 .1h.8m-.7 0h.8m-.5 0h.8m0 0h.8m2 0h.8m-.7 0h.8m2.2 0h.8m-14.2 .1h.8m.8 0h.8m3.4 0h.8m.2 0h.8m1.6 0h.8m.9 0h.8m-12.1 .1h.8m3.8 0h.8m.4 0h.8m.2 0h.8m0 0h.8m-.8 0h.8m2.5 0h.8m.2 0h.8m-7 .1h.8m.6 0h.8m1.1 0h.8m-.4 0h.8m-4.6 .1h.8m.2 0h.8m-.6 0h.8m2.3 0h.8m4 0h.8m-14.3 .1h.8m1.4 0h.8m3.4 0h.8m-.1 0h.8m1.1 0h.8m.2 0h.8m.1 0h.8m-11.3 .1h.8m1.5 0h.8m4 0h.8m.1 0h.8m.8 0h.8m.7 0h.8m.8 0h.8m-13.1 .1h.8m3.9 0h.8m.9 0h.8m.8 0h.8m-.3 0h.8m.6 0h.8m-.1 0h.8m-16.6 .1h.8m3.8 0h.8m.5 0h.8m-.2 0h.8m.4 0h.8m-.2 0h.8m-.4 0h.8m.9 0h.8m1.1 0h.8m2.2 0h.8m-6.7 .1h.8m.9 0h.8m-.2 0h.8m.1 0h.8m2.3 0h.8m-.7 0h.8m0 0h.8m-13.2 .1h.8m.5 0h.8m1.8 0h.8m-.5 0h.8m.8 0h.8m-.3 0h.8m6.3 0h.8m1.5 0h.8m-17.8 .1h.8m9.3 0h.8m.9 0h.8m-12 .1h.8m2.7 0h.8m-.7 0h.8m1.6 0h.8m.6 0h.8m2.7 0h.8m-8.6 .1h.8m.2 0h.8m.1 0h.8m.1 0h.8m-.8 0h.8m.4 0h.8m1 0h.8m-.4 0h.8m.4 0h.8m-.4 0h.8m.2 0h.8m3.8 0h.8m-13.6 .1h.8m-.7 0h.8m.1 0h.8m0 0h.8m.3 0h.8m.2 0h.8m-.6 0h.8m-.7 0h.8m-.8 0h.8m-.4 0h.8m.9 0h.8m4.5 0h.8m-14.4 .1h.8m.7 0h.8m-.3 0h.8m.7 0h.8m-.2 0h.8m0 0h.8m1.2 0h.8m-.7 0h.8m.5 0h.8m-.5 0h.8m-8.5 .1h.8m.5 0h.8m0 0h.8m-.5 0h.8m-.5 0h.8m.8 0h.8m-.5 0h.8m-.2 0h.8m1.1 0h.8m-6 .1h.8m-.2 0h.8m.1 0h.8m-.1 0h.8m1.8 0h.8m.8 0h.8m-.3 0h.8m-7.4 .1h.8m1.3 0h.8m-.4 0h.8m1.9 0h.8m-.5 0h.8m-.4 0h.8m.1 0h.8m.2 0h.8m-18 .1h.8m5.5 0h.8m.4 0h.8m4.9 0h.8m1.4 0h.8m-12.3 .1h.8m-1.5 .1h.8m9 0h.8m3.8 0h.8m-9.2 .1h.8m2.5 0h.8m-.8 0h.8m.1 0h.8m-.2 0h.8m-.3 0h.8m-8.9 .1h.8m3.2 0h.8m2.4 0h.8m-.3 0h.8m-.5 0h.8m.8 0h.8m-.4 0h.8m-12.3 .1h.8m1.4 0h.8m3.2 0h.8m-.1 0h.8m0 0h.8m-.6 0h.8m-.5 0h.8m.9 0h.8m-.1 0h.8m0 0h.8m-3.4 .1h.8m.6 0h.8m.2 0h.8m-9.3 .1h.8m-.5 0h.8m.3 0h.8m-.2 0h.8m-.3 0h.8m-.7 0h.8m.3 0h.8m4.5 0h.8m-.7 0h.8m-.2 0h.8m-17 .1h.8m7.8 0h.8m-.7 0h.8m1 0h.8m-.7 0h.8m-.1 0h.8m-.7 0h.8m.3 0h.8m.8 0h.8m3.1 0h.8m-9.8 .1h.8m.6 0h.8m-.4 0h.8m-.2 0h.8m0 0h.8m0 0h.8m.5 0h.8m8.1 0h.8m-12.8 .1h.8m-.5 0h.8m.1 0h.8m-.5 0h.8m-5.2 .1h.8m-.1 0h.8m1.5 0h.8m-3.7 .1h.8m-.5 0h.8m-.6 0h.8m.7 0h.8m9.6 0h.8m-13.7 .1h.8m-.7 0h.8m-.5 0h.8m1.9 0h.8m-.6 0h.8m2.8 0h.8m6.9 0h.8m-20.7 .1h.8m6.2 0h.8m0 0h.8m-.7 0h.8m-.5 0h.8m-5.4 .1h.8m2.4 0h.8m-.8 0h.8m.2 0h.8m.8 0h.8m-.2 0h.8m-.7 0h.8m-.5 .1h.8m-.6 0h.8m1.4 0h.8m.7 0h.8m-13.4 .1h.8m0 0h.8m3 0h.8m-.5 0h.8m-.7 0h.8m3.4 0h.8m1.1 0h.8m.7 0h.8m.7 0h.8m-15 .1h.8m1.1 0h.8m-.7 0h.8m1.7 0h.8m1.1 0h.8m-.5 0h.8m.1 0h.8m.3 0h.8m-11.6 .1h.8m1.6 0h.8m.3 0h.8m.2 0h.8m.6 0h.8m.1 0h.8m-.4 0h.8m-.7 0h.8m-2.7 .1h.8m1 0h.8m1.3 0h.8m-.3 0h.8m-.7 0h.8m-.4 0h.8m-.6 0h.8m-.4 0h.8m-.8 0h.8m-.7 0h.8m1.1 0h.8m.1 0h.8m-.7 0h.8m-.8 0h.8m-.5 0h.8m-8.5 .1h.8m.5 0h.8m-.8 0h.8m2.4 0h.8m-.7 0h.8m.2 0h.8m.1 0h.8m-7.5 .1h.8m7.2 0h.8m-15.9 .1h.8m6.5 0h.8m.3 0h.8m.7 0h.8m-.6 0h.8m1.6 0h.8m.1 0h.8m6.2 0h.8m1.1 0h.8m-22.8 .1h.8m4.5 0h.8m3.3 0h.8m.8 0h.8m4.3 0h.8m-.4 0h.8m-18.9 .1h.8m6.9 0h.8m.8 0h.8m-.5 0h.8m-.6 0h.8m.8 0h.8m-.3 0h.8m3 0h.8m-.6 0h.8m0 0h.8m-9.1 .1h.8m.4 0h.8m.4 0h.8m.4 0h.8m-.5 0h.8m.3 0h.8m-3.9 .1h.8m.5 0h.8m.9 0h.8m.9 0h.8m-11.1 .1h.8m4.6 0h.8m1.9 0h.8m-.4 0h.8m-5.9 .1h.8m.4 0h.8m1.1 0h.8m2.4 0h.8m-8.8 .1h.8m2.1 0h.8m1 0h.8m1.9 0h.8m.3 0h.8m-8.2 .1h.8m1.8 0h.8m-.2 0h.8m.1 0h.8m-.5 0h.8m-8.3 .1h.8m3.4 0h.8m1.1 0h.8m-.3 0h.8m.1 0h.8m-.7 0h.8m0 0h.8m.9 0h.8m1.2 0h.8m-11.2 .1h.8m1.1 0h.8m.7 0h.8m-.7 0h.8m-.7 0h.8m.3 0h.8m-.6 0h.8m.4 0h.8m-.2 0h.8m.2 0h.8m-9.5 .1h.8m2.6 0h.8m-.1 0h.8m.6 0h.8m-.6 0h.8m-.5 0h.8m-11 .1h.8m4.4 0h.8m-.6 0h.8m2.1 0h.8m-.4 0h.8m2 0h.8m3.8 0h.8m-.5 0h.8m-.3 0h.8m-10.1 .1h.8m.6 0h.8m-2.7 .1h.8m2 0h.8m-.7 0h.8m.7 0h.8m-.1 0h.8m-.5 0h.8m-5 .1h.8m.1 0h.8m-.5 0h.8m-.8 0h.8m-.2 0h.8m-.7 0h.8m-.2 0h.8m1.6 0h.8m.6 0h.8m1.9 0h.8m-11.5 .1h.8m.1 0h.8m-.1 0h.8m1.1 0h.8m-.5 0h.8m-.6 0h.8m2.2 0h.8m-8.9 .1h.8m2.5 0h.8m.5 0h.8m.4 0h.8m-5.4 .1h.8m5.1 0h.8m2.8 0h.8m-13 .1h.8m2.5 0h.8m.4 0h.8m7.2 0h.8m-14.6 .1h.8m5 0h.8m3.1 0h.8m2.6 0h.8m-16.4 .1h.8m4.8 0h.8m1.4 0h.8m.2 0h.8m4.5 0h.8m-.6 0h.8m-11.3 .1h.8m2.7 0h.8m3.8 0h.8m-6.6 .1h.8m-.2 0h.8m.6 0h.8m-.6 0h.8m-.3 0h.8m4.8 0h.8m.7 0h.8m-9.2 .1h.8m.6 0h.8m-.7 0h.8m-.6 0h.8m1.4 0h.8m.9 0h.8m5.9 0h.8m-10.3 .1h.8m-.4 0h.8m-.1 0h.8m-.7 0h.8m-.3 0h.8m.1 0h.8m0 0h.8m1.4 0h.8m-.8 0h.8m-7.2 .1h.8m4.8 0h.8m-15.5 .1h.8m2.7 0h.8m4.9 0h.8m4.2 0h.8m.5 0h.8m-15.2 .1h.8m1.3 0h.8m4.3 0h.8m-.3 0h.8m.1 0h.8m2.9 0h.8m2.6 0h.8m-13.9 .1h.8m6.5 0h.8m-.6 .1h.8m-.2 0h.8m.2 0h.8m3.1 0h.8m-.2 0h.8m-19.5 .1h.8m6 0h.8m-.5 0h.8m2.2 0h.8m.7 0h.8m1.4 0h.8m.6 0h.8m-9.6 .1h.8m3.9 0h.8m1.9 0h.8m5.2 0h.8m-7.5 .1h.8m-5.3 .1h.8m2.5 0h.8m.4 0h.8m.3 0h.8m-6.7 .1h.8m-.5 0h.8m.7 0h.8m4.2 0h.8m-2.4 .1h.8m2.5 0h.8m-.8 .1h.8m-8.8 .1h.8m1.8 0h.8m.8 0h.8m-.6 0h.8m-4.6 .1h.8m0 0h.8m-2.6 .1h.8m.3 0h.8m1.9 0h.8m2.1 0h.8m2.9 0h.8m4.8 0h.8m-23.7 .1h.8m6.9 0h.8m.7 0h.8m5.1 0h.8m-9.1 .1h.8m-4.5 .1h.8m-.7 0h.8m3.7 0h.8m.1 0h.8m-1 .1h.8m6.1 0h.8m.5 0h.8m-5.8 .1h.8m-.1 0h.8m-4.9 .1h.8m3.1 0h.8m3 0h.8m-16.9 .1h.8m-.3 0h.8m7.2 0h.8m3.4 0h.8m-4.6 .1h.8m5.5 0h.8m-13.5 .1h.8m2.7 0h.8m6.5 .2h.8m-7.6 .2h.8m-.8 0h.8m1 0h.8m-4.5 .1h.8m-.6 0h.8m6.7 0h.8m-.3 0h.8m-.7 0h.8m.1 0h.8m-3.5 .1h.8m-.3 0h.8m-7.5 .1h.8m2.1 0h.8m6.2 0h.8m-10.2 .1h.8m4 0h.8m-2.1 .1h.8m2.7 0h.8m-.6 0h.8m-9.5 .1h.8m-.8 0h.8m4.3 0h.8m-4.4 .1h.8m6 0h.8m-4.6 .1h.8m.5 0h.8m0 0h.8m.3 0h.8m1.3 0h.8m-13.2 .1h.8m3.2 0h.8m11.4 0h.8m-7.2 .1h.8m9.8 .1h.8m-9.1 .1h.8m-14.5 .1h.8m11.1 0h.8m-8.2 .1h.8m6.3 0h.8m-.7 0h.8m-4.7 .1h.8m7.1 0h.8m1.6 0h.8m-13 .1h.8m5 0h.8m-3.8 .1h.8m2.9 0h.8m1.1 0h.8m-6.2 .1h.8m2.1 0h.8m0 .1h.8m.8 0h.8m1.1 0h.8m-6.6 .1h.8m4.6 0h.8m-7.4 .2h.8m1.1 0h.8m-1 .1h.8m3 0h.8m4.5 .1h.8m-14.6 .1h.8m5.1 0h.8m2.4 .1h.8m-8.6 .1h.8m4.6 0h.8m-6.8 .1h.8m2.3 0h.8m.8 0h.8m-3.3 .1h.8m2.7 0h.8m2.6 0h.8m-13 .1h.8m7.1 .1h.8m.9 .2h.8m2.8 0h.8m4.3 0h.8m-13.6 .2h.8m-.7 .2h.8m2.9 .2h.8m-7.1 .2h.8m1.2 0h.8m4.4 .1h.8m-1.5 .3h.8m4.8 0h.8m-.4 0h.8m-11 .3h.8m9.3 0h.8m-9 .2h.8m1.8 0h.8m-8.1 .1h.8m1.4 .1h.8m2 0h.8m-.4 .1h.8m-6.8 .1h.8m8 0h.8m-6.8 .2h.8m-2.3 .1h.8m1.1 0h.8m3.6 0h.8m-6.4 .2h.8m2.8 0h.8m-.7 .1h.8m-4.8 .1h.8m2 .1h.8m-.9 .2h.8m-4.7 .4h.8m-5.8 .3h.8m4.7 .2h.8m-1.2 .4h.8m4.3 .1h.8m.2 0h.8m-3.6 .1h.8m-4.6 .2h.8m.4 .1h.8m-1.3 .1h.8m8.3 .2h.8m-7 .1h.8m2.5 .2h.8m-7.1 1.9h.8m9.1 2.1h.8m-10.7 .5h.8" stroke="#000" stroke-width="0.8" stroke-opacity="0.5" fill="none" filter="url(#sb)"/>
<path d="M216 35.5H339.5V158.5" stroke="#7a7a7a" stroke-width="1" fill="none"/>
<path d="M225.29 157.5v2M215 149.24h2M230.73 157.5v2M215 143.83h2M234.59 157.5v2M215 139.99h2M237.58 157.5v2M215 137.01h2M240.03 157.5v2M215 134.57h2M242.09 157.5v2M215 132.51h2M243.88 157.5v2M215 130.73h2M245.46 157.5v2M215 129.16h2M256.17 157.5v2M215 118.49h2M261.61 157.5v2M215 113.08h2M265.46 157.5v2M215 109.24h2M268.46 157.5v2M215 106.26h2M270.9 157.5v2M215 103.82h2M272.97 157.5v2M215 101.76h2M274.76 157.5v2M215 99.98h2M276.34 157.5v2M215 98.41h2M287.04 157.5v2M215 87.74h2M292.48 157.5v2M215 82.33h2M296.34 157.5v2M215 78.49h2M299.33 157.5v2M215 75.51h2M301.78 157.5v2M215 73.07h2M303.84 157.5v2M215 71.01h2M305.63 157.5v2M215 69.23h2M307.21 157.5v2M215 67.66h2M317.92 157.5v2M215 56.99h2M323.36 157.5v2M215 51.58h2M327.21 157.5v2M215 47.74h2M330.21 157.5v2M215 44.76h2M332.65 157.5v2M215 42.32h2M334.72 157.5v2M215 40.26h2M336.51 157.5v2M215 38.48h2M338.09 157.5v2M215 36.91h2M246.88 158.5v3M216 127.75h-3M277.75 158.5v3M216 97h-3M308.62 158.5v3M216 66.25h-3M339.5 158.5v3M216 35.5h-3" stroke="#555" stroke-width="0.8" fill="none"/>
<path d="M216 35.5V158.5H339.5" stroke="#3a3a3a" stroke-width="1" fill="none"/>
<text x="247.18" y="167.9" font-size="6" fill="#555" text-anchor="middle">10<tspan font-size="4" dy="-2.4">0</tspan></text>
<text x="212.6" y="129.95" font-size="6" fill="#555" text-anchor="end">10<tspan font-size="4" dy="-2.4">0</tspan></text>
<text x="278.05" y="167.9" font-size="6" fill="#555" text-anchor="middle">10<tspan font-size="4" dy="-2.4">1</tspan></text>
<text x="212.6" y="99.2" font-size="6" fill="#555" text-anchor="end">10<tspan font-size="4" dy="-2.4">1</tspan></text>
<text x="308.93" y="167.9" font-size="6" fill="#555" text-anchor="middle">10<tspan font-size="4" dy="-2.4">2</tspan></text>
<text x="212.6" y="68.45" font-size="6" fill="#555" text-anchor="end">10<tspan font-size="4" dy="-2.4">2</tspan></text>
<text x="339.8" y="167.9" font-size="6" fill="#555" text-anchor="middle">10<tspan font-size="4" dy="-2.4">3</tspan></text>
<text x="212.6" y="37.7" font-size="6" fill="#555" text-anchor="end">10<tspan font-size="4" dy="-2.4">3</tspan></text>
<rect x="290.6" y="42.1" width="33.8" height="54.2" fill="none" stroke="#333" stroke-width="1"/>
<text x="253" y="54.9" font-size="11.5" font-weight="bold" fill="#111" textLength="28.2" lengthAdjust="spacingAndGlyphs">CD41</text>
<text x="282.3" y="46.3" font-size="8.5" fill="#111" font-weight="bold">+</text>
<text transform="translate(199.9 97.9) rotate(-90)" x="0" y="0" font-size="10.8" fill="#222" text-anchor="middle">CD41</text>
<text x="278.4" y="181.4" font-size="10.8" fill="#222" text-anchor="middle">CD4</text>
<line x1="386.5" y1="30" x2="386.5" y2="162.6" stroke="#1a1a1a" stroke-width="1.2"/>
<line x1="385.7" y1="162.5" x2="520" y2="162.5" stroke="#1a1a1a" stroke-width="1.2"/>
<line x1="383" y1="162.5" x2="386.3" y2="162.5" stroke="#1a1a1a" stroke-width="1.2"/>
<text x="382" y="165" font-size="9.8" fill="#111" text-anchor="end" font-weight="bold">0</text>
<line x1="383" y1="118.5" x2="386.3" y2="118.5" stroke="#1a1a1a" stroke-width="1.2"/>
<text x="382" y="121" font-size="9.8" fill="#111" text-anchor="end" font-weight="bold">5</text>
<line x1="383" y1="74.5" x2="386.3" y2="74.5" stroke="#1a1a1a" stroke-width="1.2"/>
<text x="382" y="77" font-size="9.8" fill="#111" text-anchor="end" font-weight="bold">10</text>
<line x1="383" y1="30.5" x2="386.3" y2="30.5" stroke="#1a1a1a" stroke-width="1.2"/>
<text x="382" y="33" font-size="9.8" fill="#111" text-anchor="end" font-weight="bold">15</text>
<line x1="403.5" y1="162" x2="403.5" y2="165" stroke="#1a1a1a" stroke-width="1.2"/>
<text x="403" y="175.4" font-size="9.8" fill="#111" text-anchor="middle" font-weight="bold">0</text>
<line x1="435.5" y1="162" x2="435.5" y2="165" stroke="#1a1a1a" stroke-width="1.2"/>
<text x="435.9" y="175.4" font-size="9.8" fill="#111" text-anchor="middle" font-weight="bold">0.06</text>
<line x1="468.5" y1="162" x2="468.5" y2="165" stroke="#1a1a1a" stroke-width="1.2"/>
<text x="468.9" y="175.4" font-size="9.8" fill="#111" text-anchor="middle" font-weight="bold">0.3</text>
<line x1="501.5" y1="162" x2="501.5" y2="165" stroke="#1a1a1a" stroke-width="1.2"/>
<text x="501.8" y="175.4" font-size="9.8" fill="#111" text-anchor="middle" font-weight="bold">1.5</text>
<text x="452.4" y="191.4" font-size="10.6" font-weight="bold" fill="#111" text-anchor="middle">PMPs (×10<tspan font-size="7.5" dy="-4.6">6</tspan><tspan dy="4.6">)</tspan></text>
<text transform="translate(365.6 96.4) rotate(-90)" x="0" y="0" font-size="10.8" fill="#111" text-anchor="middle" font-weight="bold">CD41<tspan font-size="7.5" dy="-4.6">+</tspan><tspan dy="4.6"> (%)</tspan></text>
<circle cx="395.2" cy="161.56" r="2.55" fill="#111"/>
<circle cx="403" cy="161.56" r="2.55" fill="#111"/>
<circle cx="410.8" cy="161.56" r="2.55" fill="#111"/>
<line x1="424.6" y1="147.5" x2="446.6" y2="147.5" stroke="#111" stroke-width="1.5"/>
<circle cx="435.7" cy="139.12" r="2.55" fill="#111"/>
<circle cx="435.7" cy="155.84" r="2.55" fill="#111"/>
<circle cx="444.4" cy="148.8" r="2.55" fill="#111"/>
<line x1="457.6" y1="118.5" x2="479.6" y2="118.5" stroke="#111" stroke-width="1.5"/>
<circle cx="468.7" cy="110.96" r="2.55" fill="#111"/>
<circle cx="468.7" cy="125.04" r="2.55" fill="#111"/>
<circle cx="477.4" cy="120.64" r="2.55" fill="#111"/>
<line x1="490.2" y1="88.5" x2="513.9" y2="88.5" stroke="#111" stroke-width="1.5"/>
<circle cx="502.1" cy="79.28" r="2.55" fill="#111"/>
<circle cx="502.1" cy="94.24" r="2.55" fill="#111"/>
<circle cx="510" cy="90.72" r="2.55" fill="#111"/>
<path d="M433.5 40.5V36.5H467.5V40.5" stroke="#1a1a1a" stroke-width="1.2" fill="none"/>
<path d="M470.5 40.5V36.5H504.5V40.5" stroke="#1a1a1a" stroke-width="1.2" fill="none"/>
<text x="450.4" y="38.62" font-size="12" font-weight="bold" fill="#111" text-anchor="middle" style="stroke:none">*</text>
<text x="486.7" y="38.62" font-size="12" font-weight="bold" fill="#111" text-anchor="middle" style="stroke:none">*</text>
<text x="3" y="220.2" font-size="13" fill="#111" font-weight="bold">C</text>
<text x="176" y="220.8" font-size="10.5" fill="#111" font-weight="bold">PMPs</text>
<rect x="40.5" y="232.5" width="123.7" height="123" fill="#fff"/>
<path d="M42.2 270L44.1 269.39L44.71 268.35L47 269.5L49.48 269.83L52.37 269.26L55 268.8L58.1 268.63L61.55 268.87L63 269.5L64.16 271.56L64.96 271.23L66 272L66.59 273.47L66.72 274.39L68.5 276L69.36 278.41L68.59 280.86L68.8 283L68.56 285.38L68.19 286.94L67.5 290L67.44 291.68L67.18 294.01L66.5 296L65.23 297.62L64.37 299.81L64 301L62.01 302.21L59.48 303.4L58 303.5L55.22 304.28L53.02 303.34L50 304L48.17 303.1L46.16 303.3L44 302L43.72 301.16L42.27 299.41L42.2 298L42.36 289.25L41.92 279.5Z" stroke="#b4b4b4" stroke-width="0.8" fill="none"/>
<path d="M43 274L44.65 273.65L46.68 272.65L48 271.5L51.04 270.63L52.41 270.24L55 270.5L56.93 271.28L59.01 271.39L61 271.5L61.46 272.56L63.27 274.31L65 274.5L66.06 276.41L66.31 277.79L67 279L67.13 280.83L66.44 282.97L66.5 285L65.57 286.38L65.03 288.02L64.5 290L63.36 290.6L61.86 292.4L60 294L57.77 293.72L55.92 294.56L54 295L51.78 294.43L49.35 295.15L47 294L45.86 292.75L44.75 291.93L43 291L43.27 285.67L42.82 278.74Z" stroke="#8e8e8e" stroke-width="0.8" fill="none"/>
<path d="M45 278L45.99 277.65L47.34 276.65L48 275.5L50.38 274.56L51.07 274.1L53 274.3L54.6 274.82L56.34 274.66L58 274.5L58.46 275.39L60.27 276.97L62 277L62.86 278.75L62.91 279.96L63.4 281L63.23 282.33L62.24 283.96L62 285.5L60.41 286.16L59.19 287.05L58 288.3L56.36 287.65L54.35 288.15L52 288.5L50.1 287.56L48.59 287.72L47 287.5L46.26 286.1L45.37 285.97L44.5 284L45.18 282.75L45.93 281.93L46 281L45.94 280.29L45.15 278.12Z" stroke="#5e5e5e" stroke-width="0.9" fill="none"/>
<path d="M52 280L51.88 278.9L52.73 278.84L54 278.5L53.95 278.45L55.58 278.97L57 278.6L58.26 280.02L59.02 280.18L59.5 281L59.56 282.83L58.54 283.62L58.5 284.5L57.49 285.81L56.11 285.7L55.5 286.5L54.67 286.29L52.75 285.99L52.5 285.5L52.12 284.57L51.76 283.92L51.5 283L50.85 282.71L51.45 279.98Z" stroke="#333" stroke-width="1" fill="none"/>
<path d="M53.5 281.5q1.5 -1 2.5 0.5q-1 1.5 -2.5 1" stroke="#333" stroke-width="0.8" fill="none"/>
<path d="M51 305.5h6" stroke="#c0c0c0" stroke-width="0.8" fill="none"/>
<path d="M40.5 232.5H164.2V355.5" stroke="#7a7a7a" stroke-width="1" fill="none"/>
<path d="M49.81 354.5v2M39.5 346.24h2M55.25 354.5v2M39.5 340.83h2M59.12 354.5v2M39.5 336.99h2M62.12 354.5v2M39.5 334.01h2M64.56 354.5v2M39.5 331.57h2M66.63 354.5v2M39.5 329.51h2M68.43 354.5v2M39.5 327.73h2M70.01 354.5v2M39.5 326.16h2M80.73 354.5v2M39.5 315.49h2M86.18 354.5v2M39.5 310.08h2M90.04 354.5v2M39.5 306.24h2M93.04 354.5v2M39.5 303.26h2M95.49 354.5v2M39.5 300.82h2M97.56 354.5v2M39.5 298.76h2M99.35 354.5v2M39.5 296.98h2M100.93 354.5v2M39.5 295.41h2M111.66 354.5v2M39.5 284.74h2M117.1 354.5v2M39.5 279.33h2M120.97 354.5v2M39.5 275.49h2M123.97 354.5v2M39.5 272.51h2M126.41 354.5v2M39.5 270.07h2M128.48 354.5v2M39.5 268.01h2M130.28 354.5v2M39.5 266.23h2M131.86 354.5v2M39.5 264.66h2M142.58 354.5v2M39.5 253.99h2M148.03 354.5v2M39.5 248.58h2M151.89 354.5v2M39.5 244.74h2M154.89 354.5v2M39.5 241.76h2M157.34 354.5v2M39.5 239.32h2M159.41 354.5v2M39.5 237.26h2M161.2 354.5v2M39.5 235.48h2M162.78 354.5v2M39.5 233.91h2M71.42 355.5v3M40.5 324.75h-3M102.35 355.5v3M40.5 294h-3M133.27 355.5v3M40.5 263.25h-3M164.2 355.5v3M40.5 232.5h-3" stroke="#555" stroke-width="0.8" fill="none"/>
<path d="M40.5 232.5V355.5H164.2" stroke="#3a3a3a" stroke-width="1" fill="none"/>
<line x1="71.5" y1="232.5" x2="71.5" y2="355.5" stroke="#333" stroke-width="1"/>
<line x1="40.5" y1="325.5" x2="164.2" y2="325.5" stroke="#333" stroke-width="1"/>
<text x="71.72" y="364.9" font-size="6" fill="#555" text-anchor="middle">10<tspan font-size="4" dy="-2.4">0</tspan></text>
<text x="37.1" y="326.95" font-size="6" fill="#555" text-anchor="end">10<tspan font-size="4" dy="-2.4">0</tspan></text>
<text x="102.65" y="364.9" font-size="6" fill="#555" text-anchor="middle">10<tspan font-size="4" dy="-2.4">1</tspan></text>
<text x="37.1" y="296.2" font-size="6" fill="#555" text-anchor="end">10<tspan font-size="4" dy="-2.4">1</tspan></text>
<text x="133.57" y="364.9" font-size="6" fill="#555" text-anchor="middle">10<tspan font-size="4" dy="-2.4">2</tspan></text>
<text x="37.1" y="265.45" font-size="6" fill="#555" text-anchor="end">10<tspan font-size="4" dy="-2.4">2</tspan></text>
<text x="164.5" y="364.9" font-size="6" fill="#555" text-anchor="middle">10<tspan font-size="4" dy="-2.4">3</tspan></text>
<text x="37.1" y="234.7" font-size="6" fill="#555" text-anchor="end">10<tspan font-size="4" dy="-2.4">3</tspan></text>
<line x1="40.8" y1="274" x2="40.8" y2="300" stroke="#222" stroke-width="1.8"/>
<text x="136.2" y="244.2" font-size="9.2" fill="#333" textLength="22.6" lengthAdjust="spacingAndGlyphs">0.9 %</text>
<text transform="translate(24.8 294.8) rotate(-90)" x="0" y="0" font-size="10.8" fill="#222" text-anchor="middle">CD41</text>
<text x="102.3" y="377.8" font-size="10.8" fill="#222" text-anchor="middle">isotype antibody</text>
<path d="M243.8 287L244.89 284.37L246.97 280.71L247.6 277.4L250.95 275.27L253.62 273.11L257.2 271.6L259.92 270.76L263.61 269.11L266.8 267.8L270.34 266.82L274.03 266.42L278.4 266.3L280.25 267.1L281.41 267.8L283.2 268.7L281.93 272.12L281.38 274.55L281.3 277.4L281.3 279.42L278.72 283.51L278.4 287L276.54 290.02L274.41 294.69L272.6 298.5L270.47 299.34L268.4 303.1L265.9 304.3L263.23 304.3L259.79 303.78L257.2 305.3L254.87 305.32L252.33 302.62L249.5 303.3L248.05 301.04L246.74 299.28L245.7 296.6L244.29 293.11L244.7 290.61Z" stroke="#c4c4c4" stroke-width="0.7" fill="none"/>
<path d="M248.6 285.1L249.06 283.3L250.06 280.27L250.5 278.3L253.01 276.06L255.26 274.83L257.2 273.5L260.65 272.44L263.29 271.19L266.8 269.7L269.49 268.95L272.86 269.12L274.5 268.3L275.26 268.94L277.26 270.65L278.4 271.6L278.07 274.69L278.44 276.37L278.4 279.3L276.94 282.39L275.09 285.36L274.5 288.9L271.8 291.31L270.96 293.48L268.8 296.6L267.03 296.86L264.84 297.98L263 299L260.24 298.29L257.96 298.19L256.3 297.6L254.41 296.56L251.76 294.88L250.5 292.8L249.84 290.44L249.14 288.34Z" stroke="#a8a8a8" stroke-width="0.7" fill="none"/>
<path d="M250.5 284.1L250.96 282.96L251.96 280.61L252.4 279.3L254.29 277.39L255.88 276.5L257.2 275.5L260.03 274.41L262.01 273.12L264.9 271.6L267.59 270.85L270.96 271.02L272.6 270.2L273.36 270.55L275.36 271.95L276.5 272.6L276.17 275.36L276.54 276.7L276.5 279.3L275.04 281.76L273.19 284.08L272.6 287L270.2 288.78L269.66 290.31L267.8 292.8L266.03 292.73L263.84 293.51L262 294.2L259.57 293.49L257.63 293.39L256.3 292.8L254.74 292.38L252.43 291.35L251.5 289.9L251.13 288.17L250.75 286.71Z" stroke="#8a8a8a" stroke-width="0.7" fill="none"/>
<path d="M252.4 284.1L252.86 283.29L253.86 281.28L254.3 280.3L256.22 278.36L257.85 277.43L259.2 276.4L261.7 275.51L263.34 274.43L265.9 273.1L267.97 272.31L270.69 272.46L271.7 271.6L272.09 271.78L273.72 273.01L274.5 273.5L274.04 275.96L274.28 277L274.1 279.3L272.81 281.13L271.12 282.81L270.7 285.1L268.6 286.55L268.36 287.74L266.8 289.9L265.36 289.66L263.51 290.27L262 290.8L259.87 290.42L258.23 290.66L257.2 290.4L255.97 290.28L254 289.55L253.4 288.4L253.03 287.16L252.65 286.22Z" stroke="#666" stroke-width="0.75" fill="none"/>
<path d="M255.8 282.7L256.1 282.61L257.37 281.57L257.2 280.8L258.67 279.75L259.4 278.72L261.1 278.3L262.23 277.93L264.29 276.75L265.9 275.9L266.87 274.95L267.91 274.58L269.7 274.5L270.63 274.97L270.83 275.33L271.7 275.9L270.89 277.91L270.82 278.87L271.2 280.3L271.37 280.41L268.96 282.52L268.8 284.1L267.57 284.12L266.08 285.7L264.9 286.5L264.18 285.76L263.58 287.89L262.5 287.5L261.44 287.08L259.68 286.11L258.7 287.2L257.96 287.48L257.05 285.06L255.8 286L255.77 285.49L255.92 285.53L256.3 284.6L255.35 283.65L256.23 283.77Z" stroke="#333" stroke-width="0.9" fill="none"/>
<path d="M215.3 232.5H338.5V355.7" stroke="#7a7a7a" stroke-width="1" fill="none"/>
<path d="M224.57 354.7v2M214.3 346.43h2M230 354.7v2M214.3 341h2M233.84 354.7v2M214.3 337.16h2M236.83 354.7v2M214.3 334.17h2M239.27 354.7v2M214.3 331.73h2M241.33 354.7v2M214.3 329.67h2M243.12 354.7v2M214.3 327.88h2M244.69 354.7v2M214.3 326.31h2M255.37 354.7v2M214.3 315.63h2M260.8 354.7v2M214.3 310.2h2M264.64 354.7v2M214.3 306.36h2M267.63 354.7v2M214.3 303.37h2M270.07 354.7v2M214.3 300.93h2M272.13 354.7v2M214.3 298.87h2M273.92 354.7v2M214.3 297.08h2M275.49 354.7v2M214.3 295.51h2M286.17 354.7v2M214.3 284.83h2M291.6 354.7v2M214.3 279.4h2M295.44 354.7v2M214.3 275.56h2M298.43 354.7v2M214.3 272.57h2M300.87 354.7v2M214.3 270.13h2M302.93 354.7v2M214.3 268.07h2M304.72 354.7v2M214.3 266.28h2M306.29 354.7v2M214.3 264.71h2M316.97 354.7v2M214.3 254.03h2M322.4 354.7v2M214.3 248.6h2M326.24 354.7v2M214.3 244.76h2M329.23 354.7v2M214.3 241.77h2M331.67 354.7v2M214.3 239.33h2M333.73 354.7v2M214.3 237.27h2M335.52 354.7v2M214.3 235.48h2M337.09 354.7v2M214.3 233.91h2M246.1 355.7v3M215.3 324.9h-3M276.9 355.7v3M215.3 294.1h-3M307.7 355.7v3M215.3 263.3h-3M338.5 355.7v3M215.3 232.5h-3" stroke="#555" stroke-width="0.8" fill="none"/>
<path d="M215.3 232.5V355.7H338.5" stroke="#3a3a3a" stroke-width="1" fill="none"/>
<line x1="245.5" y1="232.5" x2="245.5" y2="355.7" stroke="#333" stroke-width="1"/>
<line x1="215.3" y1="325.5" x2="338.5" y2="325.5" stroke="#333" stroke-width="1"/>
<text x="246.4" y="365.1" font-size="6" fill="#555" text-anchor="middle">10<tspan font-size="4" dy="-2.4">0</tspan></text>
<text x="211.9" y="327.1" font-size="6" fill="#555" text-anchor="end">10<tspan font-size="4" dy="-2.4">0</tspan></text>
<text x="277.2" y="365.1" font-size="6" fill="#555" text-anchor="middle">10<tspan font-size="4" dy="-2.4">1</tspan></text>
<text x="211.9" y="296.3" font-size="6" fill="#555" text-anchor="end">10<tspan font-size="4" dy="-2.4">1</tspan></text>
<text x="308" y="365.1" font-size="6" fill="#555" text-anchor="middle">10<tspan font-size="4" dy="-2.4">2</tspan></text>
<text x="211.9" y="265.5" font-size="6" fill="#555" text-anchor="end">10<tspan font-size="4" dy="-2.4">2</tspan></text>
<text x="338.8" y="365.1" font-size="6" fill="#555" text-anchor="middle">10<tspan font-size="4" dy="-2.4">3</tspan></text>
<text x="211.9" y="234.7" font-size="6" fill="#555" text-anchor="end">10<tspan font-size="4" dy="-2.4">3</tspan></text>
<text x="305.8" y="243.9" font-size="9.2" fill="#333" textLength="28" lengthAdjust="spacingAndGlyphs">89.0 %</text>
<text transform="translate(199.1 294.8) rotate(-90)" x="0" y="0" font-size="10.8" fill="#222" text-anchor="middle">CD41</text>
<text x="276.9" y="378" font-size="10.9" fill="#222" text-anchor="middle">P-selectin</text>
<text x="353.6" y="219.8" font-size="13" fill="#111" font-weight="bold">D</text>
<text x="421.3" y="221.8" font-size="10.7" fill="#111" font-weight="bold" textLength="60.2" lengthAdjust="spacingAndGlyphs">Treg (day 0)</text>
<path d="M457 241.2h.7m-6.2 9.7h.7m-17.4 .1h.7m15.6 .2h.7m-7.5 .5h.7m6.1 .3h.7m-7.9 .9h.7m-3.9 .1h.7m27.7 .2h.7m-19.3 .5h.7m-.7 .6h.7m-11 .2h.7m2.5 .5h.7m14 .3h.7m-.3 .1h.7m-7.4 .2h.7m-6.4 .1h.7m4.2 .2h.7m1.9 .2h.7m-5.3 .1h.7m5.1 0h.7m1 .1h.7m1 .1h.7m-4.6 .1h.7m13.5 0h.7m-27.6 .5h.7m1.7 0h.7m16.8 .2h.7m-19.8 .2h.7m5.7 .1h.7m3.2 .1h.7m.6 0h.7m-7.8 .1h.7m11.5 .2h.7m7.2 0h.7m-14.3 .1h.7m-13.3 .2h.7m17.4 0h.7m-3.2 .1h.7m-16.5 .5h.7m6.8 0h.7m4.7 0h.7m1.6 0h.7m-22.4 .5h.7m21.5 0h.7m.9 0h.7m-12.7 .3h.7m2.3 0h.7m2.6 .2h.7m14.2 0h.7m-16.7 .1h.7m.6 0h.7m-.7 0h.7m-19.9 .1h.7m35.6 0h.7m-33.3 .2h.7m16 0h.7m-11.7 .1h.7m5.8 .2h.7m3.7 0h.7m-13.3 .1h.7m4.4 0h.7m.6 0h.7m5 0h.7m1.7 .1h.7m-.9 .2h.7m-3.4 .1h.7m7 0h.7m.4 0h.7m-18.8 .1h.7m8.9 0h.7m-3.2 .1h.7m3.8 0h.7m-4.6 .1h.7m9.3 0h.7m1.2 .2h.7m-14.3 .1h.7m10.8 .1h.7m-19.7 .2h.7m22.3 0h.7m-27 .1h.7m12.3 0h.7m10.6 0h.7m-16.2 .1h.7m8 0h.7m10.7 0h.7m-13.8 .2h.7m.8 0h.7m-9.9 .1h.7m.9 0h.7m19.7 0h.7m-22.9 .1h.7m-.4 0h.7m15.3 0h.7m-.3 0h.7m-21.1 .1h.7m2.2 0h.7m12.2 0h.7m-.4 0h.7m5.3 0h.7m-7.9 .1h.7m-18.2 .1h.7m13.2 0h.7m4 0h.7m-2.5 .2h.7m-13.5 .1h.7m-13.3 .1h.7m12.6 0h.7m-.4 0h.7m17.1 0h.7m-20.4 .1h.7m10.2 0h.7m1.8 0h.7m-12.2 .1h.7m.3 0h.7m3.3 0h.7m8.1 0h.7m-5.9 .1h.7m2.2 0h.7m-5.6 .1h.7m1.5 0h.7m-13.4 .1h.7m17.3 0h.7m2 0h.7m-16.7 .1h.7m4 0h.7m.7 0h.7m4.1 0h.7m.7 0h.7m6.2 .1h.7m5.5 .1h.7m-25 .1h.7m0 .1h.7m-1.9 .1h.7m-.5 0h.7m4.8 0h.7m2.2 0h.7m6.2 0h.7m-6.5 .1h.7m4.9 0h.7m-19 .1h.7m9 0h.7m-3.8 .1h.7m2.8 0h.7m.6 0h.7m-4.2 .1h.7m-.7 0h.7m10.6 0h.7m-14.3 .1h.7m.3 0h.7m3 0h.7m1.5 0h.7m8.7 0h.7m-19.2 .1h.7m9.6 0h.7m-12.1 .1h.7m18.5 0h.7m7 0h.7m-23.7 .1h.7m.5 0h.7m.4 0h.7m5.8 0h.7m-18.5 .1h.7m.2 0h.7m10.6 0h.7m1.3 0h.7m-8 .1h.7m9.7 0h.7m1.2 0h.7m-10.9 .1h.7m-6.9 .1h.7m8.6 0h.7m2.2 0h.7m13.5 0h.7m-40.9 .1h.7m6.5 0h.7m4.7 0h.7m13 0h.7m3.3 0h.7m3.2 0h.7m-22.8 .1h.7m17 0h.7m6.5 0h.7m-12 .1h.7m6 0h.7m2.5 0h.7m-8.8 .1h.7m.8 0h.7m-21.1 .1h.7m18.8 0h.7m7.2 0h.7m-42.8 .1h.7m24.6 0h.7m3 0h.7m-.2 0h.7m-.7 0h.7m-14.3 .1h.7m5.6 0h.7m4.6 0h.7m4.5 0h.7m-29.3 .1h.7m20.2 0h.7m-9 .1h.7m5.7 0h.7m11.4 0h.7m-13.5 .1h.7m3.2 0h.7m1.8 0h.7m2.2 0h.7m-7.8 .1h.7m.4 0h.7m4.8 0h.7m-6.2 .1h.7m5.4 0h.7m-11.7 .1h.7m19.4 0h.7m-23.4 .1h.7m.5 0h.7m7 0h.7m21 0h.7m-31.5 .1h.7m4.2 0h.7m2.3 0h.7m3 0h.7m-.1 0h.7m1.8 0h.7m.1 0h.7m5 0h.7m-25.2 .1h.7m5.1 0h.7m.3 0h.7m7 0h.7m.8 .1h.7m2.3 0h.7m-3.5 .1h.7m4.3 0h.7m.7 0h.7m.9 0h.7m-29.6 .1h.7m14 0h.7m9.7 .1h.7m-15.8 .1h.7m8.8 0h.7m5 0h.7m7.2 0h.7m-26.9 .1h.7m13.1 0h.7m-8.1 .1h.7m5.6 0h.7m-.7 0h.7m.3 0h.7m3.9 0h.7m6.9 0h.7m-22.6 .1h.7m6.1 0h.7m4.5 0h.7m-21.8 .1h.7m13.7 0h.7m2.8 0h.7m4.4 0h.7m-12.5 .1h.7m-.4 0h.7m-5.1 .1h.7m3.3 0h.7m-.7 .1h.7m1.1 0h.7m1.2 0h.7m8.5 0h.7m-11.7 .1h.7m7.9 0h.7m.1 0h.7m3.3 0h.7m-19.8 .1h.7m1.2 0h.7m1.6 0h.7m.9 0h.7m0 0h.7m4.1 0h.7m-12.8 .1h.7m1.4 0h.7m7.4 0h.7m4.7 0h.7m-26 .1h.7m9.6 0h.7m6.1 0h.7m7.8 0h.7m-21.2 .1h.7m3.4 0h.7m2.6 0h.7m3 0h.7m0 0h.7m-7.2 .1h.7m10.4 0h.7m-26.9 .2h.7m13.4 0h.7m-.5 0h.7m7.5 0h.7m3 0h.7m8.6 0h.7m-15 .1h.7m12.5 0h.7m7.4 0h.7m-22.6 .1h.7m3.1 0h.7m5.1 0h.7m3.1 0h.7m.3 0h.7m-25.7 .1h.7m22.8 0h.7m-13.3 .1h.7m-6.3 .1h.7m2.4 0h.7m6.3 0h.7m.6 0h.7m17.5 0h.7m-36.6 .1h.7m13.2 0h.7m17.6 0h.7m-20.6 .1h.7m3.4 0h.7m1.9 0h.7m1.7 0h.7m2.5 0h.7m-19.1 .1h.7m3.9 .1h.7m-.5 0h.7m5.3 0h.7m1.6 0h.7m-14 .1h.7m.2 0h.7m8.3 0h.7m3.8 0h.7m.8 0h.7m4.5 0h.7m4.7 0h.7m-20.8 .1h.7m6.9 0h.7m-14.5 .1h.7m3.7 0h.7m14.6 0h.7m-24.8 .1h.7m5.6 0h.7m-16.2 .1h.7m27 0h.7m8.4 0h.7m-12.6 .1h.7m.5 0h.7m4.2 0h.7m-13.7 .1h.7m6.6 .1h.7m-10.4 .1h.7m1.5 0h.7m6.2 0h.7m3.7 0h.7m17 0h.7m-45.1 .1h.7m17.3 0h.7m1.5 0h.7m3.1 0h.7m-14.8 .1h.7m2.7 0h.7m1.7 0h.7m-.2 0h.7m-3.7 .1h.7m10.8 0h.7m-6.6 .1h.7m7.1 .1h.7m1.2 0h.7m-18.7 .1h.7m11.8 0h.7m.4 0h.7m8.4 0h.7m-22 .1h.7m10.2 0h.7m6.2 .1h.7m-9.3 .1h.7m7.5 0h.7m-16.8 .1h.7m6.5 .1h.7m-9.4 .1h.7m5.3 0h.7m-5.7 .1h.7m17.6 .1h.7m-8.2 .2h.7m-22.2 .1h.7m8.8 0h.7m2.6 0h.7m10.5 0h.7m-11.2 .1h.7m12.1 0h.7m12.9 0h.7m-33.9 .1h.7m11 0h.7m10.6 0h.7m-8.2 .1h.7m4.5 0h.7m5.2 0h.7m-12.1 .1h.7m-14.3 .3h.7m1.2 0h.7m0 0h.7m1.8 0h.7m7.3 0h.7m-15.6 .1h.7m9.2 .1h.7m-7.9 .1h.7m4.1 0h.7m13.2 0h.7m-9.9 .1h.7m-2.4 .1h.7m-20.4 .1h.7m7 0h.7m1.8 0h.7m35.2 0h.7m-14.5 .1h.7m-19.1 .1h.7m8.4 0h.7m-20.9 .1h.7m14.2 0h.7m-13.1 .2h.7m21.4 0h.7m5.1 .1h.7m-28.3 .1h.7m20.4 .1h.7m3.2 .1h.7m-9.2 .1h.7m-15.7 .1h.7m8.7 0h.7m8.2 0h.7m3.9 .1h.7m-30.8 .2h.7m14.9 0h.7m-18.8 .1h.7m12.5 0h.7m12.1 0h.7m-11.5 .1h.7m4.9 0h.7m2.8 0h.7m5.7 0h.7m-16.1 .1h.7m18 .1h.7m-6.3 .2h.7m-6.5 .1h.7m-.2 .1h.7m3.1 .1h.7m-2 .1h.7m1 0h.7m-14 .1h.7m6.6 .2h.7m1.7 0h.7m6.2 0h.7m-15.5 .1h.7m-.1 .1h.7m5.1 .1h.7m-.5 0h.7m-7.5 .1h.7m14.8 .2h.7m-11 .2h.7m-1.5 .2h.7m3.3 0h.7m-15.6 .1h.7m14.8 0h.7m4.7 0h.7m-13.2 .4h.7m-7.3 .2h.7m2.5 0h.7m10.3 .1h.7m.3 .2h.7m2.2 .1h.7m-9.6 .1h.7m-6.3 .3h.7m-4.9 .2h.7m4 .4h.7m6.2 0h.7m4.7 .4h.7m-9.4 .1h.7m25.2 0h.7m-24 .2h.7m-5.2 .1h.7m12.8 0h.7m-11.2 .1h.7m-1.6 .2h.7m8.6 0h.7m-15.8 .1h.7m-.6 0h.7m5 .2h.7m3.2 0h.7m-2.3 .5h.7m4.4 0h.7m-10.1 .1h.7m1.1 0h.7m-4 .1h.7m14.3 .1h.7m9.5 .2h.7m-18.9 .2h.7m5.5 0h.7m-15.4 .2h.7m3.8 0h.7m.8 .3h.7m4.1 .1h.7m-10.1 .3h.7m-.2 .1h.7m0 .1h.7m-.1 0h.7m7.4 .2h.7m-15 .2h.7m21.4 0h.7m-19.6 .1h.7m5.7 0h.7m6.7 .2h.7m-6.4 .2h.7m-.5 0h.7m-1.8 .2h.7m-5.1 .1h.7m-3.4 .1h.7m3.2 .1h.7m-12 .1h.7m9.9 0h.7m.7 0h.7m-6.6 .1h.7m2.5 0h.7m3.9 0h.7m1.9 .1h.7m-6.7 .1h.7m2.2 .1h.7m6 0h.7m-8.3 .2h.7m-6.7 .2h.7m10.9 0h.7m2.4 .1h.7m2.2 .3h.7m-20.2 .1h.7m5.2 .2h.7m1.5 .1h.7m-.4 0h.7m-1 .2h.7m-.7 0h.7m.8 0h.7m.7 0h.7m4.8 0h.7m-13.3 .3h.7m1.4 0h.7m-1 .1h.7m1 0h.7m2.5 0h.7m-.1 0h.7m-8.3 .4h.7m8.5 0h.7m-14.2 .1h.7m8.1 .1h.7m-3.9 .1h.7m3.3 0h.7m-.1 0h.7m7.2 .1h.7m1.9 0h.7m-14 .2h.7m2 .1h.7m5 0h.7m-4.2 .2h.7m-7.6 .1h.7m.5 0h.7m1.4 0h.7m4.4 0h.7m-3.2 .1h.7m-3.4 .1h.7m-1.9 .1h.7m-5 .1h.7m5 0h.7m1.4 0h.7m-5.7 .1h.7m-.1 0h.7m.9 .1h.7m-8.1 .1h.7m12.3 .1h.7m-5.5 .1h.7m.8 .1h.7m-8.6 .1h.7m2.6 .1h.7m2.6 0h.7m-16.2 .2h.7m4.8 0h.7m7.5 0h.7m4.9 .1h.7m-4.1 .2h.7m-5 .1h.7m-.6 0h.7m2 .2h.7m1.7 .1h.7m-.6 0h.7m-4.9 .3h.7m-1.5 .1h.7m7.4 .1h.7m-6.1 .2h.7m2.1 0h.7m-3 .2h.7m-19.8 .2h.7m12.3 0h.7m-.6 0h.7m17.6 0h.7m-20.1 .1h.7m10.7 0h.7m-8 .3h.7m9.6 .2h.7m-4.8 .1h.7m-5.5 .1h.7m-3 .1h.7m2.2 .2h.7m-3.8 .1h.7m8.5 .1h.7m-3.4 .1h.7m-10.8 .1h.7m11.4 0h.7m-4.8 .1h.7m3.3 0h.7m-5.8 .1h.7m-.5 .1h.7m-.6 0h.7m2.1 0h.7m.1 0h.7m-14 1.1h.7m11 .2h.7m-2.9 .6h.7m.9 .2h.7m-3.1 .1h.7m34 0h.7m-36.5 .2h.7m-9.6 .1h.7m17 0h.7m-8 .2h.7m.2 .1h.7m-1 .3h.7m-3.8 .4h.7m5.3 .3h.7m-1.6 .5h.7m3.5 .2h.7m-6.3 .4h.7m-2.1 .3h.7m-5.3 .5h.7m4.9 .1h.7m-3.3 .2h.7m4 .3h.7m-.7 .2h.7m-11.4 .1h.7m-8.2 3.4h.7m22.7 7h.7" stroke="#000" stroke-width="0.7" stroke-opacity="0.4" fill="none" filter="url(#sb)"/>
<path d="M444.4 243.4h.7m2.6 2.4h.7m-4.9 3.1h.7m2.6 1.3h.7m16.2 .5h.7m-25.7 .7h.7m23.8 .4h.7m-23.3 .9h.7m4.8 .2h.7m15.9 .1h.7m-3.3 .1h.7m-5.7 .1h.7m2.2 .1h.7m-3.6 .6h.7m3 .1h.7m-16.4 .5h.7m4 .8h.7m6.9 0h.7m6.6 0h.7m-15.6 .8h.7m13.2 0h.7m-28.7 .4h.7m16.3 0h.7m4 .1h.7m1.7 .1h.7m.7 1h.7m-11.2 .1h.7m8.1 .2h.7m3.1 0h.7m-22.9 .1h.7m3.7 0h.7m-9.6 .1h.7m10.8 0h.7m1.4 0h.7m3.4 0h.7m-3.8 .1h.7m9.5 .2h.7m-8 .2h.7m6.9 .2h.7m-.5 0h.7m-10.9 .1h.7m-.2 0h.7m-3.9 .1h.7m3.8 0h.7m.4 0h.7m-3.5 .1h.7m2.4 0h.7m-.3 0h.7m-10.8 .1h.7m10.9 0h.7m-11.2 .1h.7m5.2 0h.7m3.8 0h.7m-.3 0h.7m6.6 .1h.7m-19.2 .1h.7m2 .1h.7m-1 .1h.7m2.5 .1h.7m-9.1 .1h.7m4.3 0h.7m-7.9 .1h.7m10.1 0h.7m-.6 0h.7m6.2 0h.7m-18.2 .1h.7m.6 0h.7m3.6 0h.7m11.5 0h.7m3.7 0h.7m8.7 0h.7m-40.7 .1h.7m19.9 0h.7m-2.7 .1h.7m-2.4 .2h.7m9.7 0h.7m2.2 0h.7m-21.1 .1h.7m1.5 0h.7m9.9 0h.7m5.2 0h.7m-24.4 .1h.7m3.1 0h.7m11.7 0h.7m.5 0h.7m-25.1 .2h.7m11.2 0h.7m10.8 0h.7m-14.6 .1h.7m11.9 0h.7m7.1 0h.7m-11.4 .2h.7m14.8 0h.7m-15.3 .1h.7m3 0h.7m1.3 0h.7m-20.5 .1h.7m5.4 .1h.7m2.5 0h.7m-5.3 .1h.7m19 0h.7m-16.5 .1h.7m5.1 0h.7m8.5 0h.7m-.7 .1h.7m-15.3 .1h.7m.9 0h.7m-.4 0h.7m10.2 0h.7m11.7 0h.7m-30.4 .1h.7m9.1 0h.7m1.9 0h.7m-15.3 .1h.7m15.4 0h.7m-13.7 .2h.7m1.6 0h.7m-9 .1h.7m21.1 0h.7m9.4 0h.7m-13.9 .1h.7m3.4 0h.7m-8.8 .2h.7m12.6 0h.7m-17.9 .1h.7m1.3 0h.7m-.2 0h.7m10.2 0h.7m-39.3 .1h.7m13.3 0h.7m3.8 0h.7m11.1 0h.7m1.2 0h.7m.7 0h.7m-9.3 .1h.7m-10.8 .1h.7m16.5 .2h.7m9.4 0h.7m-3.8 .1h.7m-12.7 .1h.7m1.4 0h.7m5.4 0h.7m5.5 0h.7m-.5 0h.7m-.1 0h.7m-26.3 .1h.7m1 0h.7m.6 0h.7m27.6 0h.7m-14.1 .1h.7m.1 0h.7m-.1 0h.7m3.9 0h.7m-11.8 .1h.7m18 0h.7m-14 .1h.7m.3 0h.7m-4.6 .1h.7m2.3 0h.7m0 0h.7m6.8 0h.7m18.8 0h.7m-37.4 .1h.7m10 0h.7m-.5 0h.7m-14.6 .1h.7m9.8 0h.7m-11.1 .1h.7m24.7 0h.7m-23.1 .1h.7m1.8 0h.7m-.5 0h.7m11.8 0h.7m-14.9 .1h.7m1.5 0h.7m.3 .1h.7m13 0h.7m3.9 0h.7m-22.2 .1h.7m1.9 0h.7m6.3 0h.7m-11.8 .1h.7m13.1 0h.7m1.5 0h.7m-6.9 .1h.7m2.1 0h.7m-21.2 .1h.7m4.4 0h.7m1.6 0h.7m-.6 0h.7m9.7 0h.7m-4.3 .1h.7m.7 0h.7m11.3 0h.7m-24.3 .1h.7m.8 0h.7m2.5 0h.7m.8 0h.7m1.8 0h.7m-11.8 .1h.7m10.6 0h.7m5.5 .1h.7m-28 .1h.7m1.2 0h.7m12 0h.7m-3.6 .1h.7m2.9 0h.7m-4.4 .1h.7m3.1 0h.7m.9 0h.7m1.1 0h.7m7.9 0h.7m-22.9 .1h.7m20.9 .1h.7m-33.3 .1h.7m28.8 0h.7m.7 0h.7m0 0h.7m8.1 0h.7m-.5 0h.7m-19.6 .1h.7m-.5 0h.7m3.2 0h.7m1 0h.7m-9.6 .1h.7m2.1 0h.7m7.8 0h.7m.2 0h.7m-20.9 .1h.7m3.3 0h.7m7.8 0h.7m1.2 0h.7m5.8 .1h.7m-21.7 .1h.7m6.3 0h.7m1.9 0h.7m5.9 0h.7m13.2 0h.7m-12.3 .1h.7m6.9 0h.7m9.4 0h.7m-28.6 .1h.7m2.6 0h.7m15.9 0h.7m-18.9 .1h.7m8.1 0h.7m9.2 0h.7m.8 .1h.7m-20.8 .1h.7m1.6 .1h.7m5.6 0h.7m2.5 0h.7m-5.2 .1h.7m1.9 0h.7m1.4 0h.7m3.3 0h.7m-15.6 .1h.7m3.2 0h.7m5 0h.7m9.3 0h.7m-16.5 .1h.7m13.1 0h.7m-25.5 .1h.7m3.1 0h.7m24.3 0h.7m-29.7 .1h.7m6.3 0h.7m7.1 0h.7m-5.7 .1h.7m8.9 0h.7m-16.7 .1h.7m22 0h.7m14.9 0h.7m-48.2 .1h.7m15.2 0h.7m1 0h.7m-.3 0h.7m1.2 0h.7m-5.2 .1h.7m3.4 0h.7m-2.9 .1h.7m2.6 0h.7m-16.2 .1h.7m-8.5 .1h.7m20.1 0h.7m-8.4 .2h.7m2.1 0h.7m.3 0h.7m1.7 0h.7m1.7 0h.7m10 0h.7m-25.6 .1h.7m1.4 0h.7m17.2 0h.7m-9.2 .1h.7m0 0h.7m5.2 .1h.7m1 0h.7m-15.2 .1h.7m13 0h.7m1 0h.7m-2.7 .1h.7m-11.8 .2h.7m10.6 0h.7m-8.4 .1h.7m5.2 0h.7m.7 0h.7m-.4 0h.7m1 0h.7m-14.3 .1h.7m1.8 .1h.7m2 0h.7m19.3 0h.7m-16.4 .2h.7m.6 0h.7m-29 .2h.7m14.5 0h.7m-.3 0h.7m2.4 0h.7m.4 0h.7m1.5 0h.7m8.8 0h.7m2.7 0h.7m-15.6 .1h.7m4 0h.7m1.2 0h.7m-.3 0h.7m.8 .3h.7m1.6 0h.7m-14 .1h.7m4.4 0h.7m7.1 0h.7m11.8 0h.7m3.7 0h.7m-25.6 .1h.7m3.2 0h.7m-8.8 .1h.7m-.1 0h.7m8.2 .2h.7m-.4 0h.7m.1 0h.7m8.4 0h.7m3.9 0h.7m-14.7 .1h.7m17.2 0h.7m-25.5 .1h.7m-3.7 .1h.7m10.2 0h.7m-14.6 .1h.7m10 0h.7m-10.2 .1h.7m2.2 0h.7m17.5 0h.7m-13.2 .1h.7m13 0h.7m-12.2 .1h.7m2.4 0h.7m-23 .1h.7m11.6 0h.7m12.6 0h.7m-25.5 .1h.7m7.6 0h.7m4.4 0h.7m-10.8 .1h.7m9.4 0h.7m3.3 0h.7m-10.1 .2h.7m15.2 0h.7m-.5 0h.7m.6 0h.7m4 0h.7m-20.3 .3h.7m5.6 0h.7m-30.9 .1h.7m27.1 0h.7m2.3 .1h.7m6.7 0h.7m-.4 0h.7m-10.9 .1h.7m-5.2 .1h.7m4 0h.7m6.9 0h.7m-16.7 .1h.7m1.4 0h.7m6.9 0h.7m3.6 0h.7m10.3 0h.7m-14 .1h.7m-19.4 .2h.7m6.1 0h.7m3.1 0h.7m16 0h.7m-28 .2h.7m6.6 0h.7m9.4 0h.7m7.1 0h.7m-15.4 .1h.7m3.2 0h.7m2 .1h.7m.4 0h.7m-21.7 .2h.7m13.1 0h.7m-3.6 .1h.7m15 .1h.7m-15.1 .1h.7m4.1 .1h.7m-2.3 .2h.7m17.8 0h.7m-9.9 .1h.7m9.9 0h.7m.7 0h.7m-23.6 .2h.7m4.9 0h.7m3.8 0h.7m-22.9 .1h.7m8.4 0h.7m2.1 0h.7m3 0h.7m14.8 0h.7m-12.2 .2h.7m-10.4 .1h.7m9.1 0h.7m-16 .1h.7m19 0h.7m1.4 0h.7m-7.1 .1h.7m5.5 0h.7m-14.3 .1h.7m-.4 0h.7m3.5 0h.7m-14.7 .1h.7m5.9 .1h.7m1.1 .1h.7m11.5 .1h.7m21.9 0h.7m-29.5 .2h.7m2.4 0h.7m-8.7 .1h.7m4 .1h.7m7.3 0h.7m-9 .1h.7m9.2 0h.7m-5.7 .1h.7m-.9 .1h.7m-.8 .2h.7m-10.2 .1h.7m10.5 .2h.7m-31.5 .2h.7m29.6 .1h.7m7.4 0h.7m-9.4 .1h.7m-7.7 .1h.7m5.4 0h.7m2.3 0h.7m6.7 0h.7m-25.5 .1h.7m8.9 0h.7m.8 0h.7m-19.8 .2h.7m14 0h.7m-.9 .1h.7m4.6 0h.7m2 0h.7m-4.6 .1h.7m2.1 .4h.7m-13 .3h.7m7.7 0h.7m11.7 .1h.7m-17.6 .1h.7m7.9 0h.7m-6 .2h.7m-.5 .1h.7m-6 .2h.7m9.3 0h.7m-19.5 .2h.7m7.9 .2h.7m3.1 0h.7m-3.4 .1h.7m6.6 0h.7m5.8 0h.7m-11 .1h.7m1.9 0h.7m-7.7 .1h.7m4.2 .1h.7m3.9 0h.7m-22.5 .2h.7m20.4 0h.7m-5.4 .1h.7m-13.9 .1h.7m12.8 0h.7m1.2 .1h.7m-4.4 .2h.7m-5.9 .2h.7m6.1 0h.7m.1 0h.7m-.1 0h.7m-5.8 .1h.7m9.5 .2h.7m-2.6 .2h.7m9.3 0h.7m-28.1 .2h.7m9.2 0h.7m5.5 0h.7m-10.5 .3h.7m8.6 0h.7m-.7 .1h.7m-15.9 .1h.7m4.4 0h.7m1 .1h.7m1 .1h.7m-1.1 .2h.7m15.6 0h.7m-15.3 .4h.7m1 .1h.7m-12.1 .4h.7m9.7 .1h.7m.4 .1h.7m-3.3 .1h.7m8.8 0h.7m-13.4 .1h.7m11 0h.7m-4.9 .1h.7m-6 .1h.7m-2.9 .1h.7m1.1 0h.7m.6 0h.7m1.5 .2h.7m5 0h.7m-8.7 .1h.7m-1.7 .1h.7m5.5 0h.7m4.4 0h.7m-12.4 .1h.7m3.1 0h.7m-16.6 .1h.7m16.6 .1h.7m-5 .1h.7m22.2 0h.7m-20.8 .1h.7m-2.6 .3h.7m4.4 0h.7m-3 .1h.7m.5 0h.7m-1 .1h.7m-2.2 .4h.7m-8.3 .1h.7m23.4 .1h.7m-27.3 .1h.7m11.1 0h.7m-4.4 .1h.7m2.4 0h.7m-2.3 .2h.7m3.7 0h.7m3.4 0h.7m24.2 .1h.7m-32.7 .1h.7m-3.1 .1h.7m2.4 .1h.7m7.2 0h.7m-8.3 .1h.7m2.4 0h.7m-.1 .1h.7m-10.9 .2h.7m.4 0h.7m3.1 0h.7m-2.5 .1h.7m5.3 0h.7m-2.8 .1h.7m9.1 0h.7m-14.4 .2h.7m.4 0h.7m-1.5 .2h.7m1.1 0h.7m-5.3 .1h.7m1.3 0h.7m-1.7 .2h.7m-3.1 .4h.7m3.3 0h.7m4.8 .1h.7m-2.4 .1h.7m-5.1 .1h.7m1.3 .2h.7m.1 0h.7m-8.9 .1h.7m17.5 .1h.7m-11.1 .1h.7m-5.2 .2h.7m1.3 .1h.7m3.8 0h.7m-7.1 .3h.7m-5.3 .1h.7m12.2 .1h.7m-7 .1h.7m4.9 .2h.7m.8 0h.7m-8.9 .1h.7m-.2 0h.7m3.9 0h.7m2.6 .2h.7m-13.6 .1h.7m7.7 0h.7m18.4 0h.7m-18.1 .1h.7m1.2 0h.7m-1.2 .2h.7m1.7 .3h.7m-13.2 .1h.7m4 0h.7m.2 .1h.7m1.6 .1h.7m-6.6 .1h.7m11.9 0h.7m-8.3 .4h.7m-6.1 .1h.7m1 0h.7m2.3 .2h.7m16.1 .1h.7m-16.8 .1h.7m.5 0h.7m-6.2 .3h.7m-1.2 .2h.7m.5 0h.7m2 0h.7m3.4 .4h.7m-12.1 .6h.7m-1 .1h.7m1.3 .3h.7m2.2 0h.7m.6 0h.7m4.5 0h.7m-2.4 .3h.7m-2.6 .2h.7m-1.6 .2h.7m3.3 .2h.7m-5.4 .4h.7m.7 0h.7m4.9 .1h.7m-8.5 .2h.7m5 0h.7m-3 .3h.7m2.8 .5h.7m6.2 1.2h.7m-11.6 .1h.7m-4.9 .7h.7m-.5 .1h.7" stroke="#000" stroke-width="0.7" stroke-opacity="0.4" fill="none" filter="url(#sb)"/>
<path d="M451.9 255.6h.8m-3.8 .1h.8m-10.2 1h.8m7.7 .3h.8m2.9 .1h.8m1.2 .5h.8m-3.7 1.1h.8m1.7 0h.8m-4.4 .3h.8m-9.5 .8h.8m6.9 .4h.8m-5 .2h.8m3.9 .1h.8m8.1 0h.8m-12.7 .1h.8m4.5 0h.8m-2.7 .2h.8m-9.9 .3h.8m22.5 .1h.8m-18.4 .1h.8m6.4 .3h.8m2.3 .2h.8m-5.9 .1h.8m-5.4 .1h.8m6.8 .1h.8m-10.5 .1h.8m10 0h.8m2.9 0h.8m-8.7 .1h.8m2.7 0h.8m-5.5 .1h.8m3.2 0h.8m-.4 0h.8m-12.1 .1h.8m4.2 0h.8m10.5 0h.8m-11 .1h.8m4.4 0h.8m-10.2 .1h.8m-13.4 .1h.8m15.9 0h.8m1.4 .1h.8m-.3 0h.8m.3 0h.8m.5 .1h.8m-11 .1h.8m4 0h.8m-11.4 .1h.8m7.9 0h.8m.3 .1h.8m-6.5 .1h.8m8.8 0h.8m-3 .1h.8m4.7 .2h.8m-6.5 .1h.8m4.3 0h.8m-16.5 .1h.8m15.5 0h.8m-15.7 .1h.8m8.7 .1h.8m2.2 0h.8m-1.2 .1h.8m-10.2 .1h.8m7.6 .4h.8m-10.6 .3h.8m1.4 0h.8m-.3 0h.8m-1.1 .2h.8m-.1 0h.8m3.7 0h.8m.8 0h.8m-5.3 .1h.8m-.3 .2h.8m-.5 0h.8m5.8 0h.8m-2.8 .1h.8m-6.4 .1h.8m3 .1h.8m1.3 0h.8m-11.4 .1h.8m8.2 0h.8m.7 0h.8m-11.9 .1h.8m12.3 0h.8m-4.9 .1h.8m.4 0h.8m1.6 0h.8m.2 .1h.8m-7.8 .1h.8m7.8 0h.8m-.9 .1h.8m-4.6 .1h.8m.3 0h.8m-12.1 .2h.8m5 0h.8m2.2 0h.8m2.6 0h.8m-14.8 .1h.8m4.1 0h.8m12.5 .1h.8m-15.3 .1h.8m1.4 0h.8m2 0h.8m8.3 0h.8m-8.6 .1h.8m-.2 0h.8m-5.5 .1h.8m-.3 0h.8m4.9 0h.8m-3.1 .2h.8m-3.5 .1h.8m0 0h.8m1 .2h.8m-4.3 .1h.8m6.1 0h.8m-9.2 .1h.8m4.5 0h.8m6.5 0h.8m-12.3 .1h.8m.3 0h.8m.2 0h.8m5.3 0h.8m.7 .2h.8m7.6 0h.8m-15 .1h.8m2.5 0h.8m-5.7 .1h.8m.9 0h.8m-5.2 .1h.8m-.1 0h.8m3.4 0h.8m-12.8 .1h.8m7.4 0h.8m-2.1 .1h.8m.6 0h.8m5.1 0h.8m-5.2 .1h.8m6.6 0h.8m.9 0h.8m-.3 0h.8m6.8 0h.8m-18.3 .1h.8m2.8 0h.8m-.5 .1h.8m-11.9 .1h.8m8.3 0h.8m-1.3 .1h.8m-.2 0h.8m-.6 0h.8m5.3 0h.8m-14.9 .1h.8m2.1 0h.8m4.7 .1h.8m-.4 0h.8m2.6 0h.8m-12.4 .1h.8m.4 0h.8m.1 0h.8m-.6 0h.8m-.5 0h.8m-.5 0h.8m4.9 0h.8m-.4 0h.8m-5.5 .1h.8m1.5 0h.8m-6.1 .1h.8m4.8 0h.8m8.7 0h.8m-10.4 .1h.8m.7 .1h.8m1 0h.8m-13.5 .1h.8m11.1 .1h.8m0 0h.8m.1 .1h.8m-.1 0h.8m-16.6 .1h.8m4.9 0h.8m-.7 0h.8m2.9 0h.8m-4.9 .1h.8m3 0h.8m.9 0h.8m-2.3 .1h.8m-.5 0h.8m-2.6 .1h.8m0 0h.8m-.3 0h.8m4.5 0h.8m-6.1 .1h.8m-.8 0h.8m.5 0h.8m-.7 0h.8m5.9 0h.8m1.4 0h.8m-19.5 .1h.8m2.5 0h.8m7 0h.8m1.6 0h.8m-6.8 .1h.8m.5 0h.8m.2 0h.8m2.7 0h.8m-7.5 .1h.8m10.4 .1h.8m-10.5 .1h.8m3.8 0h.8m-4.6 .1h.8m4.3 0h.8m-8.4 .1h.8m1.6 0h.8m1.5 .1h.8m1.4 0h.8m-2.1 .1h.8m-4 .1h.8m1.4 0h.8m-4.9 .1h.8m1.4 .1h.8m2.9 0h.8m-8.8 .1h.8m1.4 0h.8m-.5 0h.8m1.5 .1h.8m-.8 0h.8m-.6 0h.8m.4 0h.8m-8 .1h.8m1.5 0h.8m-1.4 .1h.8m-.5 0h.8m-.5 0h.8m-.5 0h.8m-.1 0h.8m8.1 0h.8m-3.2 .1h.8m-5.9 .1h.8m-3 .1h.8m-.3 0h.8m.5 0h.8m2.7 0h.8m-4.6 .1h.8m1 0h.8m-4.1 .1h.8m.1 0h.8m1.6 0h.8m2 0h.8m1.7 .1h.8m0 0h.8m2.7 0h.8m-15.3 .1h.8m4.3 0h.8m-7.2 .1h.8m-.2 0h.8m3.2 0h.8m8.8 0h.8m-11 .1h.8m1.5 0h.8m-5.1 .1h.8m1.6 0h.8m0 0h.8m0 0h.8m-8.5 .1h.8m4.6 0h.8m-.2 0h.8m.8 0h.8m2 0h.8m.3 .1h.8m.5 0h.8m.8 0h.8m-10.9 .1h.8m-.1 0h.8m.8 0h.8m.8 0h.8m-1.5 .1h.8m15.9 0h.8m-18.4 .1h.8m7.8 0h.8m-.3 .1h.8m-14.8 .1h.8m3.3 0h.8m-.2 0h.8m6.9 0h.8m-9.3 .1h.8m.1 0h.8m2.5 0h.8m-7.1 .1h.8m-.6 0h.8m5.6 0h.8m-12.8 .1h.8m2.9 0h.8m1 0h.8m.1 .1h.8m3.7 0h.8m-14 .1h.8m7 0h.8m1.5 0h.8m2.1 0h.8m3.1 0h.8m-7.9 .1h.8m14.7 0h.8m-24.2 .1h.8m6.3 .1h.8m-2.1 .1h.8m2.6 0h.8m.5 0h.8m.9 0h.8m-8.5 .1h.8m2.8 0h.8m3.4 0h.8m1.6 0h.8m-9.3 .1h.8m-.1 0h.8m-3 .1h.8m1.1 0h.8m1.9 0h.8m3.9 0h.8m-3 .1h.8m0 0h.8m-4.1 .1h.8m4 0h.8m3.9 0h.8m-14.1 .1h.8m5.6 0h.8m-11.1 .1h.8m6.1 0h.8m-4 .1h.8m2.7 0h.8m.4 0h.8m.1 .1h.8m-.5 0h.8m.4 0h.8m-.4 0h.8m-9.5 .1h.8m2.2 0h.8m0 0h.8m7.4 0h.8m-11.2 .1h.8m.1 0h.8m-.2 0h.8m2.1 0h.8m.2 0h.8m-.7 0h.8m-.4 0h.8m-.1 0h.8m3.2 0h.8m-14.8 .1h.8m1.3 0h.8m-.2 0h.8m-.6 0h.8m1.1 0h.8m3.7 0h.8m4.6 0h.8m-11 .1h.8m.3 .1h.8m-.2 0h.8m-.7 0h.8m4.9 0h.8m-7.4 .1h.8m1.7 0h.8m.9 0h.8m-.4 0h.8m-5.9 .1h.8m4.4 0h.8m-5.1 .1h.8m3.2 0h.8m.3 0h.8m-4 .1h.8m0 0h.8m3.2 0h.8m-13.2 .1h.8m6.4 0h.8m-8.2 .1h.8m4.6 0h.8m.1 0h.8m-6.7 .1h.8m1.2 0h.8m1.6 0h.8m1.1 0h.8m-3 .1h.8m2.4 0h.8m4.2 0h.8m-11.7 .1h.8m2.6 0h.8m-.5 0h.8m.5 0h.8m-3.7 .1h.8m1.4 0h.8m3.2 0h.8m-.3 0h.8m-.8 0h.8m-9.7 .1h.8m2.9 0h.8m2.5 0h.8m-6.7 .1h.8m4.7 0h.8m-6.9 .1h.8m3.1 .1h.8m-.5 .1h.8m1.1 0h.8m1.5 0h.8m-11.7 .1h.8m0 .1h.8m5.3 0h.8m1.1 0h.8m-5.3 .1h.8m3.9 0h.8m2.4 0h.8m0 0h.8m1.1 0h.8m-13.3 .1h.8m2.2 0h.8m.4 0h.8m-.7 0h.8m2 0h.8m-7.6 .1h.8m.9 0h.8m1.3 0h.8m-5.2 .1h.8m.7 0h.8m.7 .1h.8m-.6 0h.8m1.2 0h.8m2.2 0h.8m-8 .1h.8m-.1 0h.8m2.8 0h.8m-8.9 .1h.8m6.2 0h.8m.8 0h.8m-.4 0h.8m-.4 0h.8m-4 .1h.8m.3 0h.8m-8.8 .1h.8m9.3 0h.8m-.8 .1h.8m-5.9 .1h.8m-.4 .1h.8m6.6 0h.8m-7 .1h.8m8.5 0h.8m-11.5 .1h.8m2.5 0h.8m-3.5 .1h.8m1 0h.8m2.2 .1h.8m-12.1 .1h.8m6.6 0h.8m.8 0h.8m-7.8 .1h.8m5.1 0h.8m-.6 0h.8m-.6 0h.8m-.5 0h.8m3.2 0h.8m-6.7 .1h.8m.3 0h.8m.7 0h.8m-2.9 .1h.8m.3 0h.8m-8.1 .1h.8m4.1 0h.8m-.7 0h.8m3.5 .1h.8m1.2 0h.8m-3.5 .2h.8m-5.6 .1h.8m-.1 0h.8m1.3 0h.8m2.6 0h.8m.3 0h.8m-3.2 .1h.8m.3 0h.8m-3.5 .1h.8m2.4 .1h.8m.9 0h.8m-9.2 .1h.8m2.9 0h.8m-9 .1h.8m3 0h.8m2.8 0h.8m.6 0h.8m-10.4 .1h.8m5 .1h.8m-2.2 .2h.8m-.7 0h.8m1.8 0h.8m1.3 0h.8m.4 0h.8m-5.9 .1h.8m4.3 0h.8m0 0h.8m-10.1 .1h.8m5.8 0h.8m-.3 0h.8m1.2 0h.8m-7.2 .1h.8m3.1 .1h.8m-2 .1h.8m-.5 .1h.8m2.1 0h.8m.9 0h.8m-3.8 .1h.8m5.9 0h.8m-9 .1h.8m-.1 0h.8m2.8 0h.8m-6.3 .1h.8m4.1 .1h.8m-4.4 .1h.8m-2.1 .2h.8m4.9 0h.8m-4.6 .1h.8m.7 0h.8m3.2 0h.8m-5.1 .1h.8m-.7 0h.8m2.3 0h.8m-9.9 .1h.8m3.9 0h.8m-7.9 .2h.8m1.4 0h.8m2.8 0h.8m1.9 0h.8m11.3 0h.8m-19.3 .2h.8m.4 0h.8m-2.8 .2h.8m4.1 0h.8m4.1 0h.8m-6.9 .1h.8m6.9 0h.8m.6 0h.8m-2.2 .1h.8m-6.3 .1h.8m-2.7 .1h.8m3.8 0h.8m-12.2 .2h.8m6.1 0h.8m-1.8 .1h.8m-1.7 .2h.8m-1.9 .3h.8m-1.2 .4h.8m-1.1 .3h.8m2.7 0h.8m.8 0h.8m-.3 0h.8m2.2 0h.8m-8.9 .1h.8m3.5 0h.8m-1.4 .1h.8m.7 0h.8m-.2 .2h.8m-.7 0h.8m-.8 .3h.8m2.7 0h.8m-5.9 .1h.8m-4.7 .1h.8m1.8 0h.8m5.7 0h.8m-.7 .1h.8m-2.5 .1h.8m-3.2 .1h.8m-7.1 .1h.8m2.8 0h.8m.1 .1h.8m4.8 0h.8m-8 .1h.8m.4 .1h.8m-.5 0h.8m2.2 .4h.8m-.4 0h.8m-1.2 .1h.8m-3.7 .5h.8m-3.8 .3h.8m1.1 .3h.8m6.5 .8h.8m-7 .1h.8m.2 .1h.8m5.9 .6h.8m-9.7 .6h.8m2.1 .4h.8m3.4 1.1h.8m-4.5 2.6h.8" stroke="#000" stroke-width="0.8" stroke-opacity="0.45" fill="none" filter="url(#sb)"/>
<path d="M451 255.1h.8m-8.5 3.6h.8m3.5 0h.8m-3 .3h.8m-.9 .1h.8m17.7 0h.8m-15.2 1h.8m-2.8 .1h.8m3.8 .1h.8m-4.2 .5h.8m2.7 0h.8m3.1 0h.8m-20.4 .1h.8m13.9 .1h.8m-1.5 .3h.8m9.1 .1h.8m-15.1 .2h.8m4 0h.8m-6.6 .5h.8m4 0h.8m-.9 .2h.8m-2.7 .1h.8m-4.5 .1h.8m1.7 0h.8m-.7 0h.8m4 0h.8m-3.7 .1h.8m-2.3 .1h.8m-2.6 .1h.8m2.5 0h.8m-5.1 .1h.8m3.9 .1h.8m2.4 0h.8m3.6 0h.8m-12 .1h.8m2.2 0h.8m5.6 .1h.8m-7.5 .2h.8m9.7 0h.8m-17.9 .1h.8m3.3 0h.8m-2.5 .1h.8m1.5 0h.8m2.6 .2h.8m-11.2 .3h.8m8.6 0h.8m2.8 0h.8m6.4 0h.8m-12.8 .1h.8m.5 0h.8m.3 0h.8m1.4 0h.8m.3 0h.8m-8.2 .1h.8m-2.9 .1h.8m4.5 0h.8m-7.1 .2h.8m2.6 0h.8m7.9 0h.8m-3.4 .1h.8m-1.2 .1h.8m-3.6 .2h.8m-.6 .1h.8m6.6 0h.8m-13.6 .3h.8m2.4 .2h.8m3.4 0h.8m3.4 0h.8m-.8 0h.8m-9.5 .1h.8m2.3 .1h.8m.7 0h.8m-7.4 .1h.8m.1 0h.8m4.3 0h.8m2.7 0h.8m1.7 0h.8m-8.5 .1h.8m6.8 0h.8m-12.7 .1h.8m3.4 0h.8m8.4 0h.8m-18.4 .1h.8m7.9 0h.8m5.8 0h.8m-.2 .1h.8m-.1 0h.8m-8.8 .1h.8m-.4 0h.8m-.7 0h.8m-6.3 .1h.8m2.1 0h.8m1.1 0h.8m.2 0h.8m.7 0h.8m.1 .1h.8m2.5 0h.8m-9 .1h.8m-.6 0h.8m2.9 0h.8m-5.1 .1h.8m7.8 0h.8m-5.9 .1h.8m-10.5 .1h.8m5.2 0h.8m4.4 .1h.8m-5.5 .1h.8m.2 0h.8m-1.4 .1h.8m1.6 0h.8m-2.5 .1h.8m2.6 0h.8m-.5 0h.8m8.6 0h.8m-12.9 .2h.8m-3.6 .1h.8m1.6 0h.8m.3 0h.8m.3 0h.8m4.4 0h.8m-6.4 .1h.8m1 0h.8m-.7 0h.8m-8.4 .1h.8m1.8 0h.8m0 0h.8m-.4 0h.8m-.6 0h.8m3.6 0h.8m-8.2 .1h.8m3.9 0h.8m9.8 0h.8m-16.7 .1h.8m1.8 0h.8m2.2 .1h.8m.2 .1h.8m.5 0h.8m-8.3 .1h.8m-.5 0h.8m-.8 0h.8m-.1 0h.8m-.5 0h.8m1.8 0h.8m-7.4 .1h.8m0 0h.8m-4.2 .1h.8m3.5 0h.8m6.2 0h.8m3 0h.8m-4.6 .1h.8m4.8 0h.8m-8.5 .1h.8m1.1 0h.8m3.2 0h.8m-11.4 .1h.8m-.5 0h.8m2.8 0h.8m.1 0h.8m5.6 0h.8m-.6 0h.8m-18.2 .1h.8m4.8 0h.8m1.5 0h.8m1 0h.8m2.4 0h.8m-.7 0h.8m-5.4 .1h.8m2.6 0h.8m11 0h.8m-17.5 .1h.8m2 0h.8m2.9 0h.8m-10 .1h.8m.9 0h.8m5.7 0h.8m-8.9 .1h.8m1.8 0h.8m5.2 0h.8m-15.3 .1h.8m12.5 0h.8m.8 0h.8m-13.9 .1h.8m7.3 0h.8m-1.1 .1h.8m3.7 0h.8m7.9 0h.8m-7.2 .1h.8m1.2 0h.8m-15.8 .1h.8m9.9 0h.8m7.1 .1h.8m-15 .1h.8m-6.7 .1h.8m-.2 0h.8m5.8 0h.8m-.6 0h.8m.3 0h.8m-.2 0h.8m1.6 0h.8m-8.5 .1h.8m-.2 0h.8m-.5 0h.8m-4.1 .1h.8m13.1 0h.8m.3 0h.8m-12.4 .1h.8m1.5 0h.8m-.4 0h.8m3.5 0h.8m-11.3 .1h.8m7 0h.8m1.6 0h.8m-6.8 .1h.8m-.5 .2h.8m6.1 0h.8m.1 0h.8m-5.3 .1h.8m.2 .1h.8m-3 .1h.8m-1.6 .1h.8m1.2 0h.8m-3.8 .1h.8m1.6 0h.8m3.2 0h.8m-8.2 .1h.8m7.2 0h.8m-12.6 .1h.8m4.1 0h.8m-.4 .1h.8m2.3 0h.8m.4 0h.8m5.8 0h.8m-15 .1h.8m1.6 0h.8m2.2 0h.8m-.7 0h.8m-2.1 .1h.8m7 0h.8m-10.1 .1h.8m4.4 0h.8m-.1 0h.8m-7.9 .2h.8m0 0h.8m.9 0h.8m.6 0h.8m10.2 0h.8m-14.3 .1h.8m-3.2 .1h.8m.9 0h.8m3.1 0h.8m-4.2 .1h.8m1.2 0h.8m-.6 .1h.8m-.5 0h.8m1.1 0h.8m-3.3 .2h.8m3.5 0h.8m-7 .1h.8m-1.4 .1h.8m2.4 0h.8m1.3 0h.8m8.7 0h.8m-16.3 .1h.8m1.2 0h.8m4.2 0h.8m-.2 0h.8m-.2 0h.8m2.2 0h.8m-8.3 .1h.8m-.8 0h.8m10.8 0h.8m.1 0h.8m-13.6 .1h.8m1.1 .1h.8m-.4 .1h.8m7.2 0h.8m-11.9 .1h.8m-.7 0h.8m4 0h.8m-.7 0h.8m-12.4 .1h.8m5.2 0h.8m1.4 .1h.8m-.6 0h.8m-.4 0h.8m3.3 0h.8m-9.5 .1h.8m1.8 0h.8m2.3 0h.8m-.1 0h.8m-6.9 .1h.8m2.6 0h.8m2 0h.8m-.6 .1h.8m-12.4 .1h.8m10.9 0h.8m-8.3 .1h.8m2.3 0h.8m-3.7 .1h.8m4.3 0h.8m-.3 0h.8m-.6 0h.8m1.1 0h.8m1.1 0h.8m-5.6 .1h.8m-.4 0h.8m2.1 0h.8m1.3 0h.8m-12.1 .1h.8m4.8 0h.8m-3 .1h.8m2.5 0h.8m0 0h.8m-4.3 .1h.8m2.6 0h.8m.9 .1h.8m-6.1 .1h.8m8.4 0h.8m-.9 .1h.8m-12 .1h.8m7.1 0h.8m-5.8 .1h.8m4.4 0h.8m-5.4 .1h.8m0 0h.8m-.1 0h.8m3.5 0h.8m5.2 0h.8m-17 .1h.8m-.4 0h.8m3.7 0h.8m-.5 .1h.8m-.5 0h.8m-4.5 .1h.8m2.3 0h.8m-6.2 .1h.8m.4 0h.8m.1 0h.8m2.8 0h.8m-1.1 .1h.8m-4.4 .1h.8m3.9 0h.8m6.9 0h.8m-16 .1h.8m5.9 0h.8m-.8 0h.8m.1 0h.8m-.6 0h.8m.3 0h.8m-.4 0h.8m-.5 0h.8m4.6 0h.8m-11.6 .1h.8m0 0h.8m-1.1 .1h.8m.8 0h.8m2.6 0h.8m-1.7 .1h.8m.6 0h.8m-3.9 .1h.8m-6.1 .1h.8m-.7 0h.8m2.9 0h.8m1.9 0h.8m-7.8 .1h.8m.5 0h.8m1.4 0h.8m-2 .1h.8m-.1 0h.8m2.1 0h.8m-11.7 .1h.8m6.1 0h.8m-.5 0h.8m1.9 0h.8m4.7 0h.8m-8.8 .2h.8m4.3 0h.8m-8.7 .1h.8m2 0h.8m2.5 0h.8m-.8 0h.8m.5 .1h.8m.5 0h.8m-6.6 .1h.8m-.1 .2h.8m-.5 0h.8m.5 0h.8m3 0h.8m-6.8 .2h.8m2.1 0h.8m2.1 0h.8m-8.1 .1h.8m2.2 0h.8m2.2 0h.8m-1 .1h.8m-7.3 .1h.8m.8 0h.8m1.4 0h.8m-1.4 .1h.8m-.4 0h.8m.8 0h.8m-.5 0h.8m1.6 0h.8m-7.7 .1h.8m-4.7 .1h.8m1.2 0h.8m-.3 0h.8m3.2 0h.8m-2.6 .1h.8m0 0h.8m.1 0h.8m2.6 0h.8m-.1 0h.8m-8.4 .1h.8m1.5 0h.8m0 0h.8m4.2 0h.8m-5.1 .1h.8m3.2 0h.8m-6.5 .1h.8m2.9 0h.8m.7 0h.8m.5 0h.8m-5.8 .1h.8m2 0h.8m-8.2 .1h.8m5.4 0h.8m.5 0h.8m-7.1 .1h.8m.3 0h.8m-.3 0h.8m-.4 0h.8m-3.5 .1h.8m1.6 0h.8m3.6 0h.8m-10.4 .1h.8m10.4 0h.8m-9 .1h.8m3.8 0h.8m13.1 0h.8m-18.5 .1h.8m3.1 0h.8m-3.4 .1h.8m7.2 0h.8m-5 .1h.8m-8.4 .1h.8m.9 0h.8m-.7 0h.8m1.7 0h.8m1.1 0h.8m-5.1 .1h.8m1.9 0h.8m.4 0h.8m-.8 0h.8m.1 0h.8m.5 0h.8m3.4 .1h.8m-11.8 .1h.8m.2 0h.8m3.6 0h.8m-.6 0h.8m-.6 0h.8m1 0h.8m-9.7 .1h.8m3.5 0h.8m.3 0h.8m.3 0h.8m-5.2 .1h.8m5.8 0h.8m-7.3 .1h.8m.6 0h.8m2.9 .1h.8m-8.2 .2h.8m4.1 .1h.8m.9 0h.8m2.4 0h.8m-6.2 .1h.8m-4 .1h.8m1.4 0h.8m4.9 .1h.8m1 0h.8m-9.4 .1h.8m1.1 0h.8m3 0h.8m-9.5 .1h.8m4.9 0h.8m7 .1h.8m-11 .1h.8m.2 0h.8m6.4 0h.8m-11.4 .1h.8m2.4 0h.8m.5 0h.8m1.5 0h.8m-.3 0h.8m-.4 0h.8m-6.8 .1h.8m4.7 0h.8m2.3 0h.8m-3.1 .1h.8m-6 .1h.8m2.1 0h.8m1.5 0h.8m-.6 0h.8m-2.7 .1h.8m.4 .1h.8m6.1 0h.8m-9.3 .1h.8m-8.7 .2h.8m8.8 0h.8m-5.1 .1h.8m-.4 0h.8m2.5 0h.8m-5.4 .1h.8m3.3 0h.8m3.6 .1h.8m-3.9 .1h.8m1.7 0h.8m-15.6 .1h.8m5.2 0h.8m1.8 0h.8m1.4 0h.8m-4.8 .1h.8m1.4 0h.8m-1.6 .1h.8m-2.8 .1h.8m5 0h.8m-6.7 .1h.8m4.8 .1h.8m-5.1 .1h.8m-.7 .2h.8m-.5 0h.8m.4 0h.8m2.4 0h.8m.3 0h.8m-.5 0h.8m-3.4 .2h.8m-6 .1h.8m7.1 .1h.8m-6.9 .1h.8m6.5 .1h.8m-4 .2h.8m.7 .2h.8m-5.1 .1h.8m3.7 .1h.8m.1 0h.8m-2 .3h.8m-.6 0h.8m-4.2 .1h.8m3.4 .1h.8m-4.6 .1h.8m-6.1 .1h.8m1.1 0h.8m1.3 .2h.8m-1.1 .1h.8m3 0h.8m-4.4 .2h.8m3.5 0h.8m-4.7 .2h.8m-4.3 .2h.8m4.1 0h.8m-7.1 .1h.8m1.8 .2h.8m.6 0h.8m.5 .4h.8m-.2 .4h.8m2.8 0h.8m-3.7 .5h.8m-5.6 .5h.8m2.8 0h.8m-2.3 .4h.8m-4.4 .2h.8m4.7 .5h.8m-7.5 .1h.8m4.4 .2h.8m-2.6 .6h.8m2.7 .5h.8m-6.5 .2h.8m9.9 .9h.8m-15.1 .1h.8m13.5 .2h.8m-10.9 1.2h.8m-1.3 3.6h.8" stroke="#000" stroke-width="0.8" stroke-opacity="0.45" fill="none" filter="url(#sb)"/>
<path d="M450.8 253.7h.8m-4.1 .9h.8m-2.8 2.3h.8m11.1 .6h.8m-10.8 .3h.8m-12.4 .2h.8m6 .2h.8m9.3 0h.8m1.6 0h.8m-4.6 .5h.8m7 .1h.8m-7.9 .2h.8m-4.3 .3h.8m-.6 .1h.8m15.6 .1h.8m-10.8 .4h.8m-16.4 .2h.8m7.7 0h.8m1.5 .2h.8m0 .2h.8m-.4 0h.8m-3.3 .4h.8m-2.3 .2h.8m-6.7 .4h.8m-.6 .1h.8m21.1 0h.8m-15.2 .1h.8m-6.3 .3h.8m7.8 0h.8m-7.5 .1h.8m.1 0h.8m0 .1h.8m-2.1 .3h.8m12.1 0h.8m-21.5 .1h.8m11.8 0h.8m11.2 0h.8m-20.3 .2h.8m2.7 0h.8m6.4 0h.8m-14.4 .1h.8m13.1 0h.8m-8 .2h.8m.5 0h.8m.2 0h.8m.9 0h.8m.8 .1h.8m1.1 .1h.8m-7 .1h.8m11.2 0h.8m-11.8 .2h.8m2.6 0h.8m-5.5 .2h.8m-4.1 .1h.8m1.1 0h.8m2.9 .4h.8m-8.8 .1h.8m9.9 0h.8m-6.5 .1h.8m-7.9 .1h.8m7 0h.8m8.2 0h.8m-11.5 .4h.8m7.2 .1h.8m-5.9 .1h.8m6 0h.8m-3.6 .1h.8m-4.3 .1h.8m-.2 0h.8m-3.6 .1h.8m11.3 .1h.8m.5 0h.8m-20.6 .1h.8m4.8 0h.8m12 0h.8m-12.6 .1h.8m-2.3 .1h.8m5.4 0h.8m-12.3 .1h.8m3.1 0h.8m3 0h.8m-.3 0h.8m-.4 0h.8m-.3 0h.8m.2 0h.8m1.7 0h.8m-8.4 .1h.8m1.8 0h.8m-1 .1h.8m2.5 0h.8m-4 .1h.8m.1 0h.8m-.6 .1h.8m12.8 .1h.8m-15.5 .1h.8m-6.2 .1h.8m5.9 0h.8m-1.6 .1h.8m3.6 0h.8m-3.3 .1h.8m-4.9 .1h.8m1.8 0h.8m-4.2 .1h.8m.7 0h.8m-.8 0h.8m2.1 .1h.8m-.5 0h.8m6.2 0h.8m-17.3 .1h.8m.9 .1h.8m5 0h.8m-.4 0h.8m-6.1 .1h.8m-4.5 .1h.8m7 .2h.8m-.3 0h.8m9.1 0h.8m-15.4 .1h.8m.7 0h.8m5.2 0h.8m-6.1 .1h.8m1.7 0h.8m-5.2 .1h.8m-.7 0h.8m-.2 0h.8m-.1 0h.8m-.8 0h.8m.4 0h.8m1.4 0h.8m2 0h.8m-.7 0h.8m.1 0h.8m2.2 0h.8m-16.5 .1h.8m2.9 0h.8m9.4 0h.8m-8.1 .1h.8m13.8 0h.8m-19.5 .1h.8m6.1 0h.8m-.3 0h.8m-.7 0h.8m2.9 0h.8m-9.7 .1h.8m3.6 0h.8m4 0h.8m-9.5 .1h.8m.1 0h.8m6.1 0h.8m-.7 0h.8m-12.1 .1h.8m2.1 0h.8m10.2 .1h.8m5.9 0h.8m-18.8 .1h.8m8.6 0h.8m-8.6 .1h.8m1 0h.8m3.4 0h.8m.1 0h.8m1.6 0h.8m-11.7 .2h.8m-.5 0h.8m.6 0h.8m3.6 0h.8m-6 .1h.8m2 0h.8m1.8 0h.8m-4.6 .1h.8m1.2 .1h.8m1.8 0h.8m-6.6 .1h.8m-4.5 .1h.8m1.2 0h.8m3 0h.8m7.7 0h.8m-14.4 .1h.8m3.9 0h.8m7.9 0h.8m-12.5 .1h.8m1.2 .1h.8m.5 0h.8m.3 0h.8m-.4 0h.8m-9.6 .1h.8m.7 0h.8m-.4 0h.8m17.7 0h.8m-8.5 .1h.8m-9.7 .1h.8m1.4 0h.8m.2 0h.8m2.8 0h.8m.7 0h.8m.9 0h.8m.6 0h.8m.1 0h.8m-6.5 .1h.8m-.2 0h.8m-7 .1h.8m-.2 0h.8m3.9 0h.8m6.5 0h.8m-14.2 .1h.8m9.2 0h.8m-6.4 .1h.8m5.5 0h.8m-13.3 .1h.8m.7 0h.8m.6 0h.8m.8 0h.8m-10.2 .1h.8m12.3 0h.8m.5 0h.8m-6.8 .1h.8m-.1 0h.8m4.1 0h.8m-.7 0h.8m-.4 0h.8m-4.4 .1h.8m2.5 0h.8m1.1 0h.8m-7.9 .1h.8m-.1 0h.8m-7.6 .1h.8m3.1 0h.8m.6 0h.8m-.9 .1h.8m2 0h.8m.8 0h.8m-1.7 .1h.8m-.1 0h.8m-2.2 .1h.8m-.8 0h.8m.4 0h.8m-5.7 .1h.8m7.9 0h.8m-8.2 .1h.8m-.1 0h.8m.4 0h.8m.9 0h.8m-.7 0h.8m-.5 0h.8m-8.4 .1h.8m.6 0h.8m6.5 0h.8m-1.4 .1h.8m11.4 0h.8m-10.2 .2h.8m-10.4 .1h.8m2.7 0h.8m1.3 0h.8m3.2 0h.8m-10.8 .1h.8m5.6 0h.8m-.1 0h.8m3.9 0h.8m-15 .1h.8m.8 0h.8m3.1 0h.8m.8 0h.8m5.8 0h.8m-7.8 .1h.8m-.3 0h.8m2 0h.8m.7 0h.8m-.6 0h.8m3.2 0h.8m-9.2 .1h.8m2.1 0h.8m-7 .1h.8m-2.9 .1h.8m3.7 0h.8m.8 0h.8m-2.6 .1h.8m-.7 0h.8m3.3 0h.8m-.3 0h.8m5.7 0h.8m-10.9 .1h.8m-.8 0h.8m.4 0h.8m-3.1 .1h.8m1.3 0h.8m-3.7 .1h.8m-.8 0h.8m.8 0h.8m-2.2 .1h.8m-5.4 .1h.8m4 0h.8m.3 0h.8m.7 0h.8m3.9 .1h.8m-14.8 .1h.8m5.5 0h.8m-.3 0h.8m-2.2 .1h.8m1 0h.8m.5 .1h.8m3.7 0h.8m-3.8 .1h.8m-7.7 .2h.8m10.6 0h.8m-9.6 .1h.8m-.5 0h.8m1.7 0h.8m2.5 0h.8m-5.3 .2h.8m3.1 .1h.8m-8.1 .1h.8m1.3 0h.8m-.6 0h.8m-.8 0h.8m.4 .1h.8m1.9 0h.8m-9.9 .1h.8m-.4 0h.8m1.4 0h.8m2.4 0h.8m4.2 0h.8m-7.5 .1h.8m0 0h.8m.4 0h.8m.3 .3h.8m4.4 0h.8m-.6 0h.8m-9.2 .1h.8m0 0h.8m.1 0h.8m2.2 0h.8m-8 .2h.8m-.2 0h.8m-.2 0h.8m2.6 0h.8m-.2 0h.8m1.1 0h.8m-4.9 .1h.8m.5 0h.8m-1.4 .1h.8m-.4 .1h.8m.7 0h.8m1 0h.8m.1 0h.8m-4.8 .1h.8m3.1 0h.8m-6.5 .1h.8m3.9 0h.8m-5.8 .1h.8m.5 0h.8m2.5 0h.8m-7.3 .1h.8m1.5 0h.8m.1 0h.8m.1 0h.8m.9 0h.8m-2.8 .1h.8m-.3 0h.8m.7 0h.8m2.5 .1h.8m-11.2 .1h.8m4.5 0h.8m-5.3 .1h.8m-1.1 .1h.8m1.9 0h.8m2.4 0h.8m-4.6 .1h.8m.7 0h.8m.2 0h.8m4.3 0h.8m-10.5 .1h.8m1.6 0h.8m.2 0h.8m-5.8 .1h.8m2.5 0h.8m6.7 0h.8m-10.6 .1h.8m3.3 0h.8m-.4 0h.8m.6 0h.8m.7 0h.8m-.5 0h.8m-.5 0h.8m2 0h.8m-11.7 .1h.8m3.1 0h.8m1.6 0h.8m-.7 0h.8m-5 .1h.8m-.2 0h.8m2.2 0h.8m-5.9 .1h.8m4.4 0h.8m-.6 0h.8m2.9 0h.8m-9.9 .1h.8m1.6 0h.8m-.6 0h.8m2.2 0h.8m-.9 .1h.8m.3 0h.8m.1 0h.8m1.7 0h.8m-9.5 .1h.8m2.2 0h.8m3 0h.8m-6.3 .1h.8m-.2 0h.8m.7 0h.8m3.5 0h.8m2.9 0h.8m-11.5 .1h.8m3 0h.8m.7 0h.8m-.6 0h.8m1.2 0h.8m-9.3 .1h.8m3.3 0h.8m-3.6 .1h.8m-.8 .1h.8m.9 0h.8m-7.6 .1h.8m4.5 0h.8m1.3 0h.8m-.4 0h.8m-.2 0h.8m2.3 0h.8m2.8 0h.8m-9.1 .2h.8m.2 0h.8m1 0h.8m1.3 0h.8m-5.5 .2h.8m5.1 0h.8m-15.1 .1h.8m7.3 0h.8m-.8 0h.8m.3 0h.8m-.7 0h.8m1.5 0h.8m-.7 0h.8m3 0h.8m-9.1 .1h.8m1.8 0h.8m-.7 0h.8m-9.7 .1h.8m2.2 0h.8m2 0h.8m2 0h.8m3 0h.8m-8.3 .1h.8m1.9 0h.8m1.9 0h.8m-8.2 .1h.8m.5 0h.8m0 0h.8m-.4 0h.8m4 0h.8m-2.5 .1h.8m-.1 0h.8m-.3 0h.8m1 0h.8m-7.6 .1h.8m1.1 0h.8m-.4 0h.8m0 0h.8m-6.7 .1h.8m-.1 0h.8m-.3 0h.8m1.6 .1h.8m.9 0h.8m-7.9 .1h.8m3.3 0h.8m7.4 .1h.8m-.5 0h.8m-8.6 .1h.8m-1.3 .1h.8m.1 0h.8m1.9 0h.8m1.9 0h.8m-4 .2h.8m2.7 0h.8m-8.8 .1h.8m5.2 0h.8m2.4 .1h.8m-5.7 .1h.8m1.3 0h.8m.9 0h.8m-3.9 .1h.8m2.2 0h.8m-11.7 .1h.8m5.9 0h.8m10.2 0h.8m-13.5 .1h.8m3.4 0h.8m-2.5 .1h.8m-3.5 .1h.8m2.5 0h.8m-.3 0h.8m-7.5 .1h.8m1 0h.8m3.2 .1h.8m-9.3 .1h.8m9.4 0h.8m-6.6 .2h.8m2.4 0h.8m.3 0h.8m1.4 0h.8m-3.9 .2h.8m-.3 0h.8m1.8 0h.8m-.4 .2h.8m0 0h.8m2.8 0h.8m-11.2 .1h.8m7.1 0h.8m-7.1 .1h.8m2 0h.8m.9 0h.8m-6.8 .1h.8m6.9 .1h.8m-10.1 .1h.8m2.9 0h.8m.5 .1h.8m2.3 0h.8m-5.1 .1h.8m-1.5 .1h.8m-2.4 .1h.8m6.1 .1h.8m-7.7 .2h.8m7.9 0h.8m-8.9 .1h.8m5.5 0h.8m-9.1 .1h.8m2.9 .1h.8m3.3 0h.8m-7 .1h.8m.6 0h.8m1.5 .3h.8m-4.1 .1h.8m5.8 0h.8m-6.5 .1h.8m-.2 0h.8m.3 0h.8m.2 0h.8m1.7 0h.8m-4.6 .1h.8m0 .1h.8m-8.1 .4h.8m3.3 0h.8m1.1 0h.8m-3.8 .2h.8m6.2 0h.8m-10.6 .1h.8m-5 .4h.8m11.1 .1h.8m-1.9 .4h.8m-2.2 .1h.8m-.3 .1h.8m1.1 0h.8m.4 .1h.8m-.7 .2h.8m-10.9 .1h.8m3.7 0h.8m5.1 .2h.8m-10.8 .3h.8m13.4 .1h.8m-7.1 .1h.8m-2.8 .1h.8m3.8 .3h.8m-7.5 .7h.8m-.6 0h.8m-1 .3h.8m2.2 0h.8m4.2 .2h.8m-4.7 .3h.8m-.8 0h.8m-1.2 .3h.8m-4.8 .1h.8m2.3 0h.8m-3.5 .3h.8m2.5 1.5h.8m.1 .2h.8m-4.6 .8h.8" stroke="#000" stroke-width="0.8" stroke-opacity="0.45" fill="none" filter="url(#sb)"/>
<path d="M389.4 232.5H513V355.8" stroke="#7a7a7a" stroke-width="1" fill="none"/>
<path d="M398.7 354.8v2M388.4 346.52h2M404.14 354.8v2M388.4 341.09h2M408 354.8v2M388.4 337.24h2M411 354.8v2M388.4 334.25h2M413.44 354.8v2M388.4 331.81h2M415.51 354.8v2M388.4 329.75h2M417.31 354.8v2M388.4 327.96h2M418.89 354.8v2M388.4 326.39h2M429.6 354.8v2M388.4 315.7h2M435.04 354.8v2M388.4 310.27h2M438.9 354.8v2M388.4 306.42h2M441.9 354.8v2M388.4 303.43h2M444.34 354.8v2M388.4 300.99h2M446.41 354.8v2M388.4 298.92h2M448.21 354.8v2M388.4 297.14h2M449.79 354.8v2M388.4 295.56h2M460.5 354.8v2M388.4 284.87h2M465.94 354.8v2M388.4 279.44h2M469.8 354.8v2M388.4 275.59h2M472.8 354.8v2M388.4 272.6h2M475.24 354.8v2M388.4 270.16h2M477.31 354.8v2M388.4 268.1h2M479.11 354.8v2M388.4 266.31h2M480.69 354.8v2M388.4 264.74h2M491.4 354.8v2M388.4 254.05h2M496.84 354.8v2M388.4 248.62h2M500.7 354.8v2M388.4 244.77h2M503.7 354.8v2M388.4 241.78h2M506.14 354.8v2M388.4 239.34h2M508.21 354.8v2M388.4 237.27h2M510.01 354.8v2M388.4 235.49h2M511.59 354.8v2M388.4 233.91h2M420.3 355.8v3M389.4 324.98h-3M451.2 355.8v3M389.4 294.15h-3M482.1 355.8v3M389.4 263.32h-3M513 355.8v3M389.4 232.5h-3" stroke="#555" stroke-width="0.8" fill="none"/>
<path d="M389.4 232.5V355.8H513" stroke="#3a3a3a" stroke-width="1" fill="none"/>
<line x1="419.6" y1="232.5" x2="419.6" y2="355.8" stroke="#333" stroke-width="1"/>
<line x1="389.4" y1="325.2" x2="513" y2="325.2" stroke="#333" stroke-width="1"/>
<text x="420.6" y="365.2" font-size="6" fill="#555" text-anchor="middle">10<tspan font-size="4" dy="-2.4">0</tspan></text>
<text x="386" y="327.18" font-size="6" fill="#555" text-anchor="end">10<tspan font-size="4" dy="-2.4">0</tspan></text>
<text x="451.5" y="365.2" font-size="6" fill="#555" text-anchor="middle">10<tspan font-size="4" dy="-2.4">1</tspan></text>
<text x="386" y="296.35" font-size="6" fill="#555" text-anchor="end">10<tspan font-size="4" dy="-2.4">1</tspan></text>
<text x="482.4" y="365.2" font-size="6" fill="#555" text-anchor="middle">10<tspan font-size="4" dy="-2.4">2</tspan></text>
<text x="386" y="265.52" font-size="6" fill="#555" text-anchor="end">10<tspan font-size="4" dy="-2.4">2</tspan></text>
<text x="513.3" y="365.2" font-size="6" fill="#555" text-anchor="middle">10<tspan font-size="4" dy="-2.4">3</tspan></text>
<text x="386" y="234.7" font-size="6" fill="#555" text-anchor="end">10<tspan font-size="4" dy="-2.4">3</tspan></text>
<text x="482.4" y="244" font-size="9.2" fill="#333" textLength="25.1" lengthAdjust="spacingAndGlyphs">100 %</text>
<text transform="translate(374.6 295.3) rotate(-90)" x="0" y="0" font-size="10.8" fill="#222" text-anchor="middle">PSGL-1</text>
<text x="451.3" y="378" font-size="10.8" fill="#222" text-anchor="middle">CD25</text>
<text x="3" y="395" font-size="13" fill="#111" font-weight="bold">E</text>
<rect x="39.8" y="397.2" width="13.6" height="6.3" fill="#626262" stroke="#1a1a1a" stroke-width="1.2"/>
<rect x="39.8" y="407.5" width="13.6" height="6.3" fill="#a3a3a3" stroke="#1a1a1a" stroke-width="1.2"/>
<rect x="39.8" y="417.8" width="13.6" height="6.3" fill="#ffffff" stroke="#1a1a1a" stroke-width="1.2"/>
<text x="58.8" y="403.3" font-size="9.1" fill="#111" font-weight="bold" textLength="131.6" lengthAdjust="spacingAndGlyphs">Treg+PMPs+anti-P-selectin Ab</text>
<text x="58.8" y="413.4" font-size="9.1" fill="#111" font-weight="bold" textLength="101" lengthAdjust="spacingAndGlyphs">Treg+PMPs+isotype Ab</text>
<text x="58.8" y="423.4" font-size="9.1" fill="#111" font-weight="bold" textLength="54.5" lengthAdjust="spacingAndGlyphs">Treg+PMPs</text>
<line x1="32.5" y1="416.8" x2="32.5" y2="549.8" stroke="#1a1a1a" stroke-width="1.2"/>
<line x1="32.2" y1="549.5" x2="164.2" y2="549.5" stroke="#1a1a1a" stroke-width="1.2"/>
<line x1="29.4" y1="549.5" x2="32.8" y2="549.5" stroke="#1a1a1a" stroke-width="1.2"/>
<text x="28.6" y="552.2" font-size="9.8" fill="#111" text-anchor="end" font-weight="bold">0</text>
<line x1="29.4" y1="522.5" x2="32.8" y2="522.5" stroke="#1a1a1a" stroke-width="1.2"/>
<text x="28.6" y="525.84" font-size="9.8" fill="#111" text-anchor="end" font-weight="bold">2</text>
<line x1="29.4" y1="496.5" x2="32.8" y2="496.5" stroke="#1a1a1a" stroke-width="1.2"/>
<text x="28.6" y="499.48" font-size="9.8" fill="#111" text-anchor="end" font-weight="bold">4</text>
<line x1="29.4" y1="470.5" x2="32.8" y2="470.5" stroke="#1a1a1a" stroke-width="1.2"/>
<text x="28.6" y="473.12" font-size="9.8" fill="#111" text-anchor="end" font-weight="bold">6</text>
<line x1="29.4" y1="443.5" x2="32.8" y2="443.5" stroke="#1a1a1a" stroke-width="1.2"/>
<text x="28.6" y="446.76" font-size="9.8" fill="#111" text-anchor="end" font-weight="bold">8</text>
<line x1="29.4" y1="417.5" x2="32.8" y2="417.5" stroke="#1a1a1a" stroke-width="1.2"/>
<text x="28.6" y="420.4" font-size="9.8" fill="#111" text-anchor="end" font-weight="bold">10</text>
<line x1="55.5" y1="549.2" x2="55.5" y2="552.2" stroke="#1a1a1a" stroke-width="1.2"/>
<text x="55.5" y="563" font-size="9.8" fill="#111" text-anchor="middle" font-weight="bold">0.06</text>
<line x1="98.5" y1="549.2" x2="98.5" y2="552.2" stroke="#1a1a1a" stroke-width="1.2"/>
<text x="98.9" y="563" font-size="9.8" fill="#111" text-anchor="middle" font-weight="bold">0.3</text>
<line x1="142.5" y1="549.2" x2="142.5" y2="552.2" stroke="#1a1a1a" stroke-width="1.2"/>
<text x="142.4" y="563" font-size="9.8" fill="#111" text-anchor="middle" font-weight="bold">1.5</text>
<text transform="translate(11.6 487.9) rotate(-90)" x="0" y="0" font-size="10.8" fill="#111" text-anchor="middle" font-weight="bold">CD41<tspan font-size="7.5" dy="-4.6">+</tspan><tspan dy="4.6"> (%)</tspan></text>
<line x1="43.5" y1="528.5" x2="43.5" y2="516.5" stroke="#1a1a1a" stroke-width="1.2"/>
<line x1="41.2" y1="516.5" x2="45.8" y2="516.5" stroke="#1a1a1a" stroke-width="1.2"/>
<rect x="39.5" y="528.5" width="8" height="20.7" fill="#ffffff" stroke="#1a1a1a" stroke-width="1.2"/>
<line x1="55.5" y1="528.5" x2="55.5" y2="525.5" stroke="#1a1a1a" stroke-width="1.2"/>
<line x1="53.2" y1="525.5" x2="57.8" y2="525.5" stroke="#1a1a1a" stroke-width="1.2"/>
<rect x="51.5" y="528.5" width="8" height="20.7" fill="#a3a3a3" stroke="#1a1a1a" stroke-width="1.2"/>
<rect x="63.5" y="548.5" width="8" height="0.7" fill="#626262" stroke="#1a1a1a" stroke-width="1.2"/>
<line x1="87.5" y1="486.5" x2="87.5" y2="483.5" stroke="#1a1a1a" stroke-width="1.2"/>
<line x1="84.7" y1="483.5" x2="89.3" y2="483.5" stroke="#1a1a1a" stroke-width="1.2"/>
<rect x="82.5" y="486.5" width="9" height="62.7" fill="#ffffff" stroke="#1a1a1a" stroke-width="1.2"/>
<line x1="98.5" y1="486.5" x2="98.5" y2="480.5" stroke="#1a1a1a" stroke-width="1.2"/>
<line x1="96.2" y1="480.5" x2="100.8" y2="480.5" stroke="#1a1a1a" stroke-width="1.2"/>
<rect x="94.5" y="486.5" width="8" height="62.7" fill="#a3a3a3" stroke="#1a1a1a" stroke-width="1.2"/>
<rect x="106.5" y="547.5" width="8" height="1.7" fill="#626262" stroke="#1a1a1a" stroke-width="1.2"/>
<line x1="130.5" y1="455.5" x2="130.5" y2="439.5" stroke="#1a1a1a" stroke-width="1.2"/>
<line x1="128.2" y1="439.5" x2="132.8" y2="439.5" stroke="#1a1a1a" stroke-width="1.2"/>
<rect x="126.5" y="455.5" width="8" height="93.7" fill="#ffffff" stroke="#1a1a1a" stroke-width="1.2"/>
<line x1="142.5" y1="464.5" x2="142.5" y2="455.5" stroke="#1a1a1a" stroke-width="1.2"/>
<line x1="140.2" y1="455.5" x2="144.8" y2="455.5" stroke="#1a1a1a" stroke-width="1.2"/>
<rect x="138.5" y="464.5" width="8" height="84.7" fill="#a3a3a3" stroke="#1a1a1a" stroke-width="1.2"/>
<line x1="154.5" y1="543.5" x2="154.5" y2="542.5" stroke="#1a1a1a" stroke-width="1.2"/>
<line x1="152.2" y1="542.5" x2="156.8" y2="542.5" stroke="#1a1a1a" stroke-width="1.2"/>
<rect x="150.5" y="543.5" width="8" height="5.7" fill="#626262" stroke="#1a1a1a" stroke-width="1.2"/>
<path d="M42.5 511.3V507.5H67.5V511.3" stroke="#1a1a1a" stroke-width="1.2" fill="none"/>
<path d="M54.5 521.3V517.5H67.5V521.3" stroke="#1a1a1a" stroke-width="1.2" fill="none"/>
<text x="54.9" y="508.72" font-size="12" font-weight="bold" fill="#111" text-anchor="middle" style="stroke:none">*</text>
<text x="60.65" y="519.22" font-size="12" font-weight="bold" fill="#111" text-anchor="middle" style="stroke:none">*</text>
<path d="M86.5 467.3V463.5H111.5V467.3" stroke="#1a1a1a" stroke-width="1.2" fill="none"/>
<path d="M98.5 476.3V472.5H111.5V476.3" stroke="#1a1a1a" stroke-width="1.2" fill="none"/>
<text x="98.85" y="464.02" font-size="12" font-weight="bold" fill="#111" text-anchor="middle" style="stroke:none">*</text>
<text x="104.75" y="474.52" font-size="12" font-weight="bold" fill="#111" text-anchor="middle" style="stroke:none">*</text>
<path d="M130.5 436.3V432.5H154.5V436.3" stroke="#1a1a1a" stroke-width="1.2" fill="none"/>
<path d="M141.5 451.3V447.5H154.5V451.3" stroke="#1a1a1a" stroke-width="1.2" fill="none"/>
<text x="142.25" y="433.42" font-size="12" font-weight="bold" fill="#111" text-anchor="middle" style="stroke:none">*</text>
<text x="148.15" y="448.62" font-size="12" font-weight="bold" fill="#111" text-anchor="middle" style="stroke:none">*</text>
<line x1="210.5" y1="416.8" x2="210.5" y2="549.8" stroke="#1a1a1a" stroke-width="1.2"/>
<line x1="209.7" y1="549.5" x2="342.4" y2="549.5" stroke="#1a1a1a" stroke-width="1.2"/>
<line x1="206.8" y1="549.5" x2="210.3" y2="549.5" stroke="#1a1a1a" stroke-width="1.2"/>
<text x="206" y="552.2" font-size="9.8" fill="#111" text-anchor="end" font-weight="bold">0</text>
<line x1="206.8" y1="522.5" x2="210.3" y2="522.5" stroke="#1a1a1a" stroke-width="1.2"/>
<text x="206" y="525.88" font-size="9.8" fill="#111" text-anchor="end" font-weight="bold">5</text>
<line x1="206.8" y1="496.5" x2="210.3" y2="496.5" stroke="#1a1a1a" stroke-width="1.2"/>
<text x="206" y="499.56" font-size="9.8" fill="#111" text-anchor="end" font-weight="bold">10</text>
<line x1="206.8" y1="470.5" x2="210.3" y2="470.5" stroke="#1a1a1a" stroke-width="1.2"/>
<text x="206" y="473.24" font-size="9.8" fill="#111" text-anchor="end" font-weight="bold">15</text>
<line x1="206.8" y1="443.5" x2="210.3" y2="443.5" stroke="#1a1a1a" stroke-width="1.2"/>
<text x="206" y="446.92" font-size="9.8" fill="#111" text-anchor="end" font-weight="bold">20</text>
<line x1="206.8" y1="417.5" x2="210.3" y2="417.5" stroke="#1a1a1a" stroke-width="1.2"/>
<text x="206" y="420.6" font-size="9.8" fill="#111" text-anchor="end" font-weight="bold">25</text>
<line x1="231.5" y1="549.2" x2="231.5" y2="552.2" stroke="#1a1a1a" stroke-width="1.2"/>
<text x="231.6" y="562.5" font-size="9.8" fill="#111" text-anchor="middle" font-weight="bold">0.06</text>
<line x1="275.5" y1="549.2" x2="275.5" y2="552.2" stroke="#1a1a1a" stroke-width="1.2"/>
<text x="275.6" y="562.5" font-size="9.8" fill="#111" text-anchor="middle" font-weight="bold">0.3</text>
<line x1="319.5" y1="549.2" x2="319.5" y2="552.2" stroke="#1a1a1a" stroke-width="1.2"/>
<text x="319.4" y="562.5" font-size="9.8" fill="#111" text-anchor="middle" font-weight="bold">1.5</text>
<text x="275.8" y="578.2" font-size="10.6" font-weight="bold" fill="#111" text-anchor="middle">PMPs (×10<tspan font-size="7.5" dy="-4.6">6</tspan><tspan dy="4.6">)</tspan></text>
<text transform="translate(187.1 487.3) rotate(-90)" x="0" y="0" font-size="10.8" fill="#111" text-anchor="middle" font-weight="bold">IL-17<tspan font-size="7.5" dy="-4.6">+</tspan><tspan dy="4.6"> (%)</tspan></text>
<line x1="219.5" y1="460.5" x2="219.5" y2="446.5" stroke="#1a1a1a" stroke-width="1.2"/>
<line x1="217.2" y1="446.5" x2="221.8" y2="446.5" stroke="#1a1a1a" stroke-width="1.2"/>
<rect x="215.5" y="460.5" width="8" height="88.7" fill="#ffffff" stroke="#1a1a1a" stroke-width="1.2"/>
<line x1="231.5" y1="463.5" x2="231.5" y2="450.5" stroke="#1a1a1a" stroke-width="1.2"/>
<line x1="229.2" y1="450.5" x2="233.8" y2="450.5" stroke="#1a1a1a" stroke-width="1.2"/>
<rect x="227.5" y="463.5" width="8" height="85.7" fill="#a3a3a3" stroke="#1a1a1a" stroke-width="1.2"/>
<line x1="243.5" y1="461.5" x2="243.5" y2="449.5" stroke="#1a1a1a" stroke-width="1.2"/>
<line x1="241.2" y1="449.5" x2="245.8" y2="449.5" stroke="#1a1a1a" stroke-width="1.2"/>
<rect x="239.5" y="461.5" width="8" height="87.7" fill="#626262" stroke="#1a1a1a" stroke-width="1.2"/>
<line x1="263.5" y1="480.5" x2="263.5" y2="471.5" stroke="#1a1a1a" stroke-width="1.2"/>
<line x1="261.2" y1="471.5" x2="265.8" y2="471.5" stroke="#1a1a1a" stroke-width="1.2"/>
<rect x="259.5" y="480.5" width="8" height="68.7" fill="#ffffff" stroke="#1a1a1a" stroke-width="1.2"/>
<line x1="275.5" y1="478.5" x2="275.5" y2="473.5" stroke="#1a1a1a" stroke-width="1.2"/>
<line x1="273.2" y1="473.5" x2="277.8" y2="473.5" stroke="#1a1a1a" stroke-width="1.2"/>
<rect x="271.5" y="478.5" width="8" height="70.7" fill="#a3a3a3" stroke="#1a1a1a" stroke-width="1.2"/>
<line x1="287.5" y1="452.5" x2="287.5" y2="447.5" stroke="#1a1a1a" stroke-width="1.2"/>
<line x1="285.2" y1="447.5" x2="289.8" y2="447.5" stroke="#1a1a1a" stroke-width="1.2"/>
<rect x="283.5" y="452.5" width="8" height="96.7" fill="#626262" stroke="#1a1a1a" stroke-width="1.2"/>
<line x1="307.5" y1="518.5" x2="307.5" y2="510.5" stroke="#1a1a1a" stroke-width="1.2"/>
<line x1="305.2" y1="510.5" x2="309.8" y2="510.5" stroke="#1a1a1a" stroke-width="1.2"/>
<rect x="303.5" y="518.5" width="8" height="30.7" fill="#ffffff" stroke="#1a1a1a" stroke-width="1.2"/>
<line x1="319.5" y1="522.5" x2="319.5" y2="517.5" stroke="#1a1a1a" stroke-width="1.2"/>
<line x1="317.2" y1="517.5" x2="321.8" y2="517.5" stroke="#1a1a1a" stroke-width="1.2"/>
<rect x="315.5" y="522.5" width="8" height="26.7" fill="#a3a3a3" stroke="#1a1a1a" stroke-width="1.2"/>
<line x1="331.5" y1="484.5" x2="331.5" y2="472.5" stroke="#1a1a1a" stroke-width="1.2"/>
<line x1="329.2" y1="472.5" x2="333.8" y2="472.5" stroke="#1a1a1a" stroke-width="1.2"/>
<rect x="327.5" y="484.5" width="8" height="64.7" fill="#626262" stroke="#1a1a1a" stroke-width="1.2"/>
<path d="M263.5 412.3V408.5H287.5V412.3" stroke="#1a1a1a" stroke-width="1.2" fill="none"/>
<path d="M275.5 422.1V418.5H287.5V422.1" stroke="#1a1a1a" stroke-width="1.2" fill="none"/>
<text x="275.4" y="410.02" font-size="12" font-weight="bold" fill="#111" text-anchor="middle" style="stroke:none">*</text>
<text x="281.35" y="420.02" font-size="12" font-weight="bold" fill="#111" text-anchor="middle" style="stroke:none">*</text>
<path d="M307.5 412.3V408.5H331.5V412.3" stroke="#1a1a1a" stroke-width="1.2" fill="none"/>
<path d="M318.5 422.1V418.5H331.5V422.1" stroke="#1a1a1a" stroke-width="1.2" fill="none"/>
<text x="319.15" y="410.02" font-size="12" font-weight="bold" fill="#111" text-anchor="middle" style="stroke:none">*</text>
<text x="324.9" y="420.02" font-size="12" font-weight="bold" fill="#111" text-anchor="middle" style="stroke:none">*</text>
<line x1="387.5" y1="416.8" x2="387.5" y2="549.8" stroke="#1a1a1a" stroke-width="1.2"/>
<line x1="386.4" y1="549.5" x2="515" y2="549.5" stroke="#1a1a1a" stroke-width="1.2"/>
<line x1="383.5" y1="549.5" x2="387" y2="549.5" stroke="#1a1a1a" stroke-width="1.2"/>
<text x="382.6" y="552.2" font-size="9.8" fill="#111" text-anchor="end" font-weight="bold">0</text>
<line x1="383.5" y1="516.5" x2="387" y2="516.5" stroke="#1a1a1a" stroke-width="1.2"/>
<text x="382.6" y="519.25" font-size="9.8" fill="#111" text-anchor="end" font-weight="bold">20</text>
<line x1="383.5" y1="483.5" x2="387" y2="483.5" stroke="#1a1a1a" stroke-width="1.2"/>
<text x="382.6" y="486.3" font-size="9.8" fill="#111" text-anchor="end" font-weight="bold">40</text>
<line x1="383.5" y1="450.5" x2="387" y2="450.5" stroke="#1a1a1a" stroke-width="1.2"/>
<text x="382.6" y="453.35" font-size="9.8" fill="#111" text-anchor="end" font-weight="bold">60</text>
<line x1="383.5" y1="417.5" x2="387" y2="417.5" stroke="#1a1a1a" stroke-width="1.2"/>
<text x="382.6" y="420.4" font-size="9.8" fill="#111" text-anchor="end" font-weight="bold">80</text>
<line x1="408.5" y1="549.2" x2="408.5" y2="552.2" stroke="#1a1a1a" stroke-width="1.2"/>
<text x="408.6" y="563.3" font-size="9.8" fill="#111" text-anchor="middle" font-weight="bold">0.06</text>
<line x1="452.5" y1="549.2" x2="452.5" y2="552.2" stroke="#1a1a1a" stroke-width="1.2"/>
<text x="452.2" y="563.3" font-size="9.8" fill="#111" text-anchor="middle" font-weight="bold">0.3</text>
<line x1="495.5" y1="549.2" x2="495.5" y2="552.2" stroke="#1a1a1a" stroke-width="1.2"/>
<text x="495.6" y="563.3" font-size="9.8" fill="#111" text-anchor="middle" font-weight="bold">1.5</text>
<text transform="translate(364.6 488) rotate(-90)" x="0" y="0" font-size="10.8" fill="#111" text-anchor="middle" font-weight="bold">CD27<tspan font-size="7.5" dy="-4.6">+</tspan><tspan dy="4.6"> (%)</tspan></text>
<line x1="396.5" y1="462.5" x2="396.5" y2="461.5" stroke="#1a1a1a" stroke-width="1.2"/>
<line x1="394.2" y1="461.5" x2="398.8" y2="461.5" stroke="#1a1a1a" stroke-width="1.2"/>
<rect x="392.5" y="462.5" width="8" height="86.7" fill="#ffffff" stroke="#1a1a1a" stroke-width="1.2"/>
<line x1="408.5" y1="468.5" x2="408.5" y2="466.5" stroke="#1a1a1a" stroke-width="1.2"/>
<line x1="406.2" y1="466.5" x2="410.8" y2="466.5" stroke="#1a1a1a" stroke-width="1.2"/>
<rect x="404.5" y="468.5" width="8" height="80.7" fill="#a3a3a3" stroke="#1a1a1a" stroke-width="1.2"/>
<line x1="420.5" y1="475.5" x2="420.5" y2="470.5" stroke="#1a1a1a" stroke-width="1.2"/>
<line x1="418.2" y1="470.5" x2="422.8" y2="470.5" stroke="#1a1a1a" stroke-width="1.2"/>
<rect x="416.5" y="475.5" width="8" height="73.7" fill="#626262" stroke="#1a1a1a" stroke-width="1.2"/>
<line x1="440.5" y1="451.5" x2="440.5" y2="446.5" stroke="#1a1a1a" stroke-width="1.2"/>
<line x1="438.2" y1="446.5" x2="442.8" y2="446.5" stroke="#1a1a1a" stroke-width="1.2"/>
<rect x="436.5" y="451.5" width="8" height="97.7" fill="#ffffff" stroke="#1a1a1a" stroke-width="1.2"/>
<line x1="452.5" y1="452.5" x2="452.5" y2="444.5" stroke="#1a1a1a" stroke-width="1.2"/>
<line x1="450.2" y1="444.5" x2="454.8" y2="444.5" stroke="#1a1a1a" stroke-width="1.2"/>
<rect x="448.5" y="452.5" width="8" height="96.7" fill="#a3a3a3" stroke="#1a1a1a" stroke-width="1.2"/>
<line x1="464.5" y1="471.5" x2="464.5" y2="467.5" stroke="#1a1a1a" stroke-width="1.2"/>
<line x1="461.7" y1="467.5" x2="466.3" y2="467.5" stroke="#1a1a1a" stroke-width="1.2"/>
<rect x="459.5" y="471.5" width="9" height="77.7" fill="#626262" stroke="#1a1a1a" stroke-width="1.2"/>
<line x1="483.5" y1="434.5" x2="483.5" y2="430.5" stroke="#1a1a1a" stroke-width="1.2"/>
<line x1="481.2" y1="430.5" x2="485.8" y2="430.5" stroke="#1a1a1a" stroke-width="1.2"/>
<rect x="479.5" y="434.5" width="8" height="114.7" fill="#ffffff" stroke="#1a1a1a" stroke-width="1.2"/>
<line x1="495.5" y1="429.5" x2="495.5" y2="427.5" stroke="#1a1a1a" stroke-width="1.2"/>
<line x1="493.2" y1="427.5" x2="497.8" y2="427.5" stroke="#1a1a1a" stroke-width="1.2"/>
<rect x="491.5" y="429.5" width="8" height="119.7" fill="#a3a3a3" stroke="#1a1a1a" stroke-width="1.2"/>
<line x1="507.5" y1="460.5" x2="507.5" y2="454.5" stroke="#1a1a1a" stroke-width="1.2"/>
<line x1="505.2" y1="454.5" x2="509.8" y2="454.5" stroke="#1a1a1a" stroke-width="1.2"/>
<rect x="503.5" y="460.5" width="8" height="88.7" fill="#626262" stroke="#1a1a1a" stroke-width="1.2"/>
<path d="M396.5 412.3V408.5H421.5V412.3" stroke="#1a1a1a" stroke-width="1.2" fill="none"/>
<text x="408.7" y="410.22" font-size="12" font-weight="bold" fill="#111" text-anchor="middle" style="stroke:none">*</text>
<path d="M440.5 412.3V408.5H464.5V412.3" stroke="#1a1a1a" stroke-width="1.2" fill="none"/>
<path d="M451.5 422.1V418.5H464.5V422.1" stroke="#1a1a1a" stroke-width="1.2" fill="none"/>
<text x="452.15" y="410.22" font-size="12" font-weight="bold" fill="#111" text-anchor="middle" style="stroke:none">*</text>
<text x="457.95" y="420.22" font-size="12" font-weight="bold" fill="#111" text-anchor="middle" style="stroke:none">*</text>
<path d="M483.5 412.3V408.5H507.5V412.3" stroke="#1a1a1a" stroke-width="1.2" fill="none"/>
<path d="M495.5 422.1V418.5H507.5V422.1" stroke="#1a1a1a" stroke-width="1.2" fill="none"/>
<text x="495.4" y="410.22" font-size="12" font-weight="bold" fill="#111" text-anchor="middle" style="stroke:none">*</text>
<text x="501.45" y="420.22" font-size="12" font-weight="bold" fill="#111" text-anchor="middle" style="stroke:none">*</text>
<g clip-path="url(#cF)">
<rect x="1" y="599" width="124" height="124" fill="#7f7f7f"/>
<rect x="1" y="599" width="124" height="124" fill="#fff" opacity="0.05" filter="url(#nz2)"/>
<ellipse cx="60" cy="660" rx="9" ry="8" fill="#909090" opacity="0.6" filter="url(#bl2)"/>
<path d="M88 615.2C93.17 615.2 99.67 616.03 104 618C108.33 619.97 111.83 623.17 114 627C116.17 630.83 117 636.5 117 641C117 645.5 115.5 650.5 114 654C112.5 657.5 110.83 659.83 108 662C105.17 664.17 101 666.17 97 667C93 667.83 88.17 667.83 84 667C79.83 666.17 75.5 664.33 72 662C68.5 659.67 65.08 656.67 63 653C60.92 649.33 59.5 644.5 59.5 640C59.5 635.5 60.75 629.67 63 626C65.25 622.33 68.83 619.8 73 618C77.17 616.2 82.83 615.2 88 615.2Z" fill="none" stroke="#9c9c9c" stroke-width="3" filter="url(#bl1)"/>
<path d="M88 615.2C93.17 615.2 99.67 616.03 104 618C108.33 619.97 111.83 623.17 114 627C116.17 630.83 117 636.5 117 641C117 645.5 115.5 650.5 114 654C112.5 657.5 110.83 659.83 108 662C105.17 664.17 101 666.17 97 667C93 667.83 88.17 667.83 84 667C79.83 666.17 75.5 664.33 72 662C68.5 659.67 65.08 656.67 63 653C60.92 649.33 59.5 644.5 59.5 640C59.5 635.5 60.75 629.67 63 626C65.25 622.33 68.83 619.8 73 618C77.17 616.2 82.83 615.2 88 615.2Z" fill="#898989"/>
<g clip-path="url(#cellA)"><rect x="58" y="613" width="62" height="56" fill="#fff" opacity="0.2" filter="url(#nz)"/></g>
<path d="M88 615.2C93.17 615.2 99.67 616.03 104 618C108.33 619.97 111.83 623.17 114 627C116.17 630.83 117 636.5 117 641C117 645.5 115.5 650.5 114 654C112.5 657.5 110.83 659.83 108 662C105.17 664.17 101 666.17 97 667C93 667.83 88.17 667.83 84 667C79.83 666.17 75.5 664.33 72 662C68.5 659.67 65.08 656.67 63 653C60.92 649.33 59.5 644.5 59.5 640C59.5 635.5 60.75 629.67 63 626C65.25 622.33 68.83 619.8 73 618C77.17 616.2 82.83 615.2 88 615.2Z" fill="none" stroke="#565656" stroke-width="1.4" filter="url(#bl05)"/>
<circle cx="94.5" cy="622.5" r="1.8" fill="#cecece" filter="url(#bl05)"/>
<ellipse cx="33.7" cy="676.5" rx="26" ry="29.5" fill="none" stroke="#969696" stroke-width="2" filter="url(#bl1)"/>
<ellipse cx="33.7" cy="676.5" rx="23.5" ry="27" fill="#727272"/>
<ellipse cx="33.7" cy="676.5" rx="23.8" ry="27.3" fill="none" stroke="#555" stroke-width="2.6" filter="url(#bl1)"/>
<ellipse cx="34" cy="677" rx="18.5" ry="21.5" fill="#848484"/>
<g clip-path="url(#cellB)"><rect x="10" y="650" width="48" height="54" fill="#fff" opacity="0.2" filter="url(#nz)"/></g>
<path d="M30 656 Q17 660 15 676 Q15 692 27 698 Q36 701 44 696" fill="none" stroke="#dadada" stroke-width="4" filter="url(#bl1)"/>
<path d="M30 656 Q42 655 49 664" fill="none" stroke="#c5c5c5" stroke-width="3" filter="url(#bl1)"/>
<circle cx="28.03" cy="696.43" r="1.24" fill="#fafafa" filter="url(#bl05)"/>
<circle cx="26.89" cy="657.06" r="1.58" fill="#606060" filter="url(#bl05)"/>
<circle cx="27.54" cy="696.23" r="1.43" fill="#e6e6e6" filter="url(#bl05)"/>
<circle cx="15.77" cy="674.67" r="1.16" fill="#fafafa" filter="url(#bl05)"/>
<circle cx="23.32" cy="659.35" r="1.11" fill="#606060" filter="url(#bl05)"/>
<circle cx="16.1" cy="680.91" r="1.52" fill="#e6e6e6" filter="url(#bl05)"/>
<circle cx="15.75" cy="678.12" r="1.59" fill="#fafafa" filter="url(#bl05)"/>
<circle cx="23.48" cy="659.21" r="1.96" fill="#606060" filter="url(#bl05)"/>
<circle cx="18.6" cy="687.93" r="1.65" fill="#e6e6e6" filter="url(#bl05)"/>
<circle cx="21.49" cy="661.07" r="1.29" fill="#fafafa" filter="url(#bl05)"/>
<circle cx="33.08" cy="697.49" r="1.97" fill="#606060" filter="url(#bl05)"/>
<circle cx="18.14" cy="687.06" r="1.31" fill="#e6e6e6" filter="url(#bl05)"/>
<circle cx="32.25" cy="655.57" r="1.59" fill="#fafafa" filter="url(#bl05)"/>
<circle cx="15.73" cy="675.22" r="1.77" fill="#606060" filter="url(#bl05)"/>
<ellipse cx="20" cy="672" rx="3.5" ry="7" fill="#eaeaea" opacity="0.8" filter="url(#bl1)"/>
<ellipse cx="27" cy="692" rx="5" ry="3" fill="#dedede" opacity="0.8" filter="url(#bl1)"/>
<ellipse cx="36" cy="676" rx="8" ry="9" fill="#909090" opacity="0.5" filter="url(#bl2)"/>
<circle cx="113" cy="679.5" r="2.4" fill="#5e5e5e" filter="url(#bl05)"/>
<rect x="81.7" y="716" width="39.1" height="3" fill="#000"/>
</g>
<text x="3" y="615.1" font-size="13" fill="#000" font-weight="bold">F</text>
<g clip-path="url(#cFr)">
<rect x="128" y="599" width="124.5" height="124" fill="#000"/>
<ellipse cx="160.8" cy="675.3" rx="24.3" ry="24.3" fill="none" stroke="#4a1008" stroke-width="3.4" filter="url(#bl1)"/>
<circle cx="184.06" cy="674.5" r="1.71" fill="#a01a14" opacity="0.88" filter="url(#bl1)"/>
<circle cx="184.74" cy="678.18" r="1.34" fill="#b02418" opacity="0.5" filter="url(#bl1)"/>
<circle cx="184.95" cy="682.61" r="1.17" fill="#c02a1a" opacity="0.55" filter="url(#bl1)"/>
<circle cx="182.51" cy="685.76" r="1.23" fill="#b02418" opacity="0.75" filter="url(#bl1)"/>
<circle cx="180.74" cy="688.26" r="1.14" fill="#a01a14" opacity="0.64" filter="url(#bl1)"/>
<circle cx="179.38" cy="691.14" r="1.16" fill="#a04a14" opacity="0.65" filter="url(#bl1)"/>
<circle cx="176.84" cy="692.57" r="1.55" fill="#b08a28" opacity="0.56" filter="url(#bl1)"/>
<circle cx="173.89" cy="696.62" r="1.09" fill="#b08a28" opacity="0.63" filter="url(#bl1)"/>
<circle cx="171.83" cy="696.89" r="1.05" fill="#8a5a18" opacity="0.93" filter="url(#bl1)"/>
<circle cx="167.16" cy="697.71" r="1.11" fill="#a04a14" opacity="0.64" filter="url(#bl1)"/>
<circle cx="164.24" cy="699.88" r="1.4" fill="#8a5a18" opacity="0.59" filter="url(#bl1)"/>
<circle cx="160.12" cy="699.64" r="1.51" fill="#b08a28" opacity="0.8" filter="url(#bl1)"/>
<circle cx="158.62" cy="699.37" r="1.55" fill="#a07a20" opacity="0.68" filter="url(#bl1)"/>
<circle cx="153.89" cy="698.65" r="1.06" fill="#a07a20" opacity="0.64" filter="url(#bl1)"/>
<circle cx="150.51" cy="698.46" r="1.64" fill="#8a5a18" opacity="0.61" filter="url(#bl1)"/>
<circle cx="148.04" cy="695.85" r="1.54" fill="#a07a20" opacity="0.78" filter="url(#bl1)"/>
<circle cx="145.06" cy="694.83" r="1.17" fill="#a04a14" opacity="0.62" filter="url(#bl1)"/>
<circle cx="142.77" cy="690.83" r="1.87" fill="#a07a20" opacity="0.82" filter="url(#bl1)"/>
<circle cx="140.62" cy="689.19" r="1.88" fill="#a07a20" opacity="0.76" filter="url(#bl1)"/>
<circle cx="138.73" cy="684.85" r="1.14" fill="#a04a14" opacity="0.67" filter="url(#bl1)"/>
<circle cx="137.35" cy="681.17" r="1.57" fill="#a07a20" opacity="0.92" filter="url(#bl1)"/>
<circle cx="136.79" cy="679.16" r="1.59" fill="#b08a28" opacity="0.6" filter="url(#bl1)"/>
<circle cx="136.13" cy="675.86" r="1.83" fill="#8a5a18" opacity="0.54" filter="url(#bl1)"/>
<circle cx="136.83" cy="671.8" r="1.64" fill="#b08a28" opacity="0.94" filter="url(#bl1)"/>
<circle cx="137.59" cy="667.65" r="1.35" fill="#a07a20" opacity="0.54" filter="url(#bl1)"/>
<circle cx="137.89" cy="665.63" r="1.73" fill="#8a5a18" opacity="0.76" filter="url(#bl1)"/>
<circle cx="140.87" cy="663.18" r="1.5" fill="#a04a14" opacity="0.89" filter="url(#bl1)"/>
<circle cx="141.79" cy="659.55" r="1.02" fill="#b08a28" opacity="0.49" filter="url(#bl1)"/>
<circle cx="145.07" cy="656.78" r="1.65" fill="#b08a28" opacity="0.92" filter="url(#bl1)"/>
<circle cx="147.26" cy="654.31" r="1.7" fill="#8a5a18" opacity="0.83" filter="url(#bl1)"/>
<circle cx="151.13" cy="653.07" r="1.85" fill="#a04a14" opacity="0.64" filter="url(#bl1)"/>
<circle cx="153.36" cy="652.54" r="1.58" fill="#a07a20" opacity="0.64" filter="url(#bl1)"/>
<circle cx="156.75" cy="651.33" r="1.73" fill="#a01a14" opacity="0.94" filter="url(#bl1)"/>
<circle cx="161.04" cy="651.14" r="1.58" fill="#c02a1a" opacity="0.8" filter="url(#bl1)"/>
<circle cx="164.05" cy="651.07" r="1.9" fill="#8a1410" opacity="0.6" filter="url(#bl1)"/>
<circle cx="166.86" cy="652.13" r="1.1" fill="#a01a14" opacity="0.53" filter="url(#bl1)"/>
<circle cx="170.43" cy="654.63" r="1.82" fill="#b02418" opacity="0.58" filter="url(#bl1)"/>
<circle cx="173.13" cy="655.53" r="1.09" fill="#a01a14" opacity="0.49" filter="url(#bl1)"/>
<circle cx="176.91" cy="656.85" r="1.78" fill="#c02a1a" opacity="0.73" filter="url(#bl1)"/>
<circle cx="179.09" cy="659.54" r="1.66" fill="#a01a14" opacity="0.49" filter="url(#bl1)"/>
<circle cx="181.17" cy="662.14" r="1.39" fill="#b02418" opacity="0.85" filter="url(#bl1)"/>
<circle cx="182.28" cy="665.14" r="1.46" fill="#a01a14" opacity="0.89" filter="url(#bl1)"/>
<circle cx="183.76" cy="669.04" r="1.87" fill="#b02418" opacity="0.8" filter="url(#bl1)"/>
<circle cx="185.75" cy="671.57" r="1.82" fill="#b02418" opacity="0.48" filter="url(#bl1)"/>
<path d="M180 660 Q188 672 184 690" fill="none" stroke="#901414" stroke-width="3" opacity="0.7" filter="url(#bl1)"/>
<path d="M243.19 639.5C243.28 640.51 243.14 641.56 242.87 642.54C242.59 643.52 242.01 644.47 241.53 645.38C241.04 646.29 240.37 647.09 239.96 647.99C239.55 648.88 239.44 649.85 239.09 650.75C238.75 651.66 238.31 652.53 237.89 653.42C237.47 654.3 237.12 655.26 236.57 656.08C236.02 656.89 235.25 657.56 234.6 658.31C233.95 659.07 233.43 659.97 232.66 660.6C231.89 661.22 230.81 661.49 229.99 662.06C229.16 662.62 228.57 663.56 227.69 664C226.81 664.44 225.57 664.17 224.69 664.7C223.81 665.22 223.29 666.63 222.4 667.15C221.51 667.67 220.37 667.54 219.37 667.82C218.36 668.1 217.39 668.68 216.36 668.85C215.33 669.02 214.25 668.89 213.2 668.83C212.15 668.76 211.13 668.53 210.08 668.46C209.03 668.39 207.92 668.61 206.91 668.39C205.89 668.18 204.99 667.5 203.99 667.17C202.99 666.84 201.91 666.77 200.92 666.43C199.92 666.1 198.92 665.69 198.03 665.15C197.14 664.6 196.33 663.89 195.59 663.16C194.85 662.44 194.24 661.56 193.57 660.78C192.91 660 192.28 659.23 191.6 658.49C190.92 657.75 190.02 657.16 189.48 656.33C188.93 655.5 188.85 654.38 188.34 653.51C187.83 652.65 186.8 652.04 186.41 651.15C186.02 650.25 186.21 649.1 186 648.13C185.79 647.16 185.17 646.29 185.15 645.32C185.13 644.35 185.96 643.27 185.89 642.3C185.82 641.33 185.13 640.48 184.73 639.5C184.33 638.52 183.66 637.47 183.46 636.45C183.27 635.42 183.37 634.35 183.58 633.35C183.79 632.36 184.26 631.39 184.73 630.47C185.2 629.55 185.89 628.73 186.4 627.85C186.92 626.97 187.34 626.08 187.84 625.21C188.33 624.33 188.73 623.37 189.37 622.6C190.01 621.82 190.96 621.29 191.67 620.57C192.38 619.85 192.9 618.98 193.61 618.26C194.32 617.55 195.07 616.82 195.93 616.29C196.78 615.76 197.81 615.46 198.75 615.06C199.68 614.66 200.59 614.25 201.52 613.9C202.46 613.54 203.44 613.39 204.36 612.93C205.27 612.46 206.06 611.45 207.02 611.11C207.98 610.77 209.09 610.86 210.12 610.89C211.15 610.92 212.19 611.09 213.2 611.27C214.21 611.45 215.16 611.85 216.16 611.97C217.16 612.08 218.2 611.84 219.2 611.94C220.2 612.03 221.2 612.27 222.17 612.54C223.15 612.81 224.09 613.18 225.04 613.54C225.99 613.9 226.96 614.24 227.86 614.71C228.77 615.17 229.63 615.73 230.45 616.32C231.28 616.91 232.11 617.52 232.81 618.24C233.5 618.97 233.97 619.91 234.64 620.66C235.31 621.41 236.08 622.03 236.83 622.74C237.58 623.45 238.54 624.06 239.11 624.89C239.69 625.73 240 626.76 240.27 627.73C240.54 628.71 240.62 629.76 240.76 630.76C240.9 631.75 240.87 632.75 241.13 633.7C241.39 634.66 241.98 635.55 242.32 636.51C242.67 637.48 243.09 638.49 243.19 639.5Z" fill="none" stroke="#c01616" stroke-width="3.3" filter="url(#bl05)"/>
<circle cx="243.7" cy="638.31" r="1.71" fill="#e42a22" opacity="0.61" filter="url(#bl05)"/>
<circle cx="242.94" cy="642.34" r="1.25" fill="#a81414" opacity="0.5" filter="url(#bl05)"/>
<circle cx="242.45" cy="644.48" r="1.65" fill="#c81c1c" opacity="0.77" filter="url(#bl05)"/>
<circle cx="238.57" cy="649.27" r="1.49" fill="#a81414" opacity="0.66" filter="url(#bl05)"/>
<circle cx="239.04" cy="650.23" r="1.4" fill="#e42a22" opacity="0.68" filter="url(#bl05)"/>
<circle cx="238.41" cy="653.99" r="1.27" fill="#e42a22" opacity="0.85" filter="url(#bl05)"/>
<circle cx="237" cy="656.13" r="1.95" fill="#e42a22" opacity="0.71" filter="url(#bl05)"/>
<circle cx="234.27" cy="659.04" r="1.17" fill="#c81c1c" opacity="0.76" filter="url(#bl05)"/>
<circle cx="232.22" cy="660.21" r="1.73" fill="#c81c1c" opacity="0.48" filter="url(#bl05)"/>
<circle cx="230.37" cy="663.38" r="1.61" fill="#a81414" opacity="0.86" filter="url(#bl05)"/>
<circle cx="228.73" cy="664.16" r="1.46" fill="#c81c1c" opacity="0.81" filter="url(#bl05)"/>
<circle cx="224.15" cy="663.77" r="1.57" fill="#a81414" opacity="0.44" filter="url(#bl05)"/>
<circle cx="222.22" cy="668.07" r="1.49" fill="#c81c1c" opacity="0.58" filter="url(#bl05)"/>
<circle cx="219.54" cy="667.6" r="1.94" fill="#e42a22" opacity="0.75" filter="url(#bl05)"/>
<circle cx="216.34" cy="669.15" r="1.19" fill="#a81414" opacity="0.6" filter="url(#bl05)"/>
<circle cx="214.05" cy="668.93" r="1.11" fill="#e42a22" opacity="0.42" filter="url(#bl05)"/>
<circle cx="210.14" cy="668.3" r="1.95" fill="#c81c1c" opacity="0.69" filter="url(#bl05)"/>
<circle cx="208.18" cy="667.87" r="1.7" fill="#a81414" opacity="0.4" filter="url(#bl05)"/>
<circle cx="204.11" cy="669.29" r="1.76" fill="#a81414" opacity="0.69" filter="url(#bl05)"/>
<circle cx="200.36" cy="667.44" r="1.35" fill="#c81c1c" opacity="0.43" filter="url(#bl05)"/>
<circle cx="196.97" cy="665.55" r="1.59" fill="#c81c1c" opacity="0.59" filter="url(#bl05)"/>
<circle cx="195.62" cy="664.44" r="1.58" fill="#e42a22" opacity="0.69" filter="url(#bl05)"/>
<circle cx="194.57" cy="660.85" r="1.97" fill="#c81c1c" opacity="0.74" filter="url(#bl05)"/>
<circle cx="191.2" cy="659.25" r="1.74" fill="#a81414" opacity="0.7" filter="url(#bl05)"/>
<circle cx="189.18" cy="654.86" r="1.24" fill="#c81c1c" opacity="0.61" filter="url(#bl05)"/>
<circle cx="187.89" cy="652.8" r="1.69" fill="#e42a22" opacity="0.57" filter="url(#bl05)"/>
<circle cx="186.35" cy="652.43" r="1.99" fill="#a81414" opacity="0.44" filter="url(#bl05)"/>
<circle cx="187" cy="647.8" r="1.65" fill="#a81414" opacity="0.8" filter="url(#bl05)"/>
<circle cx="185.18" cy="645.43" r="1.37" fill="#a81414" opacity="0.88" filter="url(#bl05)"/>
<circle cx="186.54" cy="644.05" r="1.63" fill="#c81c1c" opacity="0.78" filter="url(#bl05)"/>
<circle cx="183.78" cy="639.27" r="1.87" fill="#e42a22" opacity="0.67" filter="url(#bl05)"/>
<circle cx="183.31" cy="635.58" r="1.22" fill="#a81414" opacity="0.81" filter="url(#bl05)"/>
<circle cx="183.28" cy="633.29" r="1.93" fill="#a81414" opacity="0.58" filter="url(#bl05)"/>
<circle cx="184.56" cy="630.29" r="1.2" fill="#e42a22" opacity="0.6" filter="url(#bl05)"/>
<circle cx="185.86" cy="628.26" r="1.41" fill="#c81c1c" opacity="0.53" filter="url(#bl05)"/>
<circle cx="187.3" cy="625.1" r="1.04" fill="#e42a22" opacity="0.52" filter="url(#bl05)"/>
<circle cx="190.69" cy="622.24" r="1.76" fill="#c81c1c" opacity="0.45" filter="url(#bl05)"/>
<circle cx="191.35" cy="620.82" r="1.57" fill="#c81c1c" opacity="0.59" filter="url(#bl05)"/>
<circle cx="193.26" cy="617.97" r="1.14" fill="#e42a22" opacity="0.55" filter="url(#bl05)"/>
<circle cx="196.15" cy="616.53" r="1.95" fill="#e42a22" opacity="0.86" filter="url(#bl05)"/>
<circle cx="198.84" cy="615.99" r="2.03" fill="#c81c1c" opacity="0.42" filter="url(#bl05)"/>
<circle cx="201.07" cy="614.2" r="1.43" fill="#a81414" opacity="0.87" filter="url(#bl05)"/>
<circle cx="205.35" cy="613.09" r="1.74" fill="#e42a22" opacity="0.56" filter="url(#bl05)"/>
<circle cx="206.88" cy="610.9" r="1.76" fill="#a81414" opacity="0.58" filter="url(#bl05)"/>
<circle cx="210.54" cy="608.71" r="1.48" fill="#c81c1c" opacity="0.46" filter="url(#bl05)"/>
<circle cx="212.51" cy="610.97" r="1.9" fill="#c81c1c" opacity="0.43" filter="url(#bl05)"/>
<circle cx="216.63" cy="611.89" r="1.22" fill="#c81c1c" opacity="0.78" filter="url(#bl05)"/>
<circle cx="218.93" cy="611.9" r="1.37" fill="#e42a22" opacity="0.48" filter="url(#bl05)"/>
<circle cx="222.62" cy="613.31" r="1.52" fill="#e42a22" opacity="0.81" filter="url(#bl05)"/>
<circle cx="225.67" cy="612.44" r="1.32" fill="#c81c1c" opacity="0.71" filter="url(#bl05)"/>
<circle cx="227.8" cy="614.47" r="1.57" fill="#c81c1c" opacity="0.89" filter="url(#bl05)"/>
<circle cx="230.25" cy="616" r="1.24" fill="#e42a22" opacity="0.72" filter="url(#bl05)"/>
<circle cx="232.77" cy="617.86" r="1.82" fill="#a81414" opacity="0.54" filter="url(#bl05)"/>
<circle cx="234.63" cy="620.7" r="1.64" fill="#a81414" opacity="0.87" filter="url(#bl05)"/>
<circle cx="237.46" cy="623.37" r="1.88" fill="#e42a22" opacity="0.56" filter="url(#bl05)"/>
<circle cx="240.02" cy="625.16" r="1.98" fill="#e42a22" opacity="0.7" filter="url(#bl05)"/>
<circle cx="239.71" cy="627.55" r="1.98" fill="#c81c1c" opacity="0.46" filter="url(#bl05)"/>
<circle cx="240.29" cy="630.16" r="1.76" fill="#e42a22" opacity="0.68" filter="url(#bl05)"/>
<circle cx="240.51" cy="634.98" r="1.39" fill="#a81414" opacity="0.62" filter="url(#bl05)"/>
<circle cx="240.94" cy="636.51" r="1.65" fill="#c81c1c" opacity="0.76" filter="url(#bl05)"/>
<path d="M205 632 Q214 626 226 634 Q232 644 226 652 Q214 658 206 650 Q200 640 205 632Z" fill="#5a0808" opacity="0.5" filter="url(#bl3)"/>
<path d="M218.66 637.28l-4.9 -0.36" stroke="#b01616" stroke-width="1" opacity="0.65" filter="url(#bl05)"/>
<path d="M231.48 637.34l-3.21 -1.14" stroke="#b01616" stroke-width="1" opacity="0.64" filter="url(#bl05)"/>
<path d="M223.4 650.96l-1.15 2.96" stroke="#b01616" stroke-width="1" opacity="0.51" filter="url(#bl05)"/>
<path d="M225.48 633.98l-3.11 3.01" stroke="#b01616" stroke-width="1" opacity="0.42" filter="url(#bl05)"/>
<path d="M223.77 638.18l-4.46 1.39" stroke="#b01616" stroke-width="1" opacity="0.57" filter="url(#bl05)"/>
<path d="M205.86 634.12l-3.23 -2.31" stroke="#b01616" stroke-width="1" opacity="0.6" filter="url(#bl05)"/>
<path d="M225.71 647.01l-0.03 2.29" stroke="#b01616" stroke-width="1" opacity="0.45" filter="url(#bl05)"/>
<path d="M223.53 628.42l-2.39 3.61" stroke="#b01616" stroke-width="1" opacity="0.79" filter="url(#bl05)"/>
<path d="M214.77 652.77l-1.42 -3.43" stroke="#b01616" stroke-width="1" opacity="0.71" filter="url(#bl05)"/>
<path d="M231.58 637.89l3.15 -1.98" stroke="#b01616" stroke-width="1" opacity="0.69" filter="url(#bl05)"/>
<path d="M214.33 638.41l0.04 -3.23" stroke="#b01616" stroke-width="1" opacity="0.42" filter="url(#bl05)"/>
<path d="M223.51 638.67l2.67 3.43" stroke="#b01616" stroke-width="1" opacity="0.66" filter="url(#bl05)"/>
<path d="M202.62 631.61l2.5 1.28" stroke="#b01616" stroke-width="1" opacity="0.65" filter="url(#bl05)"/>
<path d="M220.15 641.73l-3.34 2.53" stroke="#b01616" stroke-width="1" opacity="0.5" filter="url(#bl05)"/>
<path d="M211.06 636.41l4.56 -0.21" stroke="#b01616" stroke-width="1" opacity="0.69" filter="url(#bl05)"/>
<path d="M222.34 645.03l-1.99 -4.06" stroke="#b01616" stroke-width="1" opacity="0.46" filter="url(#bl05)"/>
<path d="M214.42 634.79l-0.57 4.62" stroke="#b01616" stroke-width="1" opacity="0.51" filter="url(#bl05)"/>
<path d="M212.08 641.14l1.7 -2.9" stroke="#b01616" stroke-width="1" opacity="0.69" filter="url(#bl05)"/>
<path d="M209.16 644.42l-0.18 3.54" stroke="#b01616" stroke-width="1" opacity="0.55" filter="url(#bl05)"/>
<path d="M227.54 645.43l-2.15 -1.05" stroke="#b01616" stroke-width="1" opacity="0.55" filter="url(#bl05)"/>
<path d="M211.61 642.63l-0.05 2.25" stroke="#b01616" stroke-width="1" opacity="0.6" filter="url(#bl05)"/>
<path d="M221.53 623.02l-2.43 3.54" stroke="#b01616" stroke-width="1" opacity="0.5" filter="url(#bl05)"/>
<path d="M225.27 631.78l0.94 -4.9" stroke="#b01616" stroke-width="1" opacity="0.51" filter="url(#bl05)"/>
<path d="M214.53 640.22l-1.61 -2.92" stroke="#b01616" stroke-width="1" opacity="0.64" filter="url(#bl05)"/>
<path d="M207.74 644.68l-2.96 -0.5" stroke="#b01616" stroke-width="1" opacity="0.53" filter="url(#bl05)"/>
<path d="M220.66 627.29l1.66 1.23" stroke="#b01616" stroke-width="1" opacity="0.58" filter="url(#bl05)"/>
<path d="M220.26 643.39l-4.06 -1.84" stroke="#b01616" stroke-width="1" opacity="0.73" filter="url(#bl05)"/>
<path d="M218.39 641.44l-2.39 1.21" stroke="#b01616" stroke-width="1" opacity="0.75" filter="url(#bl05)"/>
<path d="M229.64 648.99l3.66 -3.22" stroke="#b01616" stroke-width="1" opacity="0.5" filter="url(#bl05)"/>
<path d="M230.78 650.11l-0.01 -3.12" stroke="#b01616" stroke-width="1" opacity="0.67" filter="url(#bl05)"/>
<circle cx="159.4" cy="651.4" r="2.7" fill="#2ee81e" filter="url(#bl05)"/>
<circle cx="173.6" cy="650.2" r="2.8" fill="#2ee81e" filter="url(#bl05)"/>
<circle cx="140" cy="665" r="2.4" fill="#2ee81e" filter="url(#bl05)"/>
<circle cx="145.5" cy="658.5" r="1.3" fill="#2ee81e" filter="url(#bl05)"/>
<circle cx="183.8" cy="673" r="1.4" fill="#2ee81e" filter="url(#bl05)"/>
<circle cx="137" cy="682" r="1.1" fill="#2ee81e" filter="url(#bl05)"/>
<circle cx="141" cy="694" r="1.1" fill="#2ee81e" filter="url(#bl05)"/>
<ellipse cx="160.5" cy="705.5" rx="4.6" ry="5.2" fill="#30f020" filter="url(#bl1)"/>
<path d="M224.5 667 Q229 660 234 656.5 Q238 661 240 668 Q238 673 236 673 Q230 671 224.5 667Z" fill="#4cff24" filter="url(#bl05)"/>
<path d="M236 670 Q242 673 245 678" fill="none" stroke="#22c018" stroke-width="3.5" filter="url(#bl1)"/>
<rect x="209.1" y="716" width="40.1" height="3.4" fill="#fff"/>
</g>
<g clip-path="url(#cG)">
<rect x="267" y="599" width="124.5" height="124" fill="#7f7f7f"/>
<rect x="267" y="599" width="124.5" height="124" fill="#fff" opacity="0.05" filter="url(#nz2)"/>
<ellipse cx="326" cy="700" rx="15" ry="9" fill="#787878" filter="url(#bl2)"/>
<g filter="url(#bl1)"><g clip-path="url(#blobG)"><rect x="308" y="688" width="36" height="24" fill="#fff" opacity="0.22" filter="url(#nz)"/></g></g>
<path d="M314 700 Q322 694 332 698" fill="none" stroke="#a6a6a6" stroke-width="2" filter="url(#bl1)"/>
<path d="M355.28 655.5L354.65 664.43L352.29 672.86L348.13 679.83L342.71 684.69L336.77 687.78L330.5 689.49L324.04 688.76L318.15 685.02L312.82 679.9L308.68 672.89L305.94 664.58L305.01 655.5L305.95 646.42L308.69 638.12L312.83 631.11L318.18 626.06L324.01 622.08L330.5 621.04L337.01 621.96L342.89 625.9L348.24 631.02L352.23 638.18L354.98 646.45Z" fill="#898989" filter="url(#bl05)"/>
<g clip-path="url(#cellGo)"><rect x="304" y="620" width="54" height="72" fill="#fff" opacity="0.18" filter="url(#nz)"/></g>
<path d="M355.28 655.5L354.65 664.43L352.29 672.86L348.13 679.83L342.71 684.69L336.77 687.78L330.5 689.49L324.04 688.76L318.15 685.02L312.82 679.9L308.68 672.89L305.94 664.58L305.01 655.5L305.95 646.42L308.69 638.12L312.83 631.11L318.18 626.06L324.01 622.08L330.5 621.04L337.01 621.96L342.89 625.9L348.24 631.02L352.23 638.18L354.98 646.45Z" fill="none" stroke="#666" stroke-width="1.3" filter="url(#bl05)"/>
<path d="M318 628 Q307 640 308 662 Q310 678 318 686" fill="none" stroke="#bebebe" stroke-width="3" filter="url(#bl1)"/>
<path d="M322 626 Q333 620 344 628" fill="none" stroke="#a6a6a6" stroke-width="2.2" filter="url(#bl1)"/>
<path d="M351.86 661.5L351.16 668.22L349.69 674.78L346.48 679.9L342.83 684.36L338.35 686.86L333.6 687.81L328.98 686.13L324.84 683.18L321.14 679.31L317.83 674.51L315.52 668.42L314.85 661.5L315.87 654.71L317.5 648.21L320.22 642.37L324.17 638.15L328.84 636.11L333.6 635.65L338.34 636.23L342.87 638.55L346.73 642.73L349.73 648.19L351.12 654.79Z" fill="#818181"/>
<g clip-path="url(#cellG)"><rect x="313" y="634" width="42" height="55" fill="#fff" opacity="0.22" filter="url(#nz)"/></g>
<path d="M351.86 661.5L351.16 668.22L349.69 674.78L346.48 679.9L342.83 684.36L338.35 686.86L333.6 687.81L328.98 686.13L324.84 683.18L321.14 679.31L317.83 674.51L315.52 668.42L314.85 661.5L315.87 654.71L317.5 648.21L320.22 642.37L324.17 638.15L328.84 636.11L333.6 635.65L338.34 636.23L342.87 638.55L346.73 642.73L349.73 648.19L351.12 654.79Z" fill="none" stroke="#4e4e4e" stroke-width="1.6" filter="url(#bl05)"/>
<ellipse cx="324" cy="682.5" rx="4" ry="2.2" fill="#d4d4d4" filter="url(#bl1)"/>
<ellipse cx="320" cy="654" rx="2" ry="3.5" fill="#c8c8c8" filter="url(#bl1)"/>
<rect x="339.8" y="716" width="47.7" height="3" fill="#000"/>
</g>
<text x="276.2" y="615.4" font-size="13" fill="#000" font-weight="bold">G</text>
<g clip-path="url(#cGr)">
<rect x="394" y="599" width="124" height="124" fill="#000"/>
<path d="M448 632 Q441 645 441 660 Q443 678 452 688" fill="none" stroke="#1a0502" stroke-width="4" filter="url(#bl2)"/>
<path d="M455 630 Q470 631 479 652 Q482 672 468 685 Q460 690 455 687" fill="none" stroke="#6a1a06" stroke-width="2.6" filter="url(#bl1)"/>
<ellipse cx="460" cy="684" rx="6" ry="5" fill="#4a1204" filter="url(#bl2)"/>
<circle cx="458.5" cy="686.5" r="2.4" fill="#8a2a0c" filter="url(#bl1)"/>
<circle cx="451.5" cy="631" r="1.8" fill="#8a5a10" filter="url(#bl1)"/>
<circle cx="466" cy="632.5" r="2" fill="#8a2a0c" filter="url(#bl1)"/>
<circle cx="476" cy="645" r="1.8" fill="#8a2a0c" filter="url(#bl1)"/>
<path d="M480 658 Q480 668 476 676 Q472 683 466 686" fill="none" stroke="#80c020" stroke-width="2.4" filter="url(#bl1)"/>
<circle cx="479.8" cy="661" r="2" fill="#b0f020" filter="url(#bl05)"/>
<circle cx="478.5" cy="669.5" r="2.3" fill="#b0f020" filter="url(#bl05)"/>
<circle cx="476" cy="675.5" r="2" fill="#b0f020" filter="url(#bl05)"/>
<circle cx="472" cy="680.5" r="2.4" fill="#b0f020" filter="url(#bl05)"/>
<circle cx="467" cy="684.5" r="1.8" fill="#b0f020" filter="url(#bl05)"/>
<rect x="468" y="716" width="47.2" height="3.2" fill="#fff"/>
</g>
</svg>
</body></html>
